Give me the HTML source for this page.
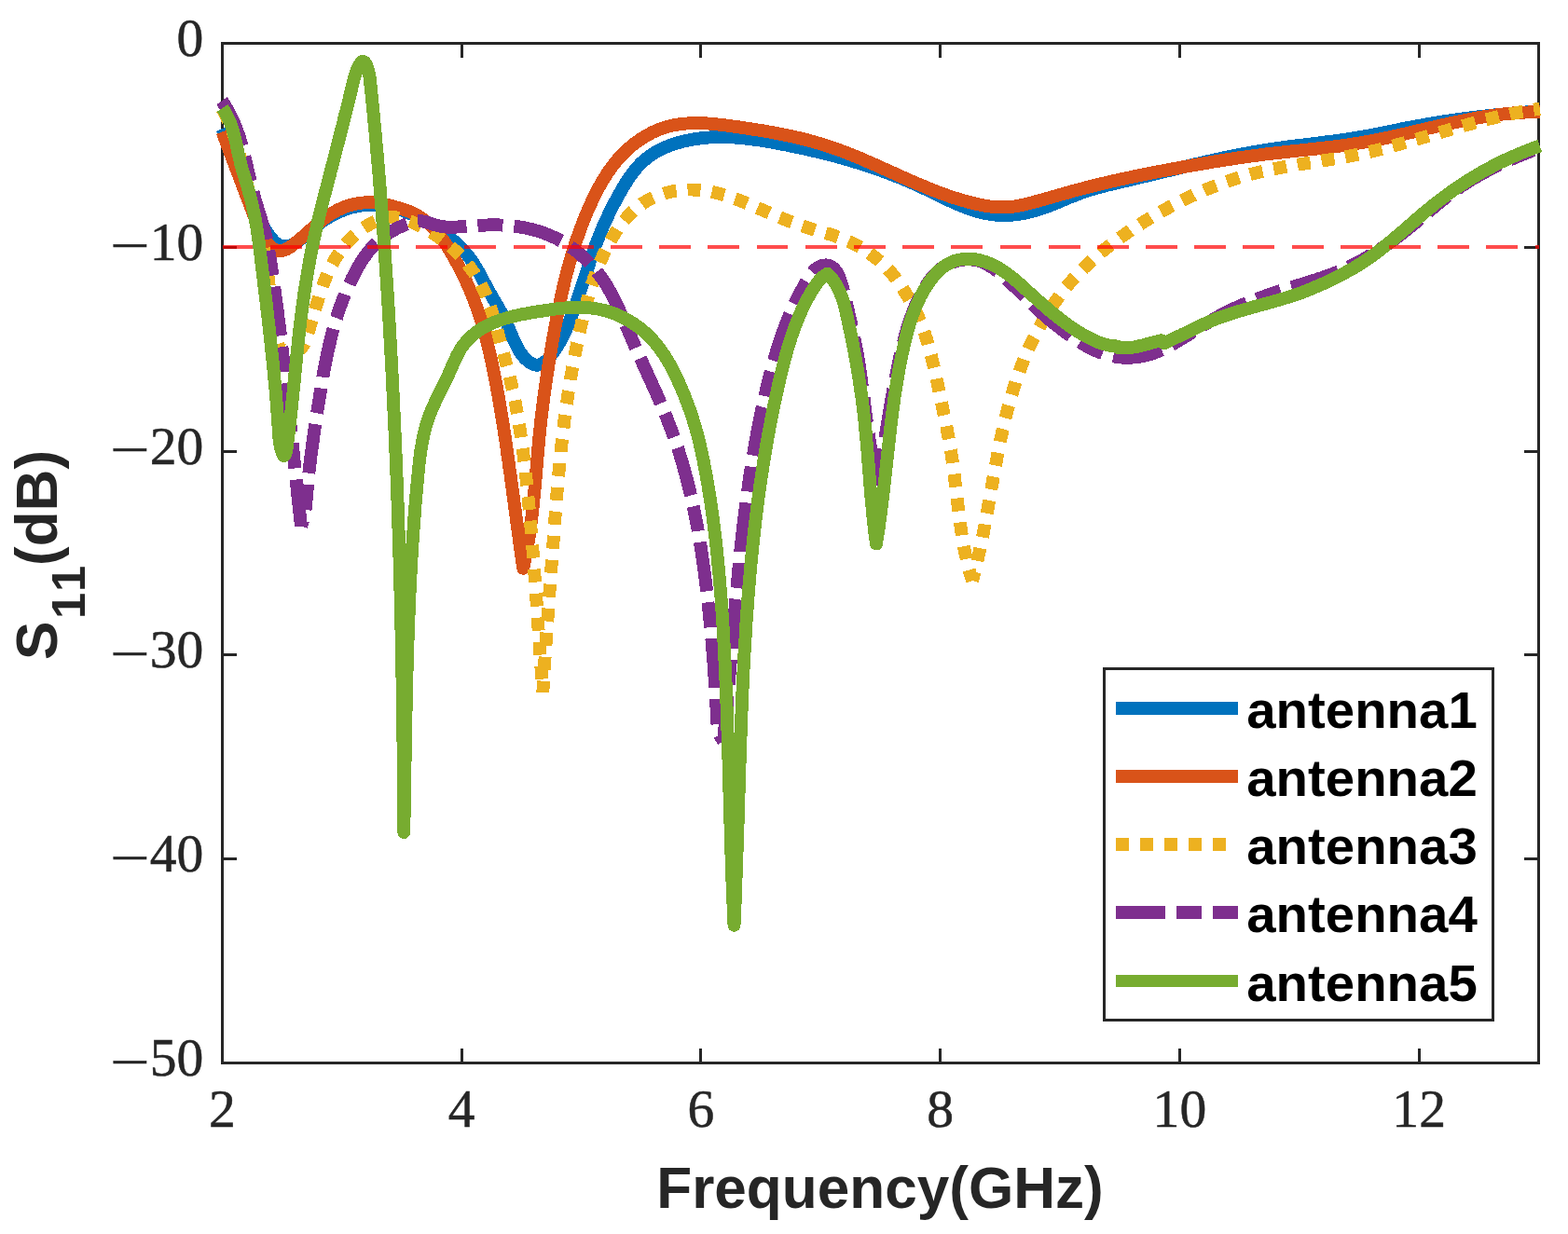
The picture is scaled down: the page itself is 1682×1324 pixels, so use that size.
<!DOCTYPE html>
<html lang="en"><head><meta charset="utf-8"><title>S11 vs Frequency</title>
<style>html,body{margin:0;padding:0;background:#fff}svg{display:block}.tk{font-family:"Liberation Serif",serif;fill:#262626;stroke:#262626;stroke-width:0.5px}.lb{font-family:"Liberation Sans",sans-serif;font-weight:bold;fill:#262626}.lg{font-family:"Liberation Sans",sans-serif;font-weight:bold;fill:#000}</style></head><body>
<svg width="1682" height="1324" viewBox="0 0 1682 1324" shape-rendering="crispEdges">
<rect x="0" y="0" width="1682" height="1324" fill="#fff"/>
<g stroke="#262626" stroke-width="3.0" fill="none" stroke-linecap="butt">
<rect x="238.5" y="46.5" width="1412.0" height="1094.0"/>
<path d="M495.23,1140.5 V1125.3 M495.23,46.5 V61.7"/>
<path d="M751.95,1140.5 V1125.3 M751.95,46.5 V61.7"/>
<path d="M1008.68,1140.5 V1125.3 M1008.68,46.5 V61.7"/>
<path d="M1265.41,1140.5 V1125.3 M1265.41,46.5 V61.7"/>
<path d="M1522.14,1140.5 V1125.3 M1522.14,46.5 V61.7"/>
<path d="M238.5,265.30 H253.7 M1650.5,265.30 H1635.3"/>
<path d="M238.5,484.10 H253.7 M1650.5,484.10 H1635.3"/>
<path d="M238.5,702.90 H253.7 M1650.5,702.90 H1635.3"/>
<path d="M238.5,921.70 H253.7 M1650.5,921.70 H1635.3"/>
</g>
<path d="M238.5,138.0 L239.1,139.4 L239.6,140.8 L240.2,142.1 L240.8,143.5 L241.3,144.9 L241.9,146.3 L242.5,147.7 L243.1,149.1 L243.6,150.5 L244.2,151.8 L244.8,153.2 L245.3,154.6 L245.9,156.0 L246.5,157.4 L247.0,158.8 L247.6,160.2 L248.2,161.6 L248.7,163.0 L249.3,164.4 L249.9,165.8 L250.4,167.2 L251.0,168.6 L251.5,170.0 L252.1,171.4 L252.7,172.8 L253.2,174.2 L253.8,175.6 L254.3,177.0 L254.9,178.4 L255.4,179.8 L256.0,181.2 L256.6,182.6 L257.1,184.0 L257.7,185.4 L258.2,186.8 L258.7,188.2 L259.3,189.6 L259.8,191.0 L260.4,192.4 L260.9,193.8 L261.5,195.2 L262.0,196.6 L262.5,198.0 L263.1,199.4 L263.6,200.8 L264.1,202.1 L264.7,203.5 L265.2,204.9 L265.7,206.3 L266.3,207.7 L266.8,209.1 L267.4,210.5 L267.9,211.9 L268.5,213.3 L269.0,214.6 L269.6,216.0 L270.2,217.4 L270.7,218.8 L271.3,220.2 L271.9,221.5 L272.5,222.9 L273.1,224.3 L273.7,225.6 L274.3,227.0 L275.0,228.4 L275.6,229.7 L276.3,231.1 L276.9,232.4 L277.6,233.8 L278.3,235.1 L279.0,236.5 L279.7,237.8 L280.5,239.2 L281.2,240.5 L282.0,241.8 L282.7,243.2 L283.5,244.5 L284.3,245.8 L285.2,247.1 L286.0,248.4 L286.9,249.8 L287.8,251.1 L288.7,252.4 L289.6,253.6 L290.6,254.9 L291.5,256.1 L292.5,257.3 L293.6,258.5 L294.6,259.5 L295.7,260.5 L296.8,261.4 L298.0,262.2 L299.2,262.9 L300.5,263.4 L301.8,263.8 L303.1,264.1 L304.5,264.3 L305.9,264.3 L307.3,264.2 L308.7,264.0 L310.2,263.7 L311.6,263.3 L313.0,262.8 L314.4,262.2 L315.7,261.5 L317.0,260.8 L318.3,260.0 L319.5,259.1 L320.7,258.2 L321.9,257.3 L323.1,256.3 L324.3,255.3 L325.4,254.3 L326.5,253.2 L327.7,252.2 L328.8,251.1 L330.0,250.1 L331.1,249.0 L332.3,248.0 L333.4,247.0 L334.6,246.0 L335.8,245.0 L337.0,244.0 L338.2,243.1 L339.5,242.1 L340.7,241.2 L342.0,240.3 L343.2,239.4 L344.5,238.5 L345.7,237.6 L347.0,236.8 L348.3,235.9 L349.6,235.1 L350.9,234.3 L352.2,233.5 L353.5,232.7 L354.9,232.0 L356.2,231.3 L357.5,230.5 L358.9,229.9 L360.2,229.2 L361.6,228.5 L363.0,227.9 L364.3,227.3 L365.7,226.7 L367.1,226.1 L368.5,225.6 L369.9,225.0 L371.3,224.5 L372.7,224.1 L374.1,223.6 L375.5,223.2 L376.9,222.7 L378.3,222.4 L379.8,222.0 L381.2,221.7 L382.6,221.4 L384.1,221.1 L385.5,220.8 L387.0,220.6 L388.4,220.4 L389.9,220.2 L391.3,220.0 L392.8,219.9 L394.2,219.8 L395.7,219.8 L397.1,219.7 L398.6,219.7 L400.1,219.7 L401.5,219.8 L403.0,219.8 L404.5,219.9 L405.9,220.1 L407.4,220.2 L408.9,220.4 L410.3,220.6 L411.8,220.8 L413.3,221.0 L414.7,221.3 L416.2,221.5 L417.6,221.8 L419.1,222.2 L420.6,222.5 L422.0,222.9 L423.5,223.3 L424.9,223.7 L426.4,224.1 L427.8,224.6 L429.3,225.0 L430.7,225.5 L432.2,226.0 L433.6,226.5 L435.0,227.1 L436.4,227.6 L437.9,228.2 L439.3,228.8 L440.7,229.4 L442.1,230.0 L443.5,230.6 L444.9,231.3 L446.3,231.9 L447.7,232.6 L449.1,233.3 L450.5,234.0 L451.8,234.7 L453.2,235.4 L454.5,236.2 L455.9,236.9 L457.2,237.7 L458.6,238.5 L459.9,239.3 L461.2,240.1 L462.5,240.9 L463.8,241.7 L465.1,242.5 L466.4,243.3 L467.7,244.2 L469.0,245.0 L470.2,245.9 L471.5,246.7 L472.7,247.6 L474.0,248.5 L475.2,249.3 L476.4,250.2 L477.6,251.1 L478.8,252.0 L480.0,252.9 L481.1,253.8 L482.3,254.8 L483.4,255.7 L484.6,256.6 L485.7,257.6 L486.8,258.6 L487.9,259.5 L489.0,260.5 L490.1,261.5 L491.2,262.5 L492.2,263.5 L493.2,264.6 L494.3,265.6 L495.3,266.7 L496.3,267.7 L497.3,268.8 L498.3,269.9 L499.2,271.0 L500.2,272.1 L501.1,273.3 L502.1,274.4 L503.0,275.6 L503.9,276.8 L504.7,278.0 L505.6,279.2 L506.5,280.4 L507.3,281.7 L508.1,282.9 L508.9,284.2 L509.8,285.5 L510.5,286.8 L511.3,288.1 L512.1,289.4 L512.9,290.7 L513.6,292.1 L514.4,293.4 L515.1,294.8 L515.8,296.1 L516.6,297.5 L517.3,298.8 L518.0,300.2 L518.7,301.5 L519.4,302.9 L520.2,304.2 L520.9,305.6 L521.6,306.9 L522.3,308.3 L523.0,309.6 L523.7,310.9 L524.5,312.2 L525.2,313.5 L525.9,314.8 L526.6,316.1 L527.4,317.4 L528.1,318.7 L528.8,319.9 L529.6,321.2 L530.3,322.5 L531.1,323.7 L531.8,325.0 L532.5,326.2 L533.3,327.5 L534.0,328.7 L534.7,330.0 L535.5,331.2 L536.2,332.5 L536.9,333.8 L537.6,335.1 L538.3,336.4 L539.0,337.7 L539.7,339.0 L540.4,340.3 L541.1,341.6 L541.7,343.0 L542.4,344.3 L543.0,345.7 L543.7,347.1 L544.3,348.5 L544.9,350.0 L545.5,351.4 L546.1,352.8 L546.7,354.3 L547.3,355.8 L547.9,357.2 L548.6,358.7 L549.2,360.2 L549.8,361.6 L550.4,363.1 L551.0,364.5 L551.7,366.0 L552.3,367.4 L553.0,368.8 L553.7,370.2 L554.4,371.6 L555.1,373.0 L555.9,374.3 L556.6,375.7 L557.4,377.0 L558.3,378.2 L559.1,379.5 L560.0,380.7 L560.9,381.8 L561.8,383.0 L562.8,384.1 L563.8,385.1 L564.9,386.1 L566.0,387.1 L567.1,388.0 L568.3,388.9 L569.5,389.7 L570.7,390.3 L572.0,390.9 L573.2,391.3 L574.5,391.6 L575.7,391.7 L577.0,391.6 L578.2,391.4 L579.4,391.0 L580.6,390.5 L581.8,389.9 L583.0,389.2 L584.2,388.4 L585.3,387.4 L586.5,386.4 L587.6,385.3 L588.7,384.2 L589.7,383.0 L590.8,381.7 L591.8,380.5 L592.8,379.1 L593.8,377.8 L594.7,376.5 L595.7,375.2 L596.5,373.8 L597.4,372.5 L598.2,371.2 L599.0,369.8 L599.8,368.5 L600.6,367.2 L601.3,365.8 L602.1,364.5 L602.8,363.2 L603.4,361.8 L604.1,360.5 L604.8,359.1 L605.4,357.8 L606.0,356.4 L606.6,355.1 L607.2,353.7 L607.8,352.3 L608.4,351.0 L609.0,349.6 L609.5,348.2 L610.1,346.9 L610.6,345.5 L611.2,344.1 L611.7,342.7 L612.2,341.3 L612.8,339.9 L613.3,338.6 L613.8,337.2 L614.3,335.8 L614.8,334.4 L615.4,333.0 L615.9,331.6 L616.4,330.2 L616.9,328.8 L617.4,327.3 L617.8,325.9 L618.3,324.5 L618.8,323.1 L619.3,321.7 L619.8,320.3 L620.3,318.8 L620.7,317.4 L621.2,316.0 L621.7,314.6 L622.2,313.2 L622.6,311.7 L623.1,310.3 L623.6,308.9 L624.0,307.4 L624.5,306.0 L625.0,304.6 L625.4,303.2 L625.9,301.7 L626.4,300.3 L626.8,298.9 L627.3,297.4 L627.8,296.0 L628.2,294.6 L628.7,293.1 L629.2,291.7 L629.6,290.3 L630.1,288.8 L630.6,287.4 L631.0,286.0 L631.5,284.6 L632.0,283.1 L632.5,281.7 L632.9,280.3 L633.4,278.8 L633.9,277.4 L634.4,276.0 L634.9,274.6 L635.4,273.2 L635.9,271.7 L636.4,270.3 L636.9,268.9 L637.4,267.5 L637.9,266.1 L638.4,264.7 L638.9,263.3 L639.4,261.8 L640.0,260.4 L640.5,259.0 L641.0,257.6 L641.6,256.2 L642.1,254.8 L642.6,253.5 L643.2,252.1 L643.8,250.7 L644.3,249.3 L644.9,247.9 L645.5,246.5 L646.1,245.2 L646.6,243.8 L647.2,242.4 L647.8,241.0 L648.4,239.7 L649.1,238.3 L649.7,237.0 L650.3,235.6 L650.9,234.3 L651.6,232.9 L652.2,231.6 L652.9,230.2 L653.5,228.9 L654.2,227.5 L654.8,226.2 L655.5,224.8 L656.2,223.5 L656.9,222.2 L657.5,220.8 L658.2,219.5 L658.9,218.2 L659.6,216.8 L660.4,215.5 L661.1,214.2 L661.8,212.8 L662.5,211.5 L663.3,210.2 L664.0,208.8 L664.7,207.5 L665.5,206.2 L666.2,204.9 L667.0,203.5 L667.8,202.2 L668.5,200.9 L669.3,199.6 L670.1,198.3 L670.9,197.0 L671.7,195.7 L672.5,194.4 L673.4,193.1 L674.2,191.8 L675.1,190.6 L675.9,189.3 L676.8,188.1 L677.7,186.8 L678.6,185.6 L679.5,184.4 L680.5,183.2 L681.4,182.0 L682.4,180.9 L683.3,179.8 L684.3,178.6 L685.4,177.5 L686.4,176.4 L687.4,175.4 L688.5,174.3 L689.6,173.3 L690.7,172.3 L691.8,171.4 L693.0,170.4 L694.1,169.5 L695.3,168.6 L696.5,167.7 L697.7,166.8 L698.9,166.0 L700.2,165.2 L701.4,164.4 L702.7,163.6 L704.0,162.9 L705.3,162.1 L706.6,161.4 L708.0,160.7 L709.3,160.1 L710.7,159.4 L712.0,158.8 L713.4,158.2 L714.8,157.6 L716.2,157.0 L717.6,156.5 L719.0,155.9 L720.4,155.4 L721.9,154.9 L723.3,154.4 L724.8,154.0 L726.2,153.5 L727.7,153.1 L729.1,152.7 L730.6,152.3 L732.1,151.9 L733.5,151.5 L735.0,151.2 L736.5,150.9 L738.0,150.6 L739.5,150.2 L740.9,150.0 L742.4,149.7 L743.9,149.4 L745.4,149.2 L746.9,149.0 L748.4,148.8 L749.9,148.6 L751.4,148.4 L752.8,148.2 L754.3,148.0 L755.8,147.9 L757.3,147.8 L758.8,147.6 L760.3,147.5 L761.8,147.4 L763.3,147.4 L764.8,147.3 L766.3,147.2 L767.8,147.2 L769.3,147.1 L770.8,147.1 L772.3,147.1 L773.8,147.1 L775.3,147.1 L776.7,147.1 L778.2,147.2 L779.7,147.2 L781.2,147.2 L782.7,147.3 L784.2,147.4 L785.7,147.4 L787.2,147.5 L788.7,147.6 L790.2,147.7 L791.7,147.8 L793.2,148.0 L794.7,148.1 L796.2,148.2 L797.7,148.4 L799.2,148.5 L800.7,148.7 L802.2,148.9 L803.7,149.0 L805.2,149.2 L806.7,149.4 L808.2,149.6 L809.7,149.8 L811.2,150.0 L812.6,150.2 L814.1,150.4 L815.6,150.6 L817.1,150.9 L818.6,151.1 L820.1,151.3 L821.6,151.6 L823.1,151.8 L824.6,152.1 L826.1,152.3 L827.5,152.6 L829.0,152.9 L830.5,153.1 L832.0,153.4 L833.5,153.7 L835.0,154.0 L836.5,154.2 L837.9,154.5 L839.4,154.8 L840.9,155.1 L842.4,155.4 L843.9,155.7 L845.3,156.0 L846.8,156.3 L848.3,156.6 L849.8,156.9 L851.2,157.2 L852.7,157.5 L854.2,157.8 L855.7,158.1 L857.1,158.4 L858.6,158.7 L860.1,159.0 L861.5,159.4 L863.0,159.7 L864.5,160.0 L865.9,160.3 L867.4,160.7 L868.9,161.0 L870.3,161.3 L871.8,161.7 L873.2,162.0 L874.7,162.3 L876.2,162.7 L877.6,163.0 L879.1,163.4 L880.5,163.7 L882.0,164.1 L883.4,164.5 L884.9,164.8 L886.3,165.2 L887.8,165.6 L889.2,165.9 L890.7,166.3 L892.1,166.7 L893.6,167.1 L895.0,167.5 L896.5,167.8 L897.9,168.2 L899.4,168.6 L900.8,169.0 L902.2,169.4 L903.7,169.8 L905.1,170.2 L906.6,170.6 L908.0,171.0 L909.4,171.5 L910.9,171.9 L912.3,172.3 L913.7,172.7 L915.2,173.2 L916.6,173.6 L918.0,174.0 L919.5,174.5 L920.9,174.9 L922.3,175.4 L923.7,175.8 L925.2,176.3 L926.6,176.7 L928.0,177.2 L929.4,177.6 L930.9,178.1 L932.3,178.6 L933.7,179.0 L935.1,179.5 L936.5,180.0 L937.9,180.5 L939.4,181.0 L940.8,181.5 L942.2,182.0 L943.6,182.5 L945.0,183.0 L946.4,183.5 L947.8,184.0 L949.2,184.5 L950.6,185.0 L952.0,185.6 L953.4,186.1 L954.8,186.6 L956.2,187.2 L957.6,187.7 L959.0,188.3 L960.4,188.8 L961.8,189.4 L963.2,189.9 L964.6,190.5 L966.0,191.0 L967.4,191.6 L968.8,192.2 L970.2,192.8 L971.6,193.3 L973.0,193.9 L974.4,194.5 L975.8,195.1 L977.1,195.7 L978.5,196.3 L979.9,196.9 L981.3,197.6 L982.7,198.2 L984.1,198.8 L985.4,199.4 L986.8,200.1 L988.2,200.7 L989.6,201.3 L990.9,202.0 L992.3,202.6 L993.7,203.3 L995.1,203.9 L996.4,204.6 L997.8,205.3 L999.2,205.9 L1000.5,206.6 L1001.9,207.3 L1003.3,207.9 L1004.7,208.6 L1006.0,209.3 L1007.4,209.9 L1008.8,210.6 L1010.1,211.3 L1011.5,211.9 L1012.9,212.6 L1014.2,213.2 L1015.6,213.9 L1017.0,214.5 L1018.4,215.2 L1019.7,215.8 L1021.1,216.4 L1022.5,217.1 L1023.9,217.7 L1025.2,218.3 L1026.6,218.9 L1028.0,219.5 L1029.4,220.1 L1030.8,220.6 L1032.2,221.2 L1033.6,221.7 L1034.9,222.3 L1036.3,222.8 L1037.7,223.3 L1039.1,223.8 L1040.5,224.3 L1041.9,224.8 L1043.4,225.3 L1044.8,225.7 L1046.2,226.2 L1047.6,226.6 L1049.0,227.0 L1050.4,227.4 L1051.9,227.8 L1053.3,228.1 L1054.7,228.5 L1056.2,228.8 L1057.6,229.1 L1059.1,229.4 L1060.5,229.6 L1062.0,229.9 L1063.4,230.1 L1064.9,230.3 L1066.3,230.5 L1067.8,230.6 L1069.3,230.7 L1070.8,230.9 L1072.3,230.9 L1073.7,231.0 L1075.2,231.0 L1076.7,231.1 L1078.2,231.0 L1079.7,231.0 L1081.3,231.0 L1082.8,230.9 L1084.3,230.8 L1085.8,230.7 L1087.3,230.5 L1088.8,230.4 L1090.3,230.2 L1091.8,230.0 L1093.3,229.8 L1094.9,229.5 L1096.4,229.3 L1097.9,229.0 L1099.4,228.7 L1100.9,228.4 L1102.4,228.1 L1103.9,227.7 L1105.3,227.4 L1106.8,227.0 L1108.3,226.6 L1109.8,226.2 L1111.2,225.8 L1112.7,225.3 L1114.1,224.9 L1115.6,224.4 L1117.0,223.9 L1118.4,223.5 L1119.8,223.0 L1121.3,222.4 L1122.7,221.9 L1124.1,221.4 L1125.5,220.9 L1126.9,220.3 L1128.3,219.8 L1129.7,219.2 L1131.1,218.6 L1132.5,218.1 L1133.9,217.5 L1135.3,216.9 L1136.6,216.4 L1138.0,215.8 L1139.4,215.2 L1140.8,214.6 L1142.2,214.0 L1143.6,213.5 L1144.9,212.9 L1146.3,212.3 L1147.7,211.7 L1149.1,211.2 L1150.5,210.6 L1151.9,210.1 L1153.3,209.5 L1154.6,209.0 L1156.0,208.4 L1157.4,207.9 L1158.8,207.4 L1160.2,206.9 L1161.7,206.4 L1163.1,205.9 L1164.5,205.4 L1165.9,205.0 L1167.3,204.5 L1168.7,204.1 L1170.2,203.6 L1171.6,203.2 L1173.0,202.7 L1174.5,202.3 L1175.9,201.9 L1177.4,201.5 L1178.8,201.1 L1180.3,200.7 L1181.7,200.3 L1183.2,200.0 L1184.6,199.6 L1186.1,199.2 L1187.5,198.8 L1189.0,198.5 L1190.4,198.1 L1191.9,197.8 L1193.4,197.4 L1194.8,197.1 L1196.3,196.7 L1197.7,196.4 L1199.2,196.0 L1200.7,195.7 L1202.1,195.3 L1203.6,195.0 L1205.1,194.7 L1206.5,194.3 L1208.0,194.0 L1209.5,193.6 L1210.9,193.3 L1212.4,193.0 L1213.9,192.6 L1215.3,192.3 L1216.8,191.9 L1218.3,191.6 L1219.7,191.2 L1221.2,190.9 L1222.7,190.5 L1224.1,190.2 L1225.6,189.8 L1227.0,189.5 L1228.5,189.1 L1230.0,188.8 L1231.4,188.4 L1232.9,188.1 L1234.4,187.7 L1235.8,187.4 L1237.3,187.0 L1238.7,186.7 L1240.2,186.3 L1241.7,186.0 L1243.1,185.6 L1244.6,185.2 L1246.1,184.9 L1247.5,184.5 L1249.0,184.2 L1250.4,183.8 L1251.9,183.5 L1253.4,183.1 L1254.8,182.8 L1256.3,182.4 L1257.7,182.1 L1259.2,181.7 L1260.7,181.3 L1262.1,181.0 L1263.6,180.6 L1265.0,180.3 L1266.5,179.9 L1268.0,179.6 L1269.4,179.2 L1270.9,178.9 L1272.4,178.5 L1273.8,178.2 L1275.3,177.8 L1276.7,177.5 L1278.2,177.2 L1279.7,176.8 L1281.1,176.5 L1282.6,176.1 L1284.0,175.8 L1285.5,175.4 L1287.0,175.1 L1288.4,174.8 L1289.9,174.4 L1291.4,174.1 L1292.8,173.8 L1294.3,173.4 L1295.8,173.1 L1297.2,172.8 L1298.7,172.4 L1300.1,172.1 L1301.6,171.8 L1303.1,171.5 L1304.5,171.1 L1306.0,170.8 L1307.5,170.5 L1308.9,170.2 L1310.4,169.9 L1311.9,169.6 L1313.3,169.2 L1314.8,168.9 L1316.3,168.6 L1317.7,168.3 L1319.2,168.0 L1320.7,167.7 L1322.2,167.4 L1323.6,167.1 L1325.1,166.8 L1326.6,166.5 L1328.0,166.2 L1329.5,165.9 L1331.0,165.7 L1332.4,165.4 L1333.9,165.1 L1335.4,164.8 L1336.9,164.5 L1338.3,164.3 L1339.8,164.0 L1341.3,163.7 L1342.8,163.5 L1344.2,163.2 L1345.7,162.9 L1347.2,162.7 L1348.7,162.4 L1350.2,162.2 L1351.6,161.9 L1353.1,161.7 L1354.6,161.4 L1356.1,161.2 L1357.6,160.9 L1359.0,160.7 L1360.5,160.5 L1362.0,160.3 L1363.5,160.0 L1365.0,159.8 L1366.5,159.6 L1367.9,159.4 L1369.4,159.2 L1370.9,159.0 L1372.4,158.7 L1373.9,158.5 L1375.4,158.3 L1376.9,158.1 L1378.4,157.9 L1379.9,157.7 L1381.3,157.5 L1382.8,157.3 L1384.3,157.1 L1385.8,157.0 L1387.3,156.8 L1388.8,156.6 L1390.3,156.4 L1391.8,156.2 L1393.3,156.0 L1394.8,155.8 L1396.3,155.6 L1397.7,155.5 L1399.2,155.3 L1400.7,155.1 L1402.2,154.9 L1403.7,154.7 L1405.2,154.6 L1406.7,154.4 L1408.2,154.2 L1409.7,154.0 L1411.2,153.8 L1412.7,153.6 L1414.2,153.5 L1415.7,153.3 L1417.1,153.1 L1418.6,152.9 L1420.1,152.7 L1421.6,152.5 L1423.1,152.3 L1424.6,152.1 L1426.1,152.0 L1427.6,151.8 L1429.1,151.6 L1430.6,151.4 L1432.1,151.2 L1433.5,151.0 L1435.0,150.8 L1436.5,150.6 L1438.0,150.3 L1439.5,150.1 L1441.0,149.9 L1442.5,149.7 L1444.0,149.5 L1445.4,149.3 L1446.9,149.0 L1448.4,148.8 L1449.9,148.6 L1451.4,148.4 L1452.9,148.1 L1454.3,147.9 L1455.8,147.6 L1457.3,147.4 L1458.8,147.1 L1460.3,146.9 L1461.7,146.6 L1463.2,146.4 L1464.7,146.1 L1466.2,145.8 L1467.6,145.6 L1469.1,145.3 L1470.6,145.0 L1472.1,144.7 L1473.5,144.4 L1475.0,144.2 L1476.5,143.9 L1478.0,143.6 L1479.4,143.3 L1480.9,143.0 L1482.4,142.7 L1483.8,142.4 L1485.3,142.1 L1486.8,141.8 L1488.3,141.5 L1489.7,141.2 L1491.2,140.9 L1492.7,140.6 L1494.1,140.3 L1495.6,140.0 L1497.1,139.7 L1498.5,139.4 L1500.0,139.1 L1501.5,138.8 L1503.0,138.5 L1504.4,138.2 L1505.9,137.9 L1507.4,137.6 L1508.9,137.3 L1510.3,137.1 L1511.8,136.8 L1513.3,136.5 L1514.7,136.2 L1516.2,135.9 L1517.7,135.6 L1519.2,135.4 L1520.7,135.1 L1522.1,134.8 L1523.6,134.6 L1525.1,134.3 L1526.6,134.0 L1528.0,133.8 L1529.5,133.5 L1531.0,133.3 L1532.5,133.0 L1534.0,132.7 L1535.4,132.5 L1536.9,132.2 L1538.4,132.0 L1539.9,131.8 L1541.4,131.5 L1542.9,131.3 L1544.3,131.0 L1545.8,130.8 L1547.3,130.6 L1548.8,130.3 L1550.3,130.1 L1551.8,129.9 L1553.2,129.7 L1554.7,129.4 L1556.2,129.2 L1557.7,129.0 L1559.2,128.8 L1560.7,128.6 L1562.2,128.4 L1563.7,128.2 L1565.1,128.0 L1566.6,127.7 L1568.1,127.5 L1569.6,127.3 L1571.1,127.1 L1572.6,127.0 L1574.1,126.8 L1575.6,126.6 L1577.1,126.4 L1578.5,126.2 L1580.0,126.0 L1581.5,125.8 L1583.0,125.6 L1584.5,125.5 L1586.0,125.3 L1587.5,125.1 L1589.0,124.9 L1590.5,124.8 L1592.0,124.6 L1593.5,124.4 L1595.0,124.3 L1596.5,124.1 L1597.9,123.9 L1599.4,123.8 L1600.9,123.6 L1602.4,123.5 L1603.9,123.3 L1605.4,123.2 L1606.9,123.0 L1608.4,122.9 L1609.9,122.7 L1611.4,122.6 L1612.9,122.4 L1614.4,122.3 L1615.9,122.1 L1617.4,122.0 L1618.9,121.9 L1620.4,121.7 L1621.9,121.6 L1623.4,121.5 L1624.9,121.4 L1626.4,121.2 L1627.9,121.1 L1629.3,121.0 L1630.8,120.9 L1632.3,120.8 L1633.8,120.6 L1635.3,120.5 L1636.8,120.4 L1638.3,120.3 L1639.8,120.2 L1641.3,120.1 L1642.8,120.0 L1644.3,119.9 L1645.8,119.8 L1647.3,119.7 L1648.8,119.6 L1650.3,119.5 L1651.8,119.4" fill="none" stroke="#0072BD" stroke-width="13.9" stroke-linejoin="round" stroke-linecap="butt"/>
<path d="M238.5,141.5 L239.0,142.9 L239.6,144.4 L240.1,145.8 L240.7,147.3 L241.2,148.7 L241.7,150.1 L242.3,151.5 L242.8,153.0 L243.3,154.4 L243.9,155.8 L244.4,157.2 L244.9,158.6 L245.4,160.0 L246.0,161.5 L246.5,162.9 L247.0,164.3 L247.6,165.7 L248.1,167.1 L248.6,168.5 L249.2,169.9 L249.7,171.3 L250.2,172.6 L250.7,174.0 L251.3,175.4 L251.8,176.8 L252.3,178.2 L252.8,179.6 L253.4,181.0 L253.9,182.4 L254.4,183.8 L254.9,185.1 L255.5,186.5 L256.0,187.9 L256.5,189.3 L257.0,190.7 L257.6,192.1 L258.1,193.5 L258.6,194.8 L259.2,196.2 L259.7,197.6 L260.2,199.0 L260.7,200.4 L261.3,201.8 L261.8,203.2 L262.3,204.6 L262.8,206.0 L263.4,207.4 L263.9,208.8 L264.4,210.2 L265.0,211.6 L265.5,213.0 L266.0,214.4 L266.6,215.8 L267.1,217.2 L267.6,218.6 L268.2,220.0 L268.7,221.4 L269.2,222.9 L269.8,224.3 L270.3,225.7 L270.8,227.1 L271.4,228.6 L271.9,230.0 L272.5,231.4 L273.0,232.9 L273.5,234.3 L274.1,235.8 L274.6,237.2 L275.2,238.7 L275.7,240.1 L276.3,241.6 L276.8,243.1 L277.4,244.5 L278.0,246.0 L278.6,247.4 L279.2,248.8 L279.9,250.2 L280.5,251.6 L281.3,253.0 L282.0,254.3 L282.8,255.7 L283.6,257.0 L284.5,258.2 L285.4,259.5 L286.4,260.7 L287.4,261.8 L288.4,262.9 L289.6,264.0 L290.7,265.0 L291.9,265.9 L293.2,266.8 L294.4,267.5 L295.7,268.1 L297.0,268.6 L298.3,268.9 L299.7,269.1 L301.0,269.2 L302.3,269.1 L303.6,268.8 L304.9,268.4 L306.2,267.9 L307.5,267.3 L308.8,266.6 L310.0,265.8 L311.3,265.0 L312.5,264.1 L313.8,263.1 L315.0,262.2 L316.3,261.2 L317.5,260.2 L318.7,259.2 L319.9,258.2 L321.0,257.2 L322.2,256.2 L323.4,255.2 L324.6,254.2 L325.7,253.2 L326.9,252.2 L328.0,251.2 L329.2,250.2 L330.3,249.1 L331.4,248.1 L332.6,247.1 L333.7,246.1 L334.8,245.1 L336.0,244.1 L337.1,243.1 L338.3,242.1 L339.4,241.2 L340.6,240.2 L341.7,239.2 L342.9,238.3 L344.0,237.4 L345.2,236.4 L346.4,235.5 L347.6,234.6 L348.8,233.7 L350.0,232.9 L351.2,232.0 L352.4,231.2 L353.7,230.3 L354.9,229.5 L356.2,228.7 L357.5,228.0 L358.8,227.2 L360.1,226.5 L361.4,225.8 L362.7,225.1 L364.1,224.5 L365.5,223.8 L366.9,223.2 L368.3,222.6 L369.7,222.1 L371.2,221.5 L372.7,221.0 L374.1,220.6 L375.6,220.1 L377.1,219.7 L378.6,219.3 L380.1,219.0 L381.6,218.6 L383.1,218.3 L384.7,218.1 L386.2,217.9 L387.7,217.7 L389.2,217.5 L390.7,217.4 L392.2,217.3 L393.7,217.2 L395.2,217.2 L396.7,217.2 L398.2,217.2 L399.7,217.3 L401.1,217.4 L402.6,217.6 L404.0,217.7 L405.5,217.9 L407.0,218.2 L408.4,218.4 L409.9,218.7 L411.3,219.0 L412.8,219.3 L414.2,219.6 L415.7,219.9 L417.1,220.3 L418.6,220.6 L420.1,221.0 L421.6,221.4 L423.1,221.8 L424.5,222.2 L426.0,222.6 L427.5,223.0 L429.0,223.5 L430.5,224.0 L432.0,224.4 L433.5,224.9 L434.9,225.4 L436.4,226.0 L437.8,226.5 L439.3,227.1 L440.7,227.7 L442.1,228.3 L443.5,229.0 L444.8,229.6 L446.2,230.3 L447.5,231.1 L448.8,231.8 L450.0,232.6 L451.3,233.4 L452.5,234.2 L453.7,235.1 L454.9,236.0 L456.1,236.9 L457.3,237.8 L458.4,238.7 L459.5,239.7 L460.6,240.7 L461.7,241.7 L462.8,242.7 L463.8,243.8 L464.9,244.8 L465.9,245.9 L466.9,247.0 L467.9,248.1 L468.8,249.2 L469.8,250.4 L470.7,251.5 L471.7,252.7 L472.6,253.9 L473.5,255.1 L474.4,256.3 L475.3,257.5 L476.1,258.8 L477.0,260.0 L477.8,261.3 L478.7,262.5 L479.5,263.8 L480.3,265.1 L481.1,266.4 L481.9,267.7 L482.7,269.0 L483.5,270.3 L484.2,271.6 L485.0,272.9 L485.8,274.2 L486.5,275.6 L487.2,276.9 L488.0,278.2 L488.7,279.6 L489.4,280.9 L490.2,282.3 L490.9,283.6 L491.6,284.9 L492.3,286.3 L493.0,287.6 L493.7,289.0 L494.4,290.3 L495.1,291.7 L495.7,293.0 L496.4,294.4 L497.1,295.7 L497.7,297.1 L498.4,298.5 L499.0,299.8 L499.7,301.2 L500.3,302.5 L500.9,303.9 L501.6,305.3 L502.2,306.7 L502.8,308.0 L503.4,309.4 L504.0,310.8 L504.6,312.2 L505.1,313.6 L505.7,314.9 L506.3,316.3 L506.8,317.7 L507.4,319.1 L507.9,320.5 L508.5,321.9 L509.0,323.3 L509.5,324.7 L510.0,326.1 L510.6,327.5 L511.1,328.9 L511.6,330.4 L512.1,331.8 L512.5,333.2 L513.0,334.6 L513.5,336.0 L514.0,337.4 L514.4,338.9 L514.9,340.3 L515.4,341.7 L515.8,343.2 L516.2,344.6 L516.7,346.0 L517.1,347.5 L517.5,348.9 L518.0,350.3 L518.4,351.8 L518.8,353.2 L519.2,354.7 L519.6,356.1 L520.0,357.6 L520.4,359.0 L520.8,360.5 L521.2,361.9 L521.6,363.4 L521.9,364.8 L522.3,366.3 L522.7,367.7 L523.0,369.2 L523.4,370.7 L523.7,372.1 L524.1,373.6 L524.4,375.0 L524.8,376.5 L525.1,378.0 L525.5,379.4 L525.8,380.9 L526.1,382.4 L526.5,383.8 L526.8,385.3 L527.1,386.8 L527.4,388.3 L527.7,389.7 L528.0,391.2 L528.3,392.7 L528.7,394.1 L529.0,395.6 L529.3,397.1 L529.6,398.6 L529.9,400.1 L530.1,401.5 L530.4,403.0 L530.7,404.5 L531.0,406.0 L531.3,407.4 L531.6,408.9 L531.9,410.4 L532.1,411.9 L532.4,413.4 L532.7,414.8 L533.0,416.3 L533.2,417.8 L533.5,419.3 L533.8,420.8 L534.0,422.2 L534.3,423.7 L534.6,425.2 L534.8,426.7 L535.1,428.2 L535.4,429.7 L535.6,431.1 L535.9,432.6 L536.1,434.1 L536.4,435.6 L536.6,437.1 L536.9,438.6 L537.1,440.0 L537.4,441.5 L537.6,443.0 L537.9,444.5 L538.1,446.0 L538.3,447.5 L538.6,449.0 L538.8,450.4 L539.1,451.9 L539.3,453.4 L539.5,454.9 L539.8,456.4 L540.0,457.9 L540.2,459.4 L540.5,460.8 L540.7,462.3 L540.9,463.8 L541.1,465.3 L541.4,466.8 L541.6,468.3 L541.8,469.8 L542.0,471.2 L542.3,472.7 L542.5,474.2 L542.7,475.7 L542.9,477.2 L543.1,478.7 L543.4,480.2 L543.6,481.7 L543.8,483.2 L544.0,484.6 L544.2,486.1 L544.4,487.6 L544.7,489.1 L544.9,490.6 L545.1,492.1 L545.3,493.6 L545.5,495.1 L545.7,496.6 L545.9,498.0 L546.1,499.5 L546.3,501.0 L546.5,502.5 L546.7,504.0 L546.9,505.5 L547.2,507.0 L547.4,508.5 L547.6,510.0 L547.8,511.4 L548.0,512.9 L548.2,514.4 L548.4,515.9 L548.6,517.4 L548.8,518.9 L549.0,520.4 L549.2,521.9 L549.4,523.4 L549.6,524.9 L549.8,526.4 L550.0,527.8 L550.2,529.3 L550.4,530.8 L550.6,532.3 L550.8,533.8 L551.0,535.3 L551.2,536.8 L551.4,538.3 L551.6,539.8 L551.8,541.3 L552.0,542.7 L552.2,544.2 L552.4,545.7 L552.6,547.2 L552.8,548.7 L553.0,550.2 L553.2,551.7 L553.4,553.2 L553.6,554.7 L553.8,556.2 L554.0,557.6 L554.2,559.1 L554.4,560.6 L554.6,562.1 L554.8,563.6 L555.0,565.1 L555.2,566.6 L555.4,568.1 L555.6,569.6 L555.8,571.1 L556.0,572.5 L556.2,574.0 L556.4,575.5 L556.6,577.0 L556.8,578.5 L557.0,580.0 L557.2,581.5 L557.4,583.0 L557.6,584.5 L557.8,585.9 L558.0,587.4 L558.3,588.9 L558.5,590.4 L558.7,591.9 L558.9,593.4 L559.1,594.9 L559.3,596.4 L559.5,597.9 L559.7,599.3 L559.9,600.8 L560.2,602.3 L560.4,603.8 L560.6,605.3 L560.8,606.8 L561.0,608.3 L561.2,609.8 L561.6,608.3 L561.9,606.8 L562.2,605.3 L562.5,603.9 L562.8,602.4 L563.2,600.9 L563.5,599.5 L563.7,598.0 L564.0,596.5 L564.3,595.0 L564.6,593.6 L564.9,592.1 L565.1,590.6 L565.4,589.1 L565.7,587.6 L565.9,586.2 L566.2,584.7 L566.4,583.2 L566.7,581.7 L566.9,580.2 L567.1,578.8 L567.4,577.3 L567.6,575.8 L567.8,574.3 L568.0,572.8 L568.2,571.3 L568.5,569.8 L568.7,568.4 L568.9,566.9 L569.1,565.4 L569.3,563.9 L569.5,562.4 L569.7,560.9 L569.8,559.4 L570.0,557.9 L570.2,556.4 L570.4,555.0 L570.6,553.5 L570.7,552.0 L570.9,550.5 L571.1,549.0 L571.3,547.5 L571.4,546.0 L571.6,544.5 L571.7,543.0 L571.9,541.5 L572.1,540.0 L572.2,538.5 L572.4,537.0 L572.5,535.5 L572.7,534.0 L572.8,532.5 L573.0,531.0 L573.1,529.5 L573.2,528.0 L573.4,526.5 L573.5,525.0 L573.7,523.5 L573.8,522.1 L573.9,520.6 L574.1,519.1 L574.2,517.6 L574.3,516.1 L574.5,514.6 L574.6,513.1 L574.7,511.6 L574.8,510.1 L575.0,508.6 L575.1,507.1 L575.2,505.6 L575.4,504.1 L575.5,502.6 L575.6,501.1 L575.7,499.6 L575.9,498.1 L576.0,496.6 L576.1,495.1 L576.3,493.6 L576.4,492.1 L576.5,490.6 L576.6,489.1 L576.8,487.6 L576.9,486.1 L577.0,484.6 L577.2,483.1 L577.3,481.6 L577.4,480.1 L577.6,478.6 L577.7,477.1 L577.8,475.6 L578.0,474.1 L578.1,472.6 L578.3,471.1 L578.4,469.6 L578.5,468.1 L578.7,466.6 L578.8,465.1 L579.0,463.6 L579.1,462.1 L579.3,460.6 L579.5,459.1 L579.6,457.6 L579.8,456.1 L579.9,454.7 L580.1,453.2 L580.3,451.7 L580.4,450.2 L580.6,448.7 L580.8,447.2 L580.9,445.7 L581.1,444.2 L581.3,442.7 L581.5,441.2 L581.6,439.7 L581.8,438.3 L582.0,436.8 L582.2,435.3 L582.4,433.8 L582.6,432.3 L582.8,430.8 L583.0,429.3 L583.2,427.8 L583.3,426.3 L583.5,424.9 L583.7,423.4 L583.9,421.9 L584.2,420.4 L584.4,418.9 L584.6,417.4 L584.8,415.9 L585.0,414.5 L585.2,413.0 L585.4,411.5 L585.6,410.0 L585.8,408.5 L586.1,407.0 L586.3,405.5 L586.5,404.1 L586.7,402.6 L586.9,401.1 L587.2,399.6 L587.4,398.1 L587.6,396.6 L587.9,395.2 L588.1,393.7 L588.3,392.2 L588.6,390.7 L588.8,389.2 L589.0,387.7 L589.3,386.3 L589.5,384.8 L589.8,383.3 L590.0,381.8 L590.3,380.3 L590.5,378.8 L590.7,377.4 L591.0,375.9 L591.3,374.4 L591.5,372.9 L591.8,371.4 L592.0,370.0 L592.3,368.5 L592.5,367.0 L592.8,365.5 L593.1,364.0 L593.3,362.5 L593.6,361.1 L593.8,359.6 L594.1,358.1 L594.4,356.6 L594.6,355.1 L594.9,353.7 L595.2,352.2 L595.5,350.7 L595.7,349.2 L596.0,347.7 L596.3,346.3 L596.6,344.8 L596.9,343.3 L597.1,341.8 L597.4,340.3 L597.7,338.9 L598.0,337.4 L598.3,335.9 L598.6,334.4 L598.9,333.0 L599.2,331.5 L599.5,330.0 L599.8,328.5 L600.1,327.1 L600.4,325.6 L600.7,324.1 L601.0,322.6 L601.4,321.2 L601.7,319.7 L602.0,318.2 L602.3,316.7 L602.6,315.3 L603.0,313.8 L603.3,312.3 L603.6,310.9 L604.0,309.4 L604.3,307.9 L604.7,306.5 L605.0,305.0 L605.4,303.6 L605.7,302.1 L606.1,300.6 L606.4,299.2 L606.8,297.7 L607.2,296.2 L607.5,294.8 L607.9,293.3 L608.3,291.9 L608.7,290.4 L609.0,289.0 L609.4,287.5 L609.8,286.1 L610.2,284.6 L610.6,283.2 L611.0,281.7 L611.4,280.3 L611.8,278.8 L612.3,277.4 L612.7,276.0 L613.1,274.5 L613.5,273.1 L614.0,271.6 L614.4,270.2 L614.8,268.8 L615.3,267.3 L615.7,265.9 L616.2,264.5 L616.6,263.0 L617.1,261.6 L617.6,260.2 L618.0,258.8 L618.5,257.3 L619.0,255.9 L619.5,254.5 L620.0,253.1 L620.5,251.7 L621.0,250.3 L621.5,248.8 L622.0,247.4 L622.5,246.0 L623.0,244.6 L623.5,243.2 L624.1,241.8 L624.6,240.4 L625.1,239.0 L625.7,237.6 L626.2,236.2 L626.8,234.8 L627.3,233.4 L627.9,232.1 L628.5,230.7 L629.1,229.3 L629.7,227.9 L630.2,226.5 L630.8,225.1 L631.4,223.8 L632.0,222.4 L632.7,221.0 L633.3,219.6 L633.9,218.3 L634.5,216.9 L635.2,215.6 L635.8,214.2 L636.5,212.8 L637.1,211.5 L637.8,210.1 L638.5,208.8 L639.1,207.4 L639.8,206.1 L640.5,204.8 L641.2,203.4 L641.9,202.1 L642.6,200.8 L643.3,199.4 L644.1,198.1 L644.8,196.8 L645.6,195.5 L646.3,194.2 L647.1,192.9 L647.9,191.6 L648.7,190.3 L649.5,189.1 L650.3,187.8 L651.1,186.5 L651.9,185.3 L652.8,184.0 L653.6,182.8 L654.5,181.6 L655.4,180.3 L656.3,179.1 L657.2,177.9 L658.1,176.7 L659.0,175.6 L660.0,174.4 L660.9,173.2 L661.9,172.1 L662.9,170.9 L663.9,169.8 L664.9,168.7 L665.9,167.5 L666.9,166.4 L668.0,165.4 L669.1,164.3 L670.1,163.2 L671.2,162.2 L672.3,161.1 L673.5,160.1 L674.6,159.1 L675.7,158.1 L676.9,157.1 L678.1,156.1 L679.2,155.2 L680.4,154.2 L681.6,153.3 L682.9,152.4 L684.1,151.5 L685.3,150.7 L686.6,149.8 L687.8,149.0 L689.1,148.1 L690.4,147.3 L691.6,146.5 L692.9,145.8 L694.2,145.0 L695.6,144.3 L696.9,143.6 L698.2,142.9 L699.5,142.2 L700.9,141.6 L702.2,141.0 L703.6,140.3 L705.0,139.8 L706.3,139.2 L707.7,138.7 L709.1,138.1 L710.5,137.6 L711.9,137.2 L713.3,136.7 L714.7,136.3 L716.1,135.9 L717.6,135.5 L719.0,135.1 L720.4,134.8 L721.9,134.5 L723.3,134.2 L724.8,133.9 L726.2,133.7 L727.7,133.4 L729.1,133.2 L730.6,133.0 L732.1,132.9 L733.6,132.7 L735.0,132.6 L736.5,132.5 L738.0,132.4 L739.5,132.3 L741.0,132.2 L742.5,132.2 L744.0,132.1 L745.5,132.1 L747.0,132.1 L748.5,132.1 L750.0,132.1 L751.5,132.2 L753.0,132.2 L754.5,132.3 L756.0,132.4 L757.6,132.4 L759.1,132.5 L760.6,132.6 L762.1,132.8 L763.6,132.9 L765.2,133.0 L766.7,133.2 L768.2,133.3 L769.7,133.5 L771.3,133.6 L772.8,133.8 L774.3,134.0 L775.8,134.2 L777.4,134.3 L778.9,134.5 L780.4,134.7 L781.9,134.9 L783.5,135.1 L785.0,135.4 L786.5,135.6 L788.0,135.8 L789.5,136.0 L791.1,136.2 L792.6,136.4 L794.1,136.6 L795.6,136.9 L797.1,137.1 L798.6,137.3 L800.1,137.5 L801.6,137.7 L803.1,138.0 L804.6,138.2 L806.1,138.4 L807.6,138.7 L809.1,138.9 L810.6,139.1 L812.1,139.4 L813.6,139.6 L815.1,139.9 L816.6,140.1 L818.1,140.3 L819.6,140.6 L821.1,140.8 L822.6,141.1 L824.0,141.4 L825.5,141.6 L827.0,141.9 L828.5,142.2 L830.0,142.4 L831.4,142.7 L832.9,143.0 L834.4,143.3 L835.8,143.5 L837.3,143.8 L838.8,144.1 L840.3,144.4 L841.7,144.7 L843.2,145.0 L844.6,145.3 L846.1,145.6 L847.6,145.9 L849.0,146.3 L850.5,146.6 L851.9,146.9 L853.4,147.2 L854.8,147.6 L856.3,147.9 L857.7,148.2 L859.2,148.6 L860.6,148.9 L862.1,149.3 L863.5,149.7 L864.9,150.0 L866.4,150.4 L867.8,150.8 L869.3,151.2 L870.7,151.6 L872.1,152.0 L873.6,152.4 L875.0,152.8 L876.4,153.2 L877.8,153.6 L879.3,154.0 L880.7,154.4 L882.1,154.9 L883.5,155.3 L885.0,155.8 L886.4,156.2 L887.8,156.7 L889.2,157.1 L890.6,157.6 L892.0,158.1 L893.4,158.6 L894.9,159.1 L896.3,159.6 L897.7,160.1 L899.1,160.6 L900.5,161.1 L901.9,161.6 L903.3,162.1 L904.7,162.6 L906.1,163.2 L907.5,163.7 L908.9,164.3 L910.3,164.8 L911.7,165.4 L913.1,165.9 L914.5,166.5 L915.8,167.0 L917.2,167.6 L918.6,168.2 L920.0,168.8 L921.4,169.3 L922.8,169.9 L924.2,170.5 L925.6,171.1 L927.0,171.7 L928.3,172.3 L929.7,172.9 L931.1,173.5 L932.5,174.1 L933.9,174.7 L935.3,175.3 L936.6,175.9 L938.0,176.5 L939.4,177.1 L940.8,177.8 L942.2,178.4 L943.6,179.0 L944.9,179.6 L946.3,180.2 L947.7,180.9 L949.1,181.5 L950.5,182.1 L951.8,182.7 L953.2,183.4 L954.6,184.0 L956.0,184.6 L957.4,185.2 L958.7,185.8 L960.1,186.5 L961.5,187.1 L962.9,187.7 L964.3,188.3 L965.7,189.0 L967.0,189.6 L968.4,190.2 L969.8,190.8 L971.2,191.4 L972.6,192.0 L974.0,192.7 L975.3,193.3 L976.7,193.9 L978.1,194.5 L979.5,195.1 L980.9,195.7 L982.3,196.3 L983.7,196.9 L985.1,197.5 L986.4,198.1 L987.8,198.7 L989.2,199.3 L990.6,199.8 L992.0,200.4 L993.4,201.0 L994.8,201.6 L996.2,202.1 L997.6,202.7 L999.0,203.3 L1000.4,203.8 L1001.8,204.4 L1003.2,204.9 L1004.6,205.5 L1006.0,206.0 L1007.4,206.5 L1008.9,207.1 L1010.3,207.6 L1011.7,208.1 L1013.1,208.6 L1014.5,209.1 L1015.9,209.6 L1017.3,210.1 L1018.8,210.6 L1020.2,211.1 L1021.6,211.6 L1023.0,212.0 L1024.5,212.5 L1025.9,212.9 L1027.3,213.4 L1028.7,213.8 L1030.2,214.3 L1031.6,214.7 L1033.1,215.1 L1034.5,215.5 L1035.9,215.9 L1037.4,216.3 L1038.8,216.7 L1040.3,217.1 L1041.7,217.5 L1043.2,217.8 L1044.6,218.2 L1046.1,218.5 L1047.6,218.9 L1049.0,219.2 L1050.5,219.5 L1051.9,219.8 L1053.4,220.1 L1054.9,220.4 L1056.3,220.6 L1057.8,220.9 L1059.3,221.1 L1060.7,221.3 L1062.2,221.5 L1063.7,221.7 L1065.2,221.8 L1066.6,222.0 L1068.1,222.1 L1069.6,222.2 L1071.1,222.3 L1072.6,222.3 L1074.0,222.4 L1075.5,222.4 L1077.0,222.4 L1078.5,222.3 L1080.0,222.3 L1081.4,222.2 L1082.9,222.1 L1084.4,221.9 L1085.9,221.8 L1087.4,221.6 L1088.8,221.4 L1090.3,221.2 L1091.8,220.9 L1093.3,220.6 L1094.8,220.3 L1096.2,220.0 L1097.7,219.7 L1099.2,219.4 L1100.7,219.0 L1102.1,218.6 L1103.6,218.3 L1105.1,217.9 L1106.6,217.5 L1108.0,217.1 L1109.5,216.7 L1111.0,216.3 L1112.4,215.9 L1113.9,215.5 L1115.4,215.1 L1116.8,214.7 L1118.3,214.3 L1119.7,213.9 L1121.2,213.5 L1122.7,213.0 L1124.1,212.6 L1125.6,212.2 L1127.0,211.8 L1128.5,211.4 L1129.9,211.0 L1131.4,210.6 L1132.8,210.2 L1134.3,209.7 L1135.7,209.3 L1137.2,208.9 L1138.6,208.5 L1140.1,208.1 L1141.5,207.7 L1143.0,207.3 L1144.4,206.9 L1145.9,206.5 L1147.3,206.1 L1148.8,205.7 L1150.2,205.2 L1151.6,204.8 L1153.1,204.4 L1154.5,204.1 L1156.0,203.7 L1157.4,203.3 L1158.9,202.9 L1160.3,202.5 L1161.8,202.1 L1163.2,201.7 L1164.7,201.3 L1166.2,201.0 L1167.6,200.6 L1169.1,200.2 L1170.5,199.9 L1172.0,199.5 L1173.4,199.1 L1174.9,198.8 L1176.3,198.4 L1177.8,198.0 L1179.3,197.7 L1180.7,197.3 L1182.2,197.0 L1183.6,196.6 L1185.1,196.3 L1186.6,196.0 L1188.0,195.6 L1189.5,195.3 L1191.0,194.9 L1192.4,194.6 L1193.9,194.3 L1195.4,193.9 L1196.8,193.6 L1198.3,193.3 L1199.7,193.0 L1201.2,192.6 L1202.7,192.3 L1204.2,192.0 L1205.6,191.7 L1207.1,191.4 L1208.6,191.0 L1210.0,190.7 L1211.5,190.4 L1213.0,190.1 L1214.4,189.8 L1215.9,189.5 L1217.4,189.2 L1218.9,188.9 L1220.3,188.6 L1221.8,188.3 L1223.3,188.0 L1224.7,187.7 L1226.2,187.4 L1227.7,187.1 L1229.2,186.8 L1230.6,186.5 L1232.1,186.2 L1233.6,185.9 L1235.1,185.6 L1236.5,185.3 L1238.0,185.1 L1239.5,184.8 L1241.0,184.5 L1242.4,184.2 L1243.9,183.9 L1245.4,183.6 L1246.9,183.4 L1248.3,183.1 L1249.8,182.8 L1251.3,182.5 L1252.8,182.3 L1254.3,182.0 L1255.7,181.7 L1257.2,181.4 L1258.7,181.2 L1260.2,180.9 L1261.6,180.6 L1263.1,180.3 L1264.6,180.1 L1266.1,179.8 L1267.6,179.5 L1269.0,179.3 L1270.5,179.0 L1272.0,178.7 L1273.5,178.5 L1275.0,178.2 L1276.4,177.9 L1277.9,177.7 L1279.4,177.4 L1280.9,177.2 L1282.4,176.9 L1283.8,176.6 L1285.3,176.4 L1286.8,176.1 L1288.3,175.9 L1289.8,175.6 L1291.2,175.4 L1292.7,175.1 L1294.2,174.9 L1295.7,174.6 L1297.2,174.4 L1298.7,174.1 L1300.1,173.9 L1301.6,173.6 L1303.1,173.4 L1304.6,173.1 L1306.1,172.9 L1307.6,172.7 L1309.0,172.4 L1310.5,172.2 L1312.0,171.9 L1313.5,171.7 L1315.0,171.5 L1316.5,171.2 L1317.9,171.0 L1319.4,170.8 L1320.9,170.6 L1322.4,170.3 L1323.9,170.1 L1325.4,169.9 L1326.9,169.7 L1328.3,169.4 L1329.8,169.2 L1331.3,169.0 L1332.8,168.8 L1334.3,168.6 L1335.8,168.4 L1337.3,168.2 L1338.8,168.0 L1340.2,167.8 L1341.7,167.6 L1343.2,167.4 L1344.7,167.1 L1346.2,167.0 L1347.7,166.8 L1349.2,166.6 L1350.7,166.4 L1352.2,166.2 L1353.6,166.0 L1355.1,165.8 L1356.6,165.6 L1358.1,165.4 L1359.6,165.3 L1361.1,165.1 L1362.6,164.9 L1364.1,164.7 L1365.6,164.5 L1367.1,164.4 L1368.6,164.2 L1370.1,164.0 L1371.6,163.9 L1373.1,163.7 L1374.5,163.5 L1376.0,163.4 L1377.5,163.2 L1379.0,163.1 L1380.5,162.9 L1382.0,162.7 L1383.5,162.6 L1385.0,162.4 L1386.5,162.3 L1388.0,162.1 L1389.5,161.9 L1391.0,161.8 L1392.5,161.6 L1394.0,161.5 L1395.5,161.3 L1397.0,161.2 L1398.5,161.0 L1400.0,160.8 L1401.5,160.7 L1402.9,160.5 L1404.4,160.4 L1405.9,160.2 L1407.4,160.1 L1408.9,159.9 L1410.4,159.7 L1411.9,159.6 L1413.4,159.4 L1414.9,159.2 L1416.4,159.1 L1417.9,158.9 L1419.4,158.7 L1420.9,158.6 L1422.4,158.4 L1423.9,158.2 L1425.3,158.0 L1426.8,157.9 L1428.3,157.7 L1429.8,157.5 L1431.3,157.3 L1432.8,157.1 L1434.3,156.9 L1435.8,156.7 L1437.3,156.6 L1438.8,156.4 L1440.2,156.2 L1441.7,155.9 L1443.2,155.7 L1444.7,155.5 L1446.2,155.3 L1447.7,155.1 L1449.2,154.9 L1450.6,154.7 L1452.1,154.4 L1453.6,154.2 L1455.1,154.0 L1456.6,153.7 L1458.1,153.5 L1459.5,153.3 L1461.0,153.0 L1462.5,152.8 L1464.0,152.5 L1465.5,152.2 L1466.9,152.0 L1468.4,151.7 L1469.9,151.4 L1471.4,151.1 L1472.8,150.9 L1474.3,150.6 L1475.8,150.3 L1477.3,150.0 L1478.7,149.7 L1480.2,149.4 L1481.7,149.1 L1483.2,148.8 L1484.6,148.5 L1486.1,148.2 L1487.6,147.9 L1489.0,147.6 L1490.5,147.3 L1492.0,146.9 L1493.4,146.6 L1494.9,146.3 L1496.4,146.0 L1497.8,145.6 L1499.3,145.3 L1500.8,145.0 L1502.3,144.7 L1503.7,144.3 L1505.2,144.0 L1506.7,143.6 L1508.1,143.3 L1509.6,143.0 L1511.1,142.6 L1512.5,142.3 L1514.0,142.0 L1515.5,141.6 L1516.9,141.3 L1518.4,140.9 L1519.8,140.6 L1521.3,140.2 L1522.8,139.9 L1524.2,139.6 L1525.7,139.2 L1527.2,138.9 L1528.6,138.5 L1530.1,138.2 L1531.6,137.8 L1533.0,137.5 L1534.5,137.1 L1536.0,136.8 L1537.4,136.5 L1538.9,136.1 L1540.4,135.8 L1541.8,135.4 L1543.3,135.1 L1544.8,134.8 L1546.2,134.4 L1547.7,134.1 L1549.2,133.8 L1550.6,133.4 L1552.1,133.1 L1553.6,132.8 L1555.0,132.5 L1556.5,132.1 L1558.0,131.8 L1559.4,131.5 L1560.9,131.2 L1562.4,130.9 L1563.9,130.6 L1565.3,130.3 L1566.8,130.0 L1568.3,129.7 L1569.7,129.4 L1571.2,129.1 L1572.7,128.8 L1574.2,128.5 L1575.6,128.2 L1577.1,127.9 L1578.6,127.6 L1580.1,127.4 L1581.5,127.1 L1583.0,126.8 L1584.5,126.5 L1586.0,126.3 L1587.4,126.0 L1588.9,125.8 L1590.4,125.5 L1591.9,125.3 L1593.4,125.0 L1594.8,124.8 L1596.3,124.6 L1597.8,124.4 L1599.3,124.1 L1600.8,123.9 L1602.3,123.7 L1603.7,123.5 L1605.2,123.3 L1606.7,123.1 L1608.2,122.9 L1609.7,122.7 L1611.2,122.6 L1612.7,122.4 L1614.2,122.2 L1615.7,122.1 L1617.2,121.9 L1618.7,121.8 L1620.1,121.6 L1621.6,121.5 L1623.1,121.4 L1624.6,121.2 L1626.1,121.1 L1627.6,121.0 L1629.1,120.9 L1630.6,120.8 L1632.1,120.7 L1633.7,120.7 L1635.2,120.6 L1636.7,120.5 L1638.2,120.5 L1639.7,120.4 L1641.2,120.4 L1642.7,120.3 L1644.2,120.3 L1645.7,120.3 L1647.2,120.3 L1648.8,120.3 L1650.3,120.3 L1651.8,120.3" fill="none" stroke="#D95319" stroke-width="13.9" stroke-linejoin="round" stroke-linecap="butt"/>
<path d="M238.5,117.0 L239.2,118.3 L239.9,119.7 L240.6,121.1 L241.3,122.4 L242.0,123.8 L242.7,125.1 L243.3,126.5 L243.9,127.9 L244.5,129.3 L245.2,130.7 L245.7,132.0 L246.3,133.4 L246.9,134.8 L247.5,136.2 L248.0,137.6 L248.5,139.0 L249.1,140.5 L249.6,141.9 L250.1,143.3 L250.6,144.7 L251.1,146.1 L251.6,147.5 L252.0,149.0 L252.5,150.4 L253.0,151.8 L253.4,153.3 L253.9,154.7 L254.3,156.1 L254.7,157.6 L255.1,159.0 L255.6,160.5 L256.0,161.9 L256.4,163.4 L256.8,164.8 L257.2,166.3 L257.6,167.7 L257.9,169.2 L258.3,170.6 L258.7,172.1 L259.1,173.6 L259.5,175.0 L259.8,176.5 L260.2,177.9 L260.6,179.4 L260.9,180.9 L261.3,182.3 L261.6,183.8 L262.0,185.3 L262.4,186.7 L262.7,188.2 L263.1,189.7 L263.4,191.1 L263.8,192.6 L264.2,194.1 L264.5,195.5 L264.9,197.0 L265.3,198.5 L265.6,199.9 L266.0,201.4 L266.4,202.9 L266.7,204.3 L267.1,205.8 L267.5,207.2 L267.9,208.7 L268.3,210.2 L268.7,211.6 L269.1,213.1 L269.5,214.5 L269.9,216.0 L270.3,217.5 L270.7,218.9 L271.1,220.4 L271.5,221.8 L271.9,223.3 L272.3,224.7 L272.7,226.2 L273.1,227.7 L273.5,229.1 L273.9,230.6 L274.3,232.0 L274.7,233.5 L275.1,234.9 L275.5,236.4 L275.9,237.9 L276.3,239.3 L276.7,240.8 L277.1,242.2 L277.4,243.7 L277.8,245.1 L278.2,246.6 L278.6,248.1 L278.9,249.5 L279.3,251.0 L279.7,252.5 L280.0,253.9 L280.4,255.4 L280.7,256.9 L281.1,258.3 L281.4,259.8 L281.7,261.3 L282.0,262.7 L282.4,264.2 L282.7,265.7 L283.0,267.2 L283.3,268.7 L283.5,270.1 L283.8,271.6 L284.1,273.1 L284.4,274.6 L284.6,276.1 L284.9,277.6 L285.1,279.1 L285.3,280.5 L285.6,282.0 L285.8,283.5 L286.0,285.0 L286.2,286.5 L286.4,288.0 L286.6,289.5 L286.8,291.0 L287.0,292.5 L287.2,294.0 L287.4,295.5 L287.6,297.0 L287.7,298.5 L287.9,300.0 L288.1,301.5 L288.2,303.0 L288.4,304.5 L288.6,306.0 L288.7,307.5 L288.9,309.0 L289.1,310.5 L289.2,312.1 L289.4,313.6 L289.5,315.1 L289.7,316.6 L289.8,318.1 L290.0,319.6 L290.2,321.1 L290.3,322.6 L290.5,324.1 L290.6,325.6 L290.8,327.1 L291.0,328.6 L291.1,330.1 L291.3,331.6 L291.4,333.1 L291.6,334.6 L291.8,336.1 L292.0,337.6 L292.2,339.1 L292.3,340.6 L292.5,342.1 L292.7,343.6 L292.9,345.1 L293.1,346.5 L293.3,348.0 L293.5,349.5 L293.7,351.0 L294.0,352.5 L294.2,354.0 L294.4,355.4 L294.7,356.9 L295.0,358.4 L295.3,359.9 L295.6,361.3 L295.9,362.8 L296.3,364.2 L296.7,365.6 L297.1,367.1 L297.6,368.5 L298.1,369.9 L298.7,371.3 L299.3,372.6 L300.0,374.0" fill="none" stroke="#EDB120" stroke-width="13.9" stroke-linejoin="round" stroke-linecap="butt" stroke-dasharray="14 12.05" stroke-dashoffset="0.0"/>
<path d="M300.0,374.0 L301.2,374.8 L302.6,375.5 L304.1,376.0 L305.6,376.5 L307.2,376.9 L308.8,377.2 L310.5,377.4 L312.1,377.4 L313.7,377.3 L315.3,377.2 L316.8,376.9 L318.2,376.4 L319.5,375.9 L320.7,375.2 L321.8,374.4 L322.8,373.5 L323.8,372.6 L324.6,371.5 L325.4,370.3 L326.0,369.1 L326.7,367.8 L327.3,366.5 L327.8,365.1 L328.3,363.7 L328.8,362.3 L329.3,360.8 L329.7,359.4 L330.2,357.9 L330.7,356.5 L331.1,355.1 L331.6,353.6 L332.0,352.2 L332.5,350.7 L332.9,349.3 L333.3,347.8 L333.8,346.4 L334.2,344.9 L334.6,343.5 L335.0,342.0 L335.5,340.6 L335.9,339.1 L336.3,337.7 L336.7,336.2 L337.2,334.8 L337.6,333.3 L338.0,331.9 L338.4,330.4 L338.9,329.0 L339.3,327.5 L339.7,326.1 L340.2,324.6 L340.6,323.2 L341.1,321.8 L341.5,320.3 L342.0,318.9 L342.4,317.5 L342.9,316.1 L343.4,314.6 L343.8,313.2 L344.3,311.8 L344.8,310.4 L345.3,309.0 L345.8,307.6 L346.3,306.2 L346.9,304.8 L347.4,303.4 L347.9,302.0 L348.5,300.6 L349.0,299.2 L349.6,297.8 L350.2,296.4 L350.8,295.1 L351.4,293.7 L352.0,292.3 L352.6,291.0 L353.2,289.6 L353.9,288.3 L354.6,287.0 L355.2,285.6 L355.9,284.3 L356.6,283.0 L357.4,281.7 L358.1,280.4 L358.8,279.1 L359.6,277.8 L360.4,276.5 L361.2,275.2 L362.0,274.0 L362.8,272.7 L363.7,271.4 L364.6,270.2 L365.4,269.0 L366.3,267.7 L367.3,266.5 L368.2,265.3 L369.1,264.1 L370.1,263.0 L371.1,261.8 L372.1,260.6 L373.1,259.5 L374.1,258.4 L375.2,257.3 L376.2,256.2 L377.3,255.1 L378.4,254.1 L379.5,253.0 L380.7,252.0 L381.8,251.0 L383.0,250.0 L384.1,249.0 L385.3,248.1 L386.5,247.2 L387.8,246.2 L389.0,245.4 L390.3,244.5 L391.5,243.7 L392.8,242.8 L394.1,242.0 L395.4,241.3 L396.8,240.5 L398.1,239.8 L399.5,239.1 L400.9,238.5 L402.3,237.8 L403.7,237.2 L405.1,236.7 L406.5,236.1 L407.9,235.6 L409.4,235.2 L410.8,234.8 L412.3,234.4 L413.7,234.1 L415.2,233.8 L416.7,233.6 L418.1,233.4 L419.6,233.3 L421.0,233.3 L422.5,233.3 L424.0,233.3 L425.4,233.4 L426.9,233.6 L428.3,233.8 L429.8,234.1 L431.2,234.5 L432.6,234.8 L434.0,235.3 L435.5,235.7 L436.9,236.2 L438.3,236.8 L439.7,237.3 L441.1,237.9 L442.5,238.5 L443.9,239.1 L445.3,239.8 L446.6,240.4 L448.0,241.1 L449.4,241.8 L450.7,242.4 L452.1,243.1 L453.4,243.9 L454.8,244.6 L456.1,245.3 L457.4,246.1 L458.7,246.8 L460.1,247.6 L461.4,248.4 L462.6,249.2 L463.9,250.0 L465.2,250.8 L466.5,251.7 L467.7,252.5 L469.0,253.4 L470.2,254.2 L471.5,255.1 L472.7,256.0 L473.9,256.9 L475.1,257.8 L476.3,258.8 L477.5,259.7 L478.7,260.6 L479.9,261.6 L481.0,262.6 L482.2,263.5 L483.3,264.5 L484.5,265.5 L485.6,266.5 L486.7,267.6 L487.8,268.6 L488.9,269.6 L490.0,270.7 L491.0,271.8 L492.1,272.8 L493.1,273.9 L494.2,275.0 L495.2,276.1 L496.2,277.2 L497.2,278.3 L498.2,279.5 L499.2,280.6 L500.1,281.8 L501.1,282.9 L502.0,284.1 L503.0,285.3 L503.9,286.4 L504.8,287.6 L505.7,288.8 L506.5,290.1 L507.4,291.3 L508.3,292.5 L509.1,293.7 L509.9,295.0 L510.7,296.2 L511.5,297.5 L512.3,298.8 L513.1,300.1 L513.8,301.3 L514.6,302.6 L515.3,304.0 L516.0,305.3 L516.7,306.6 L517.4,307.9 L518.0,309.2 L518.7,310.6 L519.3,311.9 L519.9,313.3 L520.5,314.7 L521.1,316.0 L521.7,317.4 L522.3,318.8 L522.8,320.2 L523.4,321.6 L523.9,323.0 L524.4,324.4 L524.9,325.8 L525.4,327.2 L525.9,328.7 L526.4,330.1 L526.8,331.5 L527.3,333.0 L527.7,334.4 L528.2,335.8 L528.6,337.3 L529.1,338.7 L529.5,340.2 L529.9,341.6 L530.3,343.1 L530.7,344.5 L531.1,346.0 L531.5,347.5 L531.9,348.9 L532.3,350.4 L532.7,351.8 L533.1,353.3 L533.5,354.8 L533.9,356.2 L534.3,357.7 L534.7,359.2 L535.0,360.6 L535.4,362.1 L535.8,363.5 L536.2,365.0 L536.6,366.5 L537.0,367.9 L537.4,369.4 L537.8,370.8 L538.2,372.3 L538.6,373.7 L539.0,375.2 L539.4,376.6 L539.8,378.1 L540.2,379.5 L540.6,381.0 L541.0,382.4 L541.4,383.9 L541.8,385.3 L542.1,386.8 L542.5,388.2 L542.9,389.7 L543.3,391.1 L543.7,392.6 L544.1,394.0 L544.4,395.5 L544.8,396.9 L545.2,398.4 L545.6,399.8 L545.9,401.3 L546.3,402.7 L546.7,404.2 L547.0,405.6 L547.4,407.1 L547.7,408.5 L548.1,410.0 L548.4,411.5 L548.7,412.9 L549.1,414.4 L549.4,415.8 L549.7,417.3 L550.1,418.8 L550.4,420.2 L550.7,421.7 L551.0,423.2 L551.3,424.6 L551.6,426.1 L551.9,427.6 L552.2,429.0 L552.5,430.5 L552.8,432.0 L553.1,433.4 L553.4,434.9 L553.6,436.4 L553.9,437.9 L554.2,439.3 L554.4,440.8 L554.7,442.3 L555.0,443.8 L555.2,445.2 L555.5,446.7 L555.7,448.2 L556.0,449.7 L556.2,451.2 L556.5,452.6 L556.7,454.1 L557.0,455.6 L557.2,457.1 L557.4,458.6 L557.7,460.1 L557.9,461.5 L558.1,463.0 L558.3,464.5 L558.5,466.0 L558.8,467.5 L559.0,469.0 L559.2,470.5 L559.4,472.0 L559.6,473.4 L559.8,474.9 L560.0,476.4 L560.2,477.9 L560.4,479.4 L560.6,480.9 L560.8,482.4 L561.0,483.9 L561.2,485.4 L561.4,486.9 L561.5,488.4 L561.7,489.9 L561.9,491.4 L562.1,492.8 L562.3,494.3 L562.5,495.8 L562.6,497.3 L562.8,498.8 L563.0,500.3 L563.1,501.8 L563.3,503.3 L563.5,504.8 L563.7,506.3 L563.8,507.8 L564.0,509.3 L564.1,510.8 L564.3,512.3 L564.5,513.8 L564.6,515.3 L564.8,516.8 L564.9,518.3 L565.1,519.8 L565.3,521.3 L565.4,522.8 L565.6,524.3 L565.7,525.7 L565.9,527.2 L566.0,528.7 L566.2,530.2 L566.3,531.7 L566.5,533.2 L566.6,534.7 L566.8,536.2 L566.9,537.7 L567.0,539.2 L567.2,540.7 L567.3,542.2 L567.5,543.7 L567.6,545.2 L567.8,546.7 L567.9,548.2 L568.0,549.7 L568.2,551.2 L568.3,552.7 L568.4,554.2 L568.6,555.7 L568.7,557.2 L568.8,558.7 L569.0,560.2 L569.1,561.7 L569.2,563.2 L569.4,564.7 L569.5,566.2 L569.6,567.7 L569.8,569.1 L569.9,570.6 L570.0,572.1 L570.1,573.6 L570.3,575.1 L570.4,576.6 L570.5,578.1 L570.6,579.6 L570.8,581.1 L570.9,582.6 L571.0,584.1 L571.1,585.6 L571.2,587.1 L571.4,588.6 L571.5,590.1 L571.6,591.6 L571.7,593.1 L571.8,594.6 L571.9,596.1 L572.1,597.6 L572.2,599.1 L572.3,600.6 L572.4,602.1 L572.5,603.6 L572.6,605.1 L572.7,606.6 L572.9,608.1 L573.0,609.6 L573.1,611.1 L573.2,612.6 L573.3,614.1 L573.4,615.6 L573.5,617.1 L573.6,618.6 L573.7,620.1 L573.9,621.6 L574.0,623.1 L574.1,624.6 L574.2,626.1 L574.3,627.6 L574.4,629.1 L574.5,630.6 L574.6,632.1 L574.7,633.6 L574.8,635.1 L574.9,636.5 L575.0,638.0 L575.1,639.5 L575.2,641.0 L575.3,642.5 L575.4,644.0 L575.6,645.5 L575.7,647.0 L575.8,648.5 L575.9,650.0 L576.0,651.5 L576.1,653.0 L576.2,654.5 L576.3,656.0 L576.4,657.5 L576.5,659.0 L576.6,660.5 L576.7,662.0 L576.8,663.5 L576.9,665.0 L577.0,666.5 L577.1,668.0 L577.2,669.5 L577.3,671.0 L577.4,672.5 L577.5,674.0 L577.6,675.5 L577.7,677.0 L577.8,678.5 L577.9,680.0 L578.0,681.5 L578.1,683.0 L578.2,684.5 L578.3,686.0 L578.4,687.5 L578.5,689.0 L578.6,690.5 L578.7,692.0 L578.8,693.5 L578.9,695.0 L579.0,696.5 L579.1,698.0 L579.2,699.5 L579.3,701.0 L579.4,702.5 L579.5,704.0 L579.6,705.5 L579.7,707.0 L579.8,708.5 L580.0,710.0 L580.1,711.5 L580.2,713.0 L580.3,714.5 L580.4,716.0 L580.5,717.5 L580.6,719.0 L580.7,720.5 L580.8,722.0 L580.9,723.5 L581.0,725.0 L581.1,726.5 L581.2,728.0 L581.3,729.5 L581.4,731.0 L581.5,732.5 L581.6,734.0 L581.8,735.5 L581.9,737.0 L582.0,738.5 L582.1,740.0 L582.2,741.5 L582.3,743.0" fill="none" stroke="#EDB120" stroke-width="13.9" stroke-linejoin="round" stroke-linecap="butt" stroke-dasharray="14 12.05" stroke-dashoffset="9.1"/>
<path d="M582.3,743.0 L582.4,741.5 L582.5,740.0 L582.6,738.5 L582.7,737.0 L582.7,735.5 L582.8,734.0 L582.9,732.5 L583.0,731.0 L583.1,729.5 L583.2,728.0 L583.3,726.5 L583.4,725.0 L583.5,723.5 L583.6,722.0 L583.7,720.5 L583.8,719.0 L583.9,717.5 L583.9,716.0 L584.0,714.5 L584.1,713.0 L584.2,711.5 L584.3,710.0 L584.4,708.5 L584.5,707.0 L584.6,705.5 L584.7,704.0 L584.8,702.5 L584.9,701.0 L585.0,699.5 L585.1,698.1 L585.2,696.6 L585.3,695.1 L585.4,693.6 L585.5,692.1 L585.6,690.6 L585.7,689.1 L585.8,687.6 L585.9,686.1 L586.0,684.6 L586.1,683.1 L586.2,681.6 L586.3,680.1 L586.4,678.6 L586.5,677.1 L586.6,675.6 L586.7,674.1 L586.8,672.6 L586.9,671.1 L587.0,669.6 L587.1,668.1 L587.3,666.6 L587.4,665.1 L587.5,663.6 L587.6,662.1 L587.7,660.6 L587.8,659.1 L587.9,657.6 L588.0,656.1 L588.1,654.6 L588.2,653.1 L588.3,651.6 L588.4,650.1 L588.5,648.6 L588.6,647.1 L588.7,645.6 L588.8,644.1 L589.0,642.6 L589.1,641.1 L589.2,639.6 L589.3,638.1 L589.4,636.6 L589.5,635.1 L589.6,633.6 L589.7,632.1 L589.8,630.6 L589.9,629.1 L590.0,627.6 L590.1,626.1 L590.3,624.6 L590.4,623.1 L590.5,621.6 L590.6,620.1 L590.7,618.6 L590.8,617.1 L590.9,615.6 L591.0,614.1 L591.1,612.6 L591.2,611.1 L591.4,609.6 L591.5,608.1 L591.6,606.6 L591.7,605.1 L591.8,603.6 L591.9,602.1 L592.0,600.6 L592.1,599.1 L592.2,597.6 L592.4,596.1 L592.5,594.7 L592.6,593.2 L592.7,591.7 L592.8,590.2 L592.9,588.7 L593.0,587.2 L593.1,585.7 L593.2,584.2 L593.4,582.7 L593.5,581.2 L593.6,579.7 L593.7,578.2 L593.8,576.7 L593.9,575.2 L594.0,573.7 L594.1,572.2 L594.2,570.7 L594.4,569.2 L594.5,567.7 L594.6,566.2 L594.7,564.7 L594.8,563.2 L594.9,561.7 L595.0,560.2 L595.1,558.7 L595.3,557.2 L595.4,555.7 L595.5,554.2 L595.6,552.7 L595.7,551.2 L595.8,549.7 L596.0,548.2 L596.1,546.7 L596.2,545.2 L596.3,543.7 L596.4,542.3 L596.5,540.8 L596.7,539.3 L596.8,537.8 L596.9,536.3 L597.0,534.8 L597.1,533.3 L597.3,531.8 L597.4,530.3 L597.5,528.8 L597.6,527.3 L597.8,525.8 L597.9,524.3 L598.0,522.8 L598.1,521.3 L598.3,519.8 L598.4,518.3 L598.5,516.8 L598.7,515.3 L598.8,513.8 L598.9,512.3 L599.1,510.8 L599.2,509.4 L599.3,507.9 L599.5,506.4 L599.6,504.9 L599.7,503.4 L599.9,501.9 L600.0,500.4 L600.2,498.9 L600.3,497.4 L600.4,495.9 L600.6,494.4 L600.7,492.9 L600.9,491.4 L601.0,489.9 L601.2,488.4 L601.3,486.9 L601.5,485.5 L601.6,484.0 L601.8,482.5 L602.0,481.0 L602.1,479.5 L602.3,478.0 L602.4,476.5 L602.6,475.0 L602.8,473.5 L602.9,472.0 L603.1,470.5 L603.3,469.0 L603.4,467.5 L603.6,466.1 L603.8,464.6 L604.0,463.1 L604.1,461.6 L604.3,460.1 L604.5,458.6 L604.7,457.1 L604.9,455.6 L605.0,454.1 L605.2,452.6 L605.4,451.1 L605.6,449.7 L605.8,448.2 L606.0,446.7 L606.2,445.2 L606.4,443.7 L606.6,442.2 L606.8,440.7 L607.0,439.2 L607.2,437.7 L607.4,436.2 L607.6,434.8 L607.8,433.3 L608.1,431.8 L608.3,430.3 L608.5,428.8 L608.7,427.3 L608.9,425.8 L609.2,424.3 L609.4,422.8 L609.6,421.4 L609.8,419.9 L610.1,418.4 L610.3,416.9 L610.5,415.4 L610.8,413.9 L611.0,412.4 L611.3,410.9 L611.5,409.5 L611.8,408.0 L612.0,406.5 L612.3,405.0 L612.5,403.5 L612.8,402.0 L613.0,400.6 L613.3,399.1 L613.6,397.6 L613.8,396.1 L614.1,394.6 L614.4,393.1 L614.6,391.7 L614.9,390.2 L615.2,388.7 L615.5,387.2 L615.7,385.7 L616.0,384.3 L616.3,382.8 L616.6,381.3 L616.9,379.8 L617.2,378.4 L617.5,376.9 L617.8,375.4 L618.0,373.9 L618.3,372.5 L618.6,371.0 L618.9,369.5 L619.3,368.0 L619.6,366.6 L619.9,365.1 L620.2,363.6 L620.5,362.2 L620.8,360.7 L621.1,359.2 L621.4,357.8 L621.7,356.3 L622.1,354.8 L622.4,353.4 L622.7,351.9 L623.0,350.5 L623.4,349.0 L623.7,347.5 L624.0,346.1 L624.4,344.6 L624.7,343.2 L625.0,341.7 L625.4,340.3 L625.7,338.8 L626.1,337.4 L626.4,335.9 L626.8,334.5 L627.1,333.0 L627.5,331.6 L627.9,330.1 L628.2,328.7 L628.6,327.2 L629.0,325.8 L629.4,324.4 L629.8,322.9 L630.1,321.5 L630.5,320.0 L630.9,318.6 L631.3,317.2 L631.8,315.7 L632.2,314.3 L632.6,312.9 L633.0,311.5 L633.4,310.0 L633.9,308.6 L634.3,307.2 L634.8,305.8 L635.2,304.3 L635.7,302.9 L636.2,301.5 L636.6,300.1 L637.1,298.7 L637.6,297.3 L638.1,295.9 L638.6,294.4 L639.1,293.0 L639.6,291.6 L640.2,290.2 L640.7,288.8 L641.2,287.4 L641.8,286.0 L642.4,284.6 L642.9,283.2 L643.5,281.8 L644.1,280.4 L644.7,279.0 L645.3,277.7 L645.9,276.3 L646.5,274.9 L647.1,273.5 L647.8,272.1 L648.4,270.7 L649.1,269.4 L649.8,268.0 L650.5,266.6 L651.1,265.2 L651.8,263.9 L652.6,262.5 L653.3,261.2 L654.0,259.8 L654.8,258.5 L655.5,257.2 L656.3,255.8 L657.1,254.5 L657.8,253.2 L658.6,251.9 L659.5,250.6 L660.3,249.3 L661.1,248.0 L662.0,246.8 L662.8,245.5 L663.7,244.3 L664.6,243.1 L665.5,241.8 L666.4,240.6 L667.3,239.4 L668.3,238.2 L669.2,237.1 L670.2,235.9 L671.1,234.8 L672.1,233.7 L673.1,232.5 L674.1,231.5 L675.2,230.4 L676.2,229.3 L677.3,228.3 L678.3,227.2 L679.4,226.2 L680.5,225.2 L681.6,224.3 L682.8,223.3 L683.9,222.4 L685.1,221.5 L686.2,220.6 L687.4,219.7 L688.6,218.8 L689.8,218.0 L691.1,217.2 L692.3,216.4 L693.6,215.7 L694.9,214.9 L696.2,214.2 L697.5,213.5 L698.8,212.8 L700.2,212.2 L701.5,211.6 L702.9,211.0 L704.3,210.4 L705.6,209.9 L707.1,209.3 L708.5,208.8 L709.9,208.3 L711.3,207.9 L712.8,207.4 L714.2,207.0 L715.7,206.6 L717.2,206.3 L718.6,205.9 L720.1,205.6 L721.6,205.3 L723.1,205.0 L724.6,204.8 L726.1,204.6 L727.6,204.4 L729.1,204.2 L730.6,204.0 L732.1,203.9 L733.6,203.7 L735.1,203.7 L736.7,203.6 L738.2,203.5 L739.7,203.5 L741.2,203.5 L742.7,203.5 L744.2,203.6 L745.7,203.6 L747.2,203.7 L748.7,203.8 L750.2,203.9 L751.7,204.1 L753.2,204.2 L754.7,204.4 L756.2,204.6 L757.6,204.8 L759.1,205.1 L760.6,205.3 L762.1,205.6 L763.5,205.9 L765.0,206.2 L766.4,206.5 L767.9,206.9 L769.4,207.2 L770.8,207.6 L772.3,208.0 L773.7,208.4 L775.1,208.8 L776.6,209.2 L778.0,209.6 L779.5,210.1 L780.9,210.5 L782.3,211.0 L783.8,211.5 L785.2,212.0 L786.6,212.5 L788.0,213.0 L789.5,213.5 L790.9,214.0 L792.3,214.6 L793.7,215.1 L795.1,215.7 L796.5,216.2 L797.9,216.8 L799.3,217.4 L800.7,217.9 L802.1,218.5 L803.5,219.1 L804.9,219.7 L806.3,220.3 L807.7,220.9 L809.1,221.5 L810.5,222.1 L811.9,222.7 L813.3,223.3 L814.7,223.9 L816.1,224.5 L817.5,225.1 L818.8,225.7 L820.2,226.3 L821.6,226.9 L823.0,227.5 L824.4,228.1 L825.7,228.7 L827.1,229.2 L828.5,229.8 L829.9,230.4 L831.3,231.0 L832.6,231.6 L834.0,232.2 L835.4,232.8 L836.8,233.3 L838.1,233.9 L839.5,234.5 L840.9,235.0 L842.3,235.6 L843.7,236.1 L845.1,236.7 L846.4,237.2 L847.8,237.8 L849.2,238.3 L850.6,238.8 L852.0,239.4 L853.4,239.9 L854.8,240.4 L856.2,240.9 L857.6,241.4 L859.0,241.9 L860.4,242.4 L861.9,242.9 L863.3,243.3 L864.7,243.8 L866.1,244.3 L867.6,244.7 L869.0,245.2 L870.4,245.6 L871.9,246.0 L873.3,246.4 L874.8,246.9 L876.2,247.3 L877.7,247.7 L879.2,248.1 L880.6,248.5 L882.1,248.9 L883.5,249.4 L885.0,249.8 L886.4,250.2 L887.9,250.7 L889.3,251.1 L890.8,251.5 L892.2,252.0 L893.7,252.5 L895.1,253.0 L896.5,253.5 L897.9,254.0 L899.3,254.5 L900.8,255.0 L902.2,255.6 L903.6,256.1 L905.0,256.7 L906.3,257.3 L907.7,257.9 L909.1,258.5 L910.5,259.1 L911.8,259.7 L913.2,260.4 L914.5,261.0 L915.9,261.7 L917.2,262.4 L918.5,263.1 L919.8,263.8 L921.1,264.5 L922.4,265.3 L923.7,266.0 L925.0,266.8 L926.3,267.6 L927.5,268.3 L928.8,269.2 L930.0,270.0 L931.3,270.8 L932.5,271.6 L933.7,272.5 L934.9,273.4 L936.1,274.3 L937.3,275.1 L938.5,276.1 L939.6,277.0 L940.8,277.9 L941.9,278.9 L943.1,279.8 L944.2,280.8 L945.3,281.8 L946.4,282.8 L947.5,283.8 L948.6,284.9 L949.7,285.9 L950.7,287.0 L951.8,288.0 L952.8,289.1 L953.8,290.2 L954.8,291.4 L955.8,292.5 L956.8,293.6 L957.7,294.8 L958.7,296.0 L959.6,297.2 L960.6,298.3 L961.5,299.6 L962.4,300.8 L963.3,302.0 L964.2,303.3 L965.0,304.5 L965.9,305.8 L966.7,307.0 L967.6,308.3 L968.4,309.6 L969.2,310.9 L970.0,312.2 L970.8,313.5 L971.6,314.8 L972.4,316.1 L973.2,317.4 L973.9,318.7 L974.7,320.0 L975.4,321.3 L976.2,322.6 L976.9,323.9 L977.6,325.2 L978.4,326.6 L979.1,327.9 L979.8,329.2 L980.4,330.5 L981.1,331.9 L981.8,333.2 L982.4,334.5 L983.1,335.9 L983.7,337.2 L984.4,338.6 L985.0,339.9 L985.6,341.3 L986.2,342.7 L986.7,344.0 L987.3,345.4 L987.9,346.8 L988.4,348.2 L989.0,349.5 L989.5,350.9 L990.0,352.3 L990.5,353.7 L991.0,355.1 L991.5,356.5 L992.0,357.9 L992.5,359.4 L992.9,360.8 L993.4,362.2 L993.9,363.6 L994.3,365.0 L994.7,366.5 L995.2,367.9 L995.6,369.3 L996.0,370.8 L996.4,372.2 L996.8,373.7 L997.2,375.1 L997.6,376.6 L998.0,378.0 L998.3,379.5 L998.7,380.9 L999.1,382.4 L999.4,383.9 L999.8,385.3 L1000.1,386.8 L1000.5,388.2 L1000.8,389.7 L1001.2,391.2 L1001.5,392.6 L1001.8,394.1 L1002.2,395.6 L1002.5,397.1 L1002.8,398.5 L1003.2,400.0 L1003.5,401.5 L1003.8,403.0 L1004.1,404.4 L1004.4,405.9 L1004.7,407.4 L1005.1,408.9 L1005.4,410.3 L1005.7,411.8 L1006.0,413.3 L1006.3,414.8 L1006.6,416.2 L1006.9,417.7 L1007.3,419.2 L1007.6,420.6 L1007.9,422.1 L1008.2,423.6 L1008.5,425.1 L1008.8,426.5 L1009.1,428.0 L1009.4,429.5 L1009.8,430.9 L1010.1,432.4 L1010.4,433.9 L1010.7,435.4 L1011.0,436.8 L1011.3,438.3 L1011.6,439.8 L1011.9,441.2 L1012.2,442.7 L1012.5,444.2 L1012.8,445.6 L1013.1,447.1 L1013.4,448.6 L1013.7,450.1 L1014.0,451.5 L1014.3,453.0 L1014.6,454.5 L1014.9,455.9 L1015.2,457.4 L1015.5,458.9 L1015.8,460.3 L1016.0,461.8 L1016.3,463.3 L1016.6,464.8 L1016.9,466.2 L1017.1,467.7 L1017.4,469.2 L1017.7,470.7 L1018.0,472.1 L1018.2,473.6 L1018.5,475.1 L1018.7,476.6 L1019.0,478.0 L1019.2,479.5 L1019.5,481.0 L1019.7,482.5 L1020.0,483.9 L1020.2,485.4 L1020.5,486.9 L1020.7,488.4 L1020.9,489.9 L1021.1,491.4 L1021.4,492.8 L1021.6,494.3 L1021.8,495.8 L1022.0,497.3 L1022.2,498.8 L1022.4,500.3 L1022.6,501.8 L1022.8,503.2 L1023.0,504.7 L1023.2,506.2 L1023.4,507.7 L1023.6,509.2 L1023.8,510.7 L1024.0,512.2 L1024.1,513.7 L1024.3,515.2 L1024.5,516.7 L1024.7,518.2 L1024.9,519.7 L1025.0,521.2 L1025.2,522.7 L1025.4,524.1 L1025.6,525.6 L1025.7,527.1 L1025.9,528.6 L1026.1,530.1 L1026.3,531.6 L1026.4,533.1 L1026.6,534.6 L1026.8,536.1 L1027.0,537.6 L1027.1,539.1 L1027.3,540.6 L1027.5,542.1 L1027.7,543.6 L1027.9,545.1 L1028.0,546.6 L1028.2,548.1 L1028.4,549.6 L1028.6,551.1 L1028.8,552.5 L1029.0,554.0 L1029.2,555.5 L1029.4,557.0 L1029.6,558.5 L1029.8,560.0 L1030.0,561.5 L1030.2,563.0 L1030.4,564.5 L1030.6,565.9 L1030.8,567.4 L1031.0,568.9 L1031.2,570.4 L1031.5,571.9 L1031.7,573.4 L1031.9,574.9 L1032.2,576.3 L1032.4,577.8 L1032.7,579.3 L1032.9,580.8 L1033.2,582.2 L1033.5,583.7 L1033.7,585.2 L1034.0,586.7 L1034.3,588.1 L1034.6,589.6 L1034.9,591.1 L1035.1,592.5 L1035.5,594.0 L1035.8,595.5 L1036.1,596.9 L1036.4,598.4 L1036.7,599.9 L1037.1,601.3 L1037.4,602.8 L1037.8,604.2 L1038.1,605.7 L1038.5,607.1 L1038.8,608.6 L1039.2,610.0 L1039.6,611.5 L1040.0,612.9 L1040.4,614.4 L1040.8,615.8 L1041.2,617.3 L1041.7,618.7 L1042.1,620.1 L1042.5,621.6 L1043.0,623.0" fill="none" stroke="#EDB120" stroke-width="13.9" stroke-linejoin="round" stroke-linecap="butt" stroke-dasharray="14 12.05" stroke-dashoffset="1.7"/>
<path d="M1043.0,623.0 L1043.4,621.6 L1043.8,620.1 L1044.2,618.7 L1044.6,617.2 L1044.9,615.8 L1045.3,614.3 L1045.7,612.9 L1046.0,611.4 L1046.4,610.0 L1046.8,608.5 L1047.1,607.1 L1047.5,605.6 L1047.8,604.2 L1048.2,602.7 L1048.5,601.3 L1048.8,599.8 L1049.2,598.3 L1049.5,596.9 L1049.8,595.4 L1050.2,594.0 L1050.5,592.5 L1050.8,591.0 L1051.1,589.6 L1051.4,588.1 L1051.8,586.6 L1052.1,585.2 L1052.4,583.7 L1052.7,582.2 L1053.0,580.8 L1053.3,579.3 L1053.6,577.8 L1053.9,576.3 L1054.2,574.9 L1054.5,573.4 L1054.8,571.9 L1055.0,570.5 L1055.3,569.0 L1055.6,567.5 L1055.9,566.0 L1056.2,564.6 L1056.5,563.1 L1056.7,561.6 L1057.0,560.1 L1057.3,558.6 L1057.6,557.2 L1057.8,555.7 L1058.1,554.2 L1058.4,552.7 L1058.6,551.3 L1058.9,549.8 L1059.2,548.3 L1059.4,546.8 L1059.7,545.3 L1060.0,543.9 L1060.2,542.4 L1060.5,540.9 L1060.8,539.4 L1061.0,537.9 L1061.3,536.4 L1061.6,535.0 L1061.8,533.5 L1062.1,532.0 L1062.3,530.5 L1062.6,529.0 L1062.9,527.5 L1063.1,526.1 L1063.4,524.6 L1063.6,523.1 L1063.9,521.6 L1064.2,520.1 L1064.4,518.7 L1064.7,517.2 L1065.0,515.7 L1065.2,514.2 L1065.5,512.7 L1065.8,511.2 L1066.0,509.8 L1066.3,508.3 L1066.6,506.8 L1066.8,505.3 L1067.1,503.8 L1067.4,502.4 L1067.6,500.9 L1067.9,499.4 L1068.2,497.9 L1068.5,496.4 L1068.7,495.0 L1069.0,493.5 L1069.3,492.0 L1069.6,490.5 L1069.9,489.0 L1070.1,487.6 L1070.4,486.1 L1070.7,484.6 L1071.0,483.1 L1071.3,481.7 L1071.6,480.2 L1071.9,478.7 L1072.2,477.2 L1072.5,475.8 L1072.8,474.3 L1073.1,472.8 L1073.4,471.4 L1073.7,469.9 L1074.0,468.4 L1074.3,467.0 L1074.7,465.5 L1075.0,464.0 L1075.3,462.6 L1075.6,461.1 L1076.0,459.6 L1076.3,458.2 L1076.6,456.7 L1077.0,455.2 L1077.3,453.8 L1077.6,452.3 L1078.0,450.9 L1078.3,449.4 L1078.7,447.9 L1079.1,446.5 L1079.4,445.0 L1079.8,443.6 L1080.2,442.1 L1080.5,440.7 L1080.9,439.2 L1081.3,437.8 L1081.7,436.3 L1082.1,434.9 L1082.5,433.4 L1082.9,432.0 L1083.3,430.5 L1083.7,429.1 L1084.1,427.7 L1084.5,426.2 L1084.9,424.8 L1085.3,423.3 L1085.8,421.9 L1086.2,420.5 L1086.6,419.0 L1087.1,417.6 L1087.5,416.2 L1088.0,414.7 L1088.4,413.3 L1088.9,411.9 L1089.4,410.5 L1089.8,409.0 L1090.3,407.6 L1090.8,406.2 L1091.3,404.8 L1091.8,403.4 L1092.3,401.9 L1092.8,400.5 L1093.3,399.1 L1093.8,397.7 L1094.3,396.3 L1094.9,394.9 L1095.4,393.5 L1095.9,392.1 L1096.5,390.7 L1097.0,389.3 L1097.6,387.9 L1098.2,386.5 L1098.7,385.1 L1099.3,383.7 L1099.9,382.3 L1100.5,380.9 L1101.1,379.5 L1101.7,378.2 L1102.3,376.8 L1102.9,375.4 L1103.5,374.0 L1104.1,372.6 L1104.8,371.3 L1105.4,369.9 L1106.1,368.5 L1106.7,367.2 L1107.4,365.8 L1108.0,364.5 L1108.7,363.1 L1109.4,361.8 L1110.0,360.4 L1110.7,359.1 L1111.4,357.7 L1112.1,356.4 L1112.8,355.0 L1113.5,353.7 L1114.3,352.4 L1115.0,351.1 L1115.7,349.7 L1116.5,348.4 L1117.2,347.1 L1118.0,345.8 L1118.7,344.5 L1119.5,343.2 L1120.2,341.9 L1121.0,340.6 L1121.8,339.3 L1122.6,338.0 L1123.4,336.8 L1124.2,335.5 L1125.0,334.2 L1125.8,332.9 L1126.6,331.7 L1127.4,330.4 L1128.3,329.2 L1129.1,327.9 L1130.0,326.7 L1130.8,325.4 L1131.7,324.2 L1132.5,323.0 L1133.4,321.7 L1134.3,320.5 L1135.2,319.3 L1136.1,318.1 L1137.0,316.9 L1137.9,315.7 L1138.8,314.5 L1139.7,313.3 L1140.6,312.1 L1141.5,311.0 L1142.5,309.8 L1143.4,308.6 L1144.4,307.5 L1145.3,306.3 L1146.3,305.2 L1147.2,304.0 L1148.2,302.9 L1149.2,301.8 L1150.2,300.6 L1151.2,299.5 L1152.2,298.4 L1153.2,297.3 L1154.2,296.2 L1155.2,295.1 L1156.2,294.0 L1157.3,293.0 L1158.3,291.9 L1159.4,290.8 L1160.4,289.8 L1161.5,288.7 L1162.5,287.6 L1163.6,286.6 L1164.7,285.6 L1165.7,284.5 L1166.8,283.5 L1167.9,282.5 L1169.0,281.5 L1170.1,280.4 L1171.2,279.4 L1172.3,278.4 L1173.4,277.4 L1174.6,276.4 L1175.7,275.5 L1176.8,274.5 L1177.9,273.5 L1179.1,272.5 L1180.2,271.6 L1181.4,270.6 L1182.5,269.7 L1183.7,268.7 L1184.9,267.8 L1186.0,266.8 L1187.2,265.9 L1188.4,265.0 L1189.6,264.0 L1190.7,263.1 L1191.9,262.2 L1193.1,261.3 L1194.3,260.4 L1195.5,259.5 L1196.7,258.6 L1197.9,257.7 L1199.2,256.8 L1200.4,255.9 L1201.6,255.0 L1202.8,254.2 L1204.0,253.3 L1205.3,252.4 L1206.5,251.6 L1207.7,250.7 L1209.0,249.8 L1210.2,249.0 L1211.5,248.2 L1212.7,247.3 L1214.0,246.5 L1215.2,245.6 L1216.5,244.8 L1217.8,244.0 L1219.0,243.2 L1220.3,242.4 L1221.6,241.5 L1222.8,240.7 L1224.1,239.9 L1225.4,239.1 L1226.7,238.3 L1228.0,237.5 L1229.2,236.7 L1230.5,236.0 L1231.8,235.2 L1233.1,234.4 L1234.4,233.6 L1235.7,232.8 L1237.0,232.1 L1238.3,231.3 L1239.6,230.5 L1240.9,229.8 L1242.2,229.0 L1243.5,228.3 L1244.8,227.5 L1246.1,226.8 L1247.5,226.1 L1248.8,225.3 L1250.1,224.6 L1251.4,223.9 L1252.7,223.2 L1254.1,222.4 L1255.4,221.7 L1256.7,221.0 L1258.1,220.3 L1259.4,219.6 L1260.7,218.9 L1262.1,218.2 L1263.4,217.5 L1264.8,216.9 L1266.1,216.2 L1267.5,215.5 L1268.8,214.8 L1270.2,214.2 L1271.5,213.5 L1272.9,212.9 L1274.2,212.2 L1275.6,211.6 L1276.9,210.9 L1278.3,210.3 L1279.7,209.7 L1281.0,209.0 L1282.4,208.4 L1283.8,207.8 L1285.2,207.2 L1286.5,206.6 L1287.9,206.0 L1289.3,205.4 L1290.7,204.8 L1292.0,204.2 L1293.4,203.6 L1294.8,203.0 L1296.2,202.5 L1297.6,201.9 L1299.0,201.3 L1300.4,200.8 L1301.8,200.2 L1303.2,199.7 L1304.6,199.1 L1306.0,198.6 L1307.4,198.1 L1308.8,197.5 L1310.2,197.0 L1311.6,196.5 L1313.0,196.0 L1314.4,195.5 L1315.8,195.0 L1317.3,194.5 L1318.7,194.0 L1320.1,193.5 L1321.5,193.1 L1322.9,192.6 L1324.4,192.1 L1325.8,191.7 L1327.2,191.2 L1328.7,190.8 L1330.1,190.3 L1331.5,189.9 L1333.0,189.5 L1334.4,189.0 L1335.8,188.6 L1337.3,188.2 L1338.7,187.8 L1340.2,187.4 L1341.6,187.0 L1343.0,186.6 L1344.5,186.3 L1345.9,185.9 L1347.4,185.5 L1348.8,185.2 L1350.3,184.8 L1351.8,184.4 L1353.2,184.1 L1354.7,183.8 L1356.1,183.4 L1357.6,183.1 L1359.1,182.8 L1360.5,182.5 L1362.0,182.2 L1363.5,181.8 L1364.9,181.5 L1366.4,181.3 L1367.9,181.0 L1369.3,180.7 L1370.8,180.4 L1372.3,180.1 L1373.8,179.8 L1375.2,179.6 L1376.7,179.3 L1378.2,179.0 L1379.7,178.8 L1381.2,178.5 L1382.6,178.2 L1384.1,178.0 L1385.6,177.7 L1387.1,177.5 L1388.6,177.2 L1390.1,177.0 L1391.5,176.8 L1393.0,176.5 L1394.5,176.3 L1396.0,176.0 L1397.5,175.8 L1399.0,175.6 L1400.5,175.3 L1401.9,175.1 L1403.4,174.9 L1404.9,174.6 L1406.4,174.4 L1407.9,174.2 L1409.4,173.9 L1410.9,173.7 L1412.4,173.5 L1413.8,173.2 L1415.3,173.0 L1416.8,172.8 L1418.3,172.5 L1419.8,172.3 L1421.3,172.1 L1422.8,171.8 L1424.2,171.6 L1425.7,171.4 L1427.2,171.1 L1428.7,170.9 L1430.2,170.6 L1431.7,170.4 L1433.2,170.1 L1434.6,169.9 L1436.1,169.6 L1437.6,169.4 L1439.1,169.1 L1440.6,168.8 L1442.0,168.6 L1443.5,168.3 L1445.0,168.0 L1446.5,167.8 L1447.9,167.5 L1449.4,167.2 L1450.9,166.9 L1452.4,166.6 L1453.8,166.3 L1455.3,166.0 L1456.8,165.7 L1458.2,165.4 L1459.7,165.1 L1461.2,164.8 L1462.6,164.4 L1464.1,164.1 L1465.6,163.8 L1467.0,163.4 L1468.5,163.1 L1470.0,162.8 L1471.4,162.4 L1472.9,162.1 L1474.3,161.7 L1475.8,161.4 L1477.3,161.0 L1478.7,160.7 L1480.2,160.3 L1481.6,159.9 L1483.1,159.6 L1484.5,159.2 L1486.0,158.8 L1487.4,158.4 L1488.9,158.1 L1490.3,157.7 L1491.8,157.3 L1493.2,156.9 L1494.7,156.5 L1496.1,156.1 L1497.6,155.7 L1499.0,155.3 L1500.5,154.9 L1501.9,154.5 L1503.4,154.1 L1504.8,153.7 L1506.3,153.3 L1507.7,152.9 L1509.2,152.5 L1510.6,152.1 L1512.0,151.7 L1513.5,151.3 L1514.9,150.9 L1516.4,150.5 L1517.8,150.0 L1519.3,149.6 L1520.7,149.2 L1522.1,148.8 L1523.6,148.4 L1525.0,148.0 L1526.5,147.5 L1527.9,147.1 L1529.4,146.7 L1530.8,146.3 L1532.2,145.9 L1533.7,145.4 L1535.1,145.0 L1536.6,144.6 L1538.0,144.2 L1539.4,143.7 L1540.9,143.3 L1542.3,142.9 L1543.8,142.5 L1545.2,142.1 L1546.6,141.6 L1548.1,141.2 L1549.5,140.8 L1551.0,140.4 L1552.4,139.9 L1553.9,139.5 L1555.3,139.1 L1556.7,138.7 L1558.2,138.3 L1559.6,137.9 L1561.1,137.4 L1562.5,137.0 L1564.0,136.6 L1565.4,136.2 L1566.8,135.8 L1568.3,135.4 L1569.7,135.0 L1571.2,134.6 L1572.6,134.2 L1574.1,133.8 L1575.5,133.4 L1577.0,133.0 L1578.4,132.6 L1579.9,132.2 L1581.3,131.8 L1582.8,131.4 L1584.2,131.0 L1585.7,130.6 L1587.1,130.2 L1588.6,129.9 L1590.0,129.5 L1591.5,129.1 L1592.9,128.7 L1594.4,128.4 L1595.8,128.0 L1597.3,127.6 L1598.7,127.3 L1600.2,126.9 L1601.7,126.6 L1603.1,126.2 L1604.6,125.9 L1606.0,125.5 L1607.5,125.2 L1609.0,124.8 L1610.4,124.5 L1611.9,124.2 L1613.3,123.8 L1614.8,123.5 L1616.3,123.2 L1617.7,122.9 L1619.2,122.6 L1620.7,122.2 L1622.2,121.9 L1623.6,121.6 L1625.1,121.3 L1626.6,121.0 L1628.0,120.8 L1629.5,120.5 L1631.0,120.2 L1632.5,119.9 L1634.0,119.7 L1635.4,119.4 L1636.9,119.1 L1638.4,118.9 L1639.9,118.6 L1641.4,118.4 L1642.9,118.1 L1644.3,117.9 L1645.8,117.7 L1647.3,117.4 L1648.8,117.2 L1650.3,117.0 L1651.8,116.8" fill="none" stroke="#EDB120" stroke-width="13.9" stroke-linejoin="round" stroke-linecap="butt" stroke-dasharray="14 12.05" stroke-dashoffset="4.2"/>
<path d="M238.0,108.2 L238.9,109.5 L239.7,110.7 L240.5,112.0 L241.3,113.3 L242.1,114.6 L242.9,115.9 L243.7,117.2 L244.4,118.5 L245.2,119.8 L245.9,121.2 L246.6,122.5 L247.3,123.9 L247.9,125.2 L248.6,126.6 L249.2,127.9 L249.8,129.3 L250.5,130.7 L251.1,132.0 L251.6,133.4 L252.2,134.8 L252.8,136.2 L253.3,137.6 L253.9,139.0 L254.4,140.4 L254.9,141.8 L255.4,143.2 L255.9,144.6 L256.4,146.1 L256.9,147.5 L257.3,148.9 L257.8,150.4 L258.2,151.8 L258.6,153.2 L259.0,154.7 L259.4,156.1 L259.8,157.6 L260.2,159.0 L260.6,160.5 L261.0,161.9 L261.4,163.4 L261.7,164.9 L262.1,166.3 L262.4,167.8 L262.8,169.3 L263.1,170.7 L263.5,172.2 L263.8,173.7 L264.1,175.1 L264.5,176.6 L264.8,178.1 L265.1,179.6 L265.5,181.0 L265.8,182.5 L266.1,184.0 L266.5,185.5 L266.8,186.9 L267.1,188.4 L267.5,189.9 L267.8,191.3 L268.1,192.8 L268.5,194.3 L268.8,195.7 L269.2,197.2 L269.6,198.7 L269.9,200.1 L270.3,201.6 L270.7,203.1 L271.1,204.5 L271.5,206.0 L271.9,207.4 L272.3,208.9 L272.7,210.3 L273.1,211.8 L273.5,213.2 L273.9,214.7 L274.3,216.1 L274.7,217.6 L275.2,219.0 L275.6,220.4 L276.0,221.9 L276.5,223.3 L276.9,224.8 L277.3,226.2 L277.8,227.7 L278.2,229.1 L278.6,230.5 L279.1,232.0 L279.5,233.4 L280.0,234.8 L280.4,236.3 L280.8,237.7 L281.2,239.2 L281.7,240.6 L282.1,242.0 L282.5,243.5 L282.9,244.9 L283.3,246.4 L283.7,247.8 L284.1,249.3 L284.5,250.7 L284.8,252.2 L285.2,253.6 L285.5,255.1 L285.9,256.6 L286.2,258.0 L286.5,259.5 L286.8,261.0 L287.1,262.4 L287.4,263.9 L287.7,265.4 L287.9,266.9 L288.2,268.3 L288.5,269.8 L288.7,271.3 L288.9,272.8 L289.2,274.3 L289.4,275.8 L289.7,277.2 L289.9,278.7 L290.1,280.2 L290.3,281.7 L290.6,283.2 L290.8,284.7 L291.0,286.2 L291.2,287.7 L291.5,289.1 L291.7,290.6 L291.9,292.1 L292.1,293.6 L292.3,295.1 L292.6,296.6 L292.8,298.1 L293.0,299.6 L293.2,301.1 L293.4,302.6 L293.6,304.0 L293.8,305.5 L294.0,307.0 L294.2,308.5 L294.5,310.0 L294.7,311.5 L294.9,313.0 L295.1,314.5 L295.3,316.0 L295.5,317.5 L295.7,319.0 L295.9,320.5 L296.1,321.9 L296.3,323.4 L296.5,324.9 L296.7,326.4 L296.9,327.9 L297.1,329.4 L297.3,330.9 L297.5,332.4 L297.7,333.9 L297.9,335.4 L298.0,336.9 L298.2,338.4 L298.4,339.9 L298.6,341.4 L298.8,342.9 L299.0,344.3 L299.2,345.8 L299.4,347.3 L299.6,348.8 L299.7,350.3 L299.9,351.8 L300.1,353.3 L300.3,354.8 L300.5,356.3 L300.7,357.8 L300.8,359.3 L301.0,360.8 L301.2,362.3 L301.4,363.8 L301.6,365.3 L301.7,366.8 L301.9,368.3 L302.1,369.8 L302.3,371.3 L302.5,372.8 L302.6,374.3 L302.8,375.8 L303.0,377.2 L303.2,378.7 L303.3,380.2 L303.5,381.7 L303.7,383.2 L303.8,384.7 L304.0,386.2 L304.2,387.7 L304.4,389.2 L304.5,390.7 L304.7,392.2 L304.9,393.7 L305.0,395.2 L305.2,396.7 L305.4,398.2 L305.5,399.7 L305.7,401.2 L305.9,402.7 L306.0,404.2 L306.2,405.7 L306.4,407.2 L306.5,408.7 L306.7,410.2 L306.9,411.7 L307.0,413.2 L307.2,414.7 L307.4,416.2 L307.5,417.7 L307.7,419.2 L307.8,420.7 L308.0,422.2 L308.2,423.7 L308.3,425.2 L308.5,426.7 L308.6,428.2 L308.8,429.7 L309.0,431.2 L309.1,432.7 L309.3,434.2 L309.4,435.7 L309.6,437.2 L309.8,438.7 L309.9,440.2 L310.1,441.7 L310.2,443.2 L310.4,444.7 L310.5,446.2 L310.7,447.6 L310.9,449.1 L311.0,450.6 L311.2,452.1 L311.3,453.6 L311.5,455.1 L311.6,456.6 L311.8,458.1 L312.0,459.6 L312.1,461.1 L312.3,462.6 L312.4,464.1 L312.6,465.6 L312.7,467.1 L312.9,468.6 L313.0,470.1 L313.2,471.6 L313.4,473.1 L313.5,474.6 L313.7,476.1 L313.8,477.6 L314.0,479.1 L314.1,480.6 L314.3,482.1 L314.4,483.6 L314.6,485.1 L314.7,486.6 L314.9,488.1 L315.1,489.6 L315.2,491.1 L315.4,492.6 L315.5,494.1 L315.7,495.6 L315.8,497.1 L316.0,498.6 L316.1,500.1 L316.3,501.6 L316.5,503.1 L316.6,504.6 L316.8,506.1 L316.9,507.6 L317.1,509.1 L317.2,510.6 L317.4,512.1 L317.5,513.6 L317.7,515.1 L317.9,516.6 L318.0,518.1 L318.2,519.6 L318.3,521.1 L318.5,522.6 L318.6,524.1 L318.8,525.6 L319.0,527.1 L319.1,528.6 L319.3,530.1 L319.4,531.6 L319.6,533.1 L319.8,534.6 L319.9,536.1 L320.1,537.6 L320.2,539.1 L320.4,540.6 L320.6,542.1 L320.7,543.5 L320.9,545.0 L321.0,546.5 L321.2,548.0 L321.4,549.5 L321.5,551.0 L321.7,552.5 L321.8,554.0 L322.0,555.5 L322.2,557.0 L322.3,558.5 L322.5,560.0 L322.7,561.5 L322.8,563.0 L323.0,564.5" fill="none" stroke="#7E2F8E" stroke-width="13.9" stroke-linejoin="round" stroke-linecap="butt" stroke-dasharray="53.1 12 27 12.1" stroke-dashoffset="0.0"/>
<path d="M323.0,564.5 L323.5,563.1 L324.1,561.6 L324.5,560.2 L325.0,558.8 L325.4,557.3 L325.8,555.9 L326.1,554.4 L326.4,552.9 L326.7,551.5 L327.0,550.0 L327.2,548.5 L327.4,547.0 L327.7,545.5 L327.8,544.0 L328.0,542.5 L328.2,541.0 L328.3,539.5 L328.5,538.0 L328.6,536.5 L328.7,535.0 L328.9,533.5 L329.0,532.0 L329.1,530.5 L329.3,529.0 L329.4,527.5 L329.5,526.0 L329.7,524.5 L329.8,523.0 L329.9,521.5 L330.1,520.0 L330.2,518.5 L330.4,517.0 L330.5,515.5 L330.7,514.0 L330.8,512.5 L331.0,511.0 L331.2,509.5 L331.3,508.0 L331.5,506.5 L331.6,505.0 L331.8,503.5 L332.0,502.0 L332.2,500.5 L332.3,499.0 L332.5,497.5 L332.7,496.1 L332.9,494.6 L333.1,493.1 L333.2,491.6 L333.4,490.1 L333.6,488.6 L333.8,487.1 L334.0,485.6 L334.2,484.2 L334.4,482.7 L334.6,481.2 L334.8,479.7 L335.0,478.2 L335.2,476.7 L335.4,475.2 L335.6,473.8 L335.8,472.3 L336.0,470.8 L336.2,469.3 L336.4,467.8 L336.6,466.3 L336.9,464.9 L337.1,463.4 L337.3,461.9 L337.5,460.4 L337.7,458.9 L337.9,457.4 L338.2,455.9 L338.4,454.5 L338.6,453.0 L338.8,451.5 L339.0,450.0 L339.3,448.5 L339.5,447.0 L339.7,445.6 L339.9,444.1 L340.2,442.6 L340.4,441.1 L340.6,439.6 L340.9,438.1 L341.1,436.6 L341.3,435.1 L341.6,433.7 L341.8,432.2 L342.0,430.7 L342.3,429.2 L342.5,427.7 L342.7,426.2 L343.0,424.7 L343.2,423.2 L343.4,421.8 L343.7,420.3 L343.9,418.8 L344.2,417.3 L344.4,415.8 L344.7,414.3 L344.9,412.8 L345.1,411.3 L345.4,409.8 L345.7,408.4 L345.9,406.9 L346.2,405.4 L346.4,403.9 L346.7,402.4 L347.0,400.9 L347.2,399.4 L347.5,398.0 L347.8,396.5 L348.1,395.0 L348.3,393.5 L348.6,392.0 L348.9,390.5 L349.2,389.1 L349.5,387.6 L349.8,386.1 L350.1,384.6 L350.4,383.1 L350.7,381.7 L351.0,380.2 L351.3,378.7 L351.6,377.2 L351.9,375.8 L352.3,374.3 L352.6,372.8 L352.9,371.4 L353.3,369.9 L353.6,368.4 L354.0,367.0 L354.3,365.5 L354.7,364.0 L355.0,362.6 L355.4,361.1 L355.8,359.7 L356.1,358.2 L356.5,356.8 L356.9,355.3 L357.3,353.9 L357.7,352.4 L358.1,351.0 L358.5,349.5 L358.9,348.1 L359.3,346.6 L359.8,345.2 L360.2,343.8 L360.6,342.3 L361.1,340.9 L361.5,339.5 L362.0,338.0 L362.4,336.6 L362.9,335.2 L363.4,333.8 L363.8,332.3 L364.3,330.9 L364.8,329.5 L365.3,328.1 L365.8,326.7 L366.3,325.3 L366.9,323.9 L367.4,322.5 L367.9,321.1 L368.5,319.7 L369.0,318.3 L369.6,316.9 L370.1,315.5 L370.7,314.1 L371.3,312.7 L371.9,311.3 L372.5,309.9 L373.1,308.6 L373.7,307.2 L374.3,305.8 L374.9,304.5 L375.6,303.1 L376.2,301.7 L376.9,300.4 L377.5,299.0 L378.2,297.7 L378.9,296.3 L379.6,295.0 L380.3,293.6 L381.0,292.3 L381.7,291.0 L382.4,289.6 L383.1,288.3 L383.9,287.0 L384.6,285.7 L385.4,284.4 L386.2,283.1 L387.0,281.8 L387.8,280.5 L388.6,279.2 L389.4,278.0 L390.3,276.7 L391.1,275.5 L392.0,274.3 L392.9,273.0 L393.8,271.8 L394.7,270.6 L395.6,269.5 L396.6,268.3 L397.5,267.2 L398.5,266.0 L399.5,264.9 L400.5,263.8 L401.5,262.7 L402.6,261.6 L403.7,260.6 L404.7,259.6 L405.8,258.5 L406.9,257.6 L408.1,256.6 L409.2,255.6 L410.4,254.7 L411.6,253.8 L412.8,252.9 L414.1,252.0 L415.3,251.2 L416.6,250.3 L417.9,249.5 L419.2,248.7 L420.5,248.0 L421.8,247.2 L423.2,246.5 L424.6,245.7 L425.9,245.0 L427.3,244.3 L428.7,243.6 L430.1,243.0 L431.5,242.3 L432.9,241.7 L434.3,241.0 L435.7,240.4 L437.1,239.9 L438.5,239.3 L440.0,238.8 L441.4,238.4 L442.8,238.0 L444.3,237.7 L445.7,237.5 L447.1,237.3 L448.5,237.2 L450.0,237.2 L451.4,237.3 L452.8,237.4 L454.3,237.7 L455.7,238.0 L457.1,238.3 L458.6,238.7 L460.0,239.1 L461.5,239.6 L462.9,240.0 L464.3,240.5 L465.8,241.0 L467.3,241.4 L468.7,241.8 L470.2,242.2 L471.6,242.6 L473.1,242.9 L474.6,243.1 L476.1,243.3 L477.6,243.5 L479.1,243.6 L480.6,243.7 L482.1,243.8 L483.6,243.8 L485.1,243.8 L486.6,243.7 L488.1,243.7 L489.6,243.6 L491.1,243.5 L492.6,243.4 L494.2,243.3 L495.7,243.2 L497.2,243.1 L498.7,243.0 L500.2,242.9 L501.7,242.7 L503.2,242.6 L504.7,242.5 L506.2,242.4 L507.7,242.3 L509.2,242.2 L510.7,242.1 L512.2,242.0 L513.7,241.9 L515.2,241.8 L516.7,241.7 L518.2,241.6 L519.7,241.6 L521.2,241.5 L522.7,241.5 L524.2,241.4 L525.7,241.4 L527.2,241.4 L528.7,241.4 L530.2,241.4 L531.7,241.4 L533.2,241.4 L534.8,241.4 L536.3,241.5 L537.8,241.5 L539.3,241.6 L540.8,241.7 L542.3,241.8 L543.8,241.9 L545.3,242.0 L546.8,242.2 L548.3,242.3 L549.8,242.5 L551.3,242.6 L552.8,242.8 L554.3,243.0 L555.8,243.2 L557.3,243.5 L558.8,243.7 L560.3,244.0 L561.7,244.2 L563.2,244.5 L564.7,244.8 L566.2,245.1 L567.6,245.5 L569.1,245.8 L570.6,246.2 L572.0,246.5 L573.5,246.9 L574.9,247.3 L576.4,247.8 L577.8,248.2 L579.2,248.7 L580.7,249.1 L582.1,249.6 L583.5,250.1 L584.9,250.6 L586.3,251.2 L587.7,251.7 L589.1,252.3 L590.5,252.9 L591.8,253.5 L593.2,254.1 L594.6,254.7 L595.9,255.4 L597.3,256.1 L598.6,256.7 L600.0,257.5 L601.3,258.2 L602.6,258.9 L603.9,259.7 L605.2,260.5 L606.5,261.2 L607.8,262.1 L609.0,262.9 L610.3,263.7 L611.5,264.6 L612.8,265.4 L614.0,266.3 L615.2,267.2 L616.5,268.1 L617.7,269.1 L618.9,270.0 L620.0,271.0 L621.2,271.9 L622.4,272.9 L623.5,273.9 L624.7,274.9 L625.8,276.0 L626.9,277.0 L628.0,278.0 L629.1,279.1 L630.2,280.2 L631.2,281.2 L632.3,282.3 L633.3,283.4 L634.4,284.5 L635.4,285.7 L636.4,286.8 L637.4,287.9 L638.4,289.1 L639.3,290.3 L640.3,291.4 L641.2,292.6 L642.1,293.8 L643.0,295.0 L643.9,296.2 L644.8,297.4 L645.7,298.7 L646.5,299.9 L647.4,301.1 L648.2,302.4 L649.0,303.6 L649.8,304.9 L650.6,306.1 L651.4,307.4 L652.1,308.7 L652.9,310.0 L653.6,311.3 L654.4,312.6 L655.1,313.9 L655.8,315.2 L656.5,316.5 L657.2,317.8 L657.9,319.1 L658.6,320.5 L659.3,321.8 L659.9,323.1 L660.6,324.5 L661.2,325.8 L661.9,327.2 L662.5,328.5 L663.2,329.9 L663.8,331.2 L664.4,332.6 L665.0,334.0 L665.6,335.3 L666.2,336.7 L666.9,338.1 L667.5,339.5 L668.1,340.8 L668.7,342.2 L669.2,343.6 L669.8,345.0 L670.4,346.4 L671.0,347.8 L671.6,349.1 L672.2,350.5 L672.8,351.9 L673.4,353.3 L674.0,354.7 L674.5,356.1 L675.1,357.5 L675.7,358.9 L676.3,360.2 L676.9,361.6 L677.5,363.0 L678.1,364.4 L678.7,365.8 L679.3,367.2 L679.9,368.5 L680.5,369.9 L681.1,371.3 L681.8,372.7 L682.4,374.1 L683.0,375.4 L683.6,376.8 L684.2,378.2 L684.8,379.6 L685.5,381.0 L686.1,382.3 L686.7,383.7 L687.3,385.1 L687.9,386.5 L688.6,387.8 L689.2,389.2 L689.8,390.6 L690.4,392.0 L691.1,393.3 L691.7,394.7 L692.3,396.1 L692.9,397.5 L693.6,398.8 L694.2,400.2 L694.8,401.6 L695.4,403.0 L696.1,404.3 L696.7,405.7 L697.3,407.1 L697.9,408.5 L698.6,409.8 L699.2,411.2 L699.8,412.6 L700.4,414.0 L701.0,415.3 L701.7,416.7 L702.3,418.1 L702.9,419.5 L703.5,420.8 L704.1,422.2 L704.7,423.6 L705.3,425.0 L705.9,426.4 L706.5,427.7 L707.1,429.1 L707.7,430.5 L708.3,431.9 L708.9,433.3 L709.5,434.7 L710.1,436.1 L710.7,437.4 L711.3,438.8 L711.9,440.2 L712.4,441.6 L713.0,443.0 L713.6,444.4 L714.2,445.8 L714.7,447.2 L715.3,448.6 L715.8,450.0 L716.4,451.4 L716.9,452.8 L717.5,454.2 L718.0,455.6 L718.6,457.0 L719.1,458.4 L719.6,459.8 L720.2,461.2 L720.7,462.6 L721.2,464.0 L721.7,465.4 L722.2,466.8 L722.7,468.2 L723.2,469.6 L723.7,471.0 L724.2,472.5 L724.7,473.9 L725.2,475.3 L725.7,476.7 L726.1,478.1 L726.6,479.6 L727.1,481.0 L727.5,482.4 L728.0,483.8 L728.5,485.3 L728.9,486.7 L729.4,488.1 L729.8,489.6 L730.2,491.0 L730.7,492.4 L731.1,493.9 L731.5,495.3 L732.0,496.7 L732.4,498.2 L732.8,499.6 L733.2,501.1 L733.6,502.5 L734.0,504.0 L734.4,505.4 L734.8,506.8 L735.2,508.3 L735.6,509.7 L736.0,511.2 L736.4,512.6 L736.8,514.1 L737.1,515.5 L737.5,517.0 L737.9,518.4 L738.2,519.9 L738.6,521.4 L739.0,522.8 L739.3,524.3 L739.7,525.7 L740.0,527.2 L740.4,528.7 L740.7,530.1 L741.1,531.6 L741.4,533.0 L741.7,534.5 L742.1,536.0 L742.4,537.4 L742.7,538.9 L743.0,540.4 L743.3,541.8 L743.7,543.3 L744.0,544.8 L744.3,546.2 L744.6,547.7 L744.9,549.2 L745.2,550.7 L745.5,552.1 L745.8,553.6 L746.1,555.1 L746.4,556.6 L746.7,558.0 L746.9,559.5 L747.2,561.0 L747.5,562.5 L747.8,563.9 L748.0,565.4 L748.3,566.9 L748.6,568.4 L748.8,569.9 L749.1,571.3 L749.4,572.8 L749.6,574.3 L749.9,575.8 L750.1,577.3 L750.4,578.8 L750.6,580.3 L750.9,581.7 L751.1,583.2 L751.3,584.7 L751.6,586.2 L751.8,587.7 L752.1,589.2 L752.3,590.7 L752.5,592.1 L752.7,593.6 L753.0,595.1 L753.2,596.6 L753.4,598.1 L753.6,599.6 L753.8,601.1 L754.1,602.6 L754.3,604.1 L754.5,605.6 L754.7,607.1 L754.9,608.6 L755.1,610.0 L755.3,611.5 L755.5,613.0 L755.7,614.5 L755.9,616.0 L756.1,617.5 L756.3,619.0 L756.5,620.5 L756.6,622.0 L756.8,623.5 L757.0,625.0 L757.2,626.5 L757.4,628.0 L757.6,629.5 L757.7,631.0 L757.9,632.5 L758.1,634.0 L758.3,635.5 L758.4,637.0 L758.6,638.4 L758.8,639.9 L758.9,641.4 L759.1,642.9 L759.3,644.4 L759.4,645.9 L759.6,647.4 L759.8,648.9 L759.9,650.4 L760.1,651.9 L760.2,653.4 L760.4,654.9 L760.6,656.4 L760.7,657.9 L760.9,659.4 L761.0,660.9 L761.2,662.4 L761.3,663.9 L761.5,665.4 L761.6,666.9 L761.7,668.4 L761.9,669.9 L762.0,671.4 L762.2,672.9 L762.3,674.4 L762.5,675.9 L762.6,677.3 L762.7,678.8 L762.9,680.3 L763.0,681.8 L763.1,683.3 L763.3,684.8 L763.4,686.3 L763.5,687.8 L763.7,689.3 L763.8,690.8 L763.9,692.3 L764.0,693.8 L764.2,695.3 L764.3,696.8 L764.4,698.3 L764.5,699.8 L764.7,701.3 L764.8,702.8 L764.9,704.3 L765.0,705.8 L765.1,707.3 L765.2,708.8 L765.4,710.3 L765.5,711.8 L765.6,713.2 L765.7,714.7 L765.8,716.2 L765.9,717.7 L766.0,719.2 L766.1,720.7 L766.2,722.2 L766.3,723.7 L766.4,725.2 L766.5,726.7 L766.6,728.2 L766.7,729.7 L766.8,731.2 L766.9,732.7 L767.0,734.2 L767.1,735.7 L767.2,737.2 L767.3,738.7 L767.4,740.2 L767.5,741.7 L767.6,743.2 L767.7,744.7 L767.7,746.3 L767.8,747.8 L767.9,749.3 L768.0,750.8 L768.1,752.3 L768.1,753.8 L768.2,755.3 L768.3,756.8 L768.4,758.3 L768.5,759.8 L768.5,761.3 L768.6,762.8 L768.7,764.3 L768.7,765.8 L768.8,767.3 L768.9,768.8 L769.0,770.4 L769.0,771.9 L769.1,773.4 L769.3,774.9 L769.4,776.4 L769.6,777.9 L769.8,779.3 L770.1,780.8 L770.4,782.3 L770.7,783.8 L771.1,785.2 L771.6,786.6 L772.1,788.1 L772.7,789.5 L773.4,790.9 L774.2,792.3 L775.1,793.6 L776.0,795.0" fill="none" stroke="#7E2F8E" stroke-width="13.9" stroke-linejoin="round" stroke-linecap="butt" stroke-dasharray="53.1 12 27 12.1" stroke-dashoffset="46.6"/>
<path d="M776.0,795.0 L776.2,793.5 L776.3,792.0 L776.5,790.5 L776.6,789.0 L776.8,787.5 L776.9,786.0 L777.1,784.5 L777.2,783.0 L777.3,781.5 L777.5,780.0 L777.6,778.5 L777.8,777.0 L777.9,775.5 L778.1,774.0 L778.2,772.6 L778.4,771.1 L778.5,769.6 L778.6,768.1 L778.8,766.6 L778.9,765.1 L779.1,763.6 L779.2,762.1 L779.3,760.6 L779.5,759.1 L779.6,757.6 L779.7,756.1 L779.9,754.6 L780.0,753.1 L780.1,751.6 L780.3,750.1 L780.4,748.6 L780.5,747.1 L780.7,745.6 L780.8,744.1 L780.9,742.6 L781.1,741.1 L781.2,739.6 L781.3,738.1 L781.5,736.6 L781.6,735.1 L781.7,733.6 L781.8,732.1 L782.0,730.6 L782.1,729.1 L782.2,727.6 L782.4,726.1 L782.5,724.6 L782.6,723.1 L782.7,721.6 L782.9,720.1 L783.0,718.6 L783.1,717.1 L783.2,715.6 L783.4,714.1 L783.5,712.6 L783.6,711.1 L783.8,709.6 L783.9,708.1 L784.0,706.6 L784.1,705.1 L784.3,703.6 L784.4,702.1 L784.5,700.6 L784.6,699.0 L784.8,697.5 L784.9,696.0 L785.0,694.5 L785.1,693.0 L785.3,691.5 L785.4,690.0 L785.5,688.5 L785.6,687.0 L785.8,685.5 L785.9,684.0 L786.0,682.5 L786.1,681.0 L786.3,679.5 L786.4,678.0 L786.5,676.5 L786.6,675.0 L786.8,673.5 L786.9,672.0 L787.0,670.5 L787.1,669.0 L787.3,667.5 L787.4,666.0 L787.5,664.5 L787.6,663.0 L787.8,661.5 L787.9,660.0 L788.0,658.5 L788.2,657.0 L788.3,655.5 L788.4,654.0 L788.5,652.5 L788.7,651.0 L788.8,649.5 L788.9,648.0 L789.1,646.5 L789.2,645.0 L789.3,643.5 L789.5,642.0 L789.6,640.5 L789.7,639.0 L789.9,637.5 L790.0,636.0 L790.1,634.5 L790.3,633.0 L790.4,631.5 L790.6,630.0 L790.7,628.5 L790.8,627.0 L791.0,625.5 L791.1,624.0 L791.2,622.5 L791.4,621.0 L791.5,619.5 L791.7,618.0 L791.8,616.5 L792.0,615.0 L792.1,613.5 L792.2,612.0 L792.4,610.5 L792.5,609.0 L792.7,607.5 L792.8,606.0 L793.0,604.5 L793.1,603.0 L793.3,601.5 L793.4,600.0 L793.6,598.5 L793.7,597.0 L793.9,595.5 L794.0,594.0 L794.2,592.5 L794.3,591.0 L794.5,589.5 L794.7,588.0 L794.8,586.5 L795.0,585.0 L795.1,583.5 L795.3,582.0 L795.5,580.5 L795.6,579.0 L795.8,577.5 L796.0,576.0 L796.1,574.5 L796.3,573.1 L796.5,571.6 L796.6,570.1 L796.8,568.6 L797.0,567.1 L797.1,565.6 L797.3,564.1 L797.5,562.6 L797.7,561.1 L797.8,559.6 L798.0,558.1 L798.2,556.6 L798.4,555.1 L798.6,553.6 L798.7,552.1 L798.9,550.6 L799.1,549.1 L799.3,547.6 L799.5,546.2 L799.7,544.7 L799.9,543.2 L800.1,541.7 L800.3,540.2 L800.5,538.7 L800.7,537.2 L800.8,535.7 L801.0,534.2 L801.2,532.7 L801.4,531.2 L801.7,529.8 L801.9,528.3 L802.1,526.8 L802.3,525.3 L802.5,523.8 L802.7,522.3 L802.9,520.8 L803.1,519.3 L803.3,517.8 L803.5,516.3 L803.8,514.9 L804.0,513.4 L804.2,511.9 L804.4,510.4 L804.7,508.9 L804.9,507.4 L805.1,505.9 L805.3,504.5 L805.6,503.0 L805.8,501.5 L806.0,500.0 L806.3,498.5 L806.5,497.0 L806.7,495.5 L807.0,494.1 L807.2,492.6 L807.5,491.1 L807.7,489.6 L808.0,488.1 L808.2,486.6 L808.5,485.2 L808.7,483.7 L809.0,482.2 L809.2,480.7 L809.5,479.2 L809.8,477.7 L810.0,476.3 L810.3,474.8 L810.5,473.3 L810.8,471.8 L811.1,470.3 L811.4,468.9 L811.6,467.4 L811.9,465.9 L812.2,464.4 L812.5,463.0 L812.8,461.5 L813.0,460.0 L813.3,458.5 L813.6,457.0 L813.9,455.6 L814.2,454.1 L814.5,452.6 L814.8,451.1 L815.1,449.7 L815.4,448.2 L815.7,446.7 L816.0,445.2 L816.3,443.8 L816.6,442.3 L816.9,440.8 L817.2,439.4 L817.5,437.9 L817.9,436.4 L818.2,434.9 L818.5,433.5 L818.8,432.0 L819.2,430.5 L819.5,429.1 L819.8,427.6 L820.2,426.1 L820.5,424.6 L820.8,423.2 L821.2,421.7 L821.5,420.2 L821.9,418.8 L822.2,417.3 L822.6,415.8 L822.9,414.4 L823.3,412.9 L823.6,411.4 L824.0,410.0 L824.4,408.5 L824.7,407.1 L825.1,405.6 L825.5,404.1 L825.8,402.7 L826.2,401.2 L826.6,399.7 L827.0,398.3 L827.4,396.8 L827.8,395.4 L828.1,393.9 L828.5,392.5 L828.9,391.0 L829.3,389.5 L829.7,388.1 L830.2,386.6 L830.6,385.2 L831.0,383.7 L831.4,382.3 L831.8,380.8 L832.3,379.4 L832.7,377.9 L833.1,376.5 L833.6,375.1 L834.0,373.6 L834.5,372.2 L834.9,370.7 L835.4,369.3 L835.9,367.9 L836.3,366.4 L836.8,365.0 L837.3,363.6 L837.8,362.2 L838.3,360.7 L838.8,359.3 L839.3,357.9 L839.8,356.5 L840.3,355.0 L840.8,353.6 L841.3,352.2 L841.8,350.8 L842.4,349.4 L842.9,348.0 L843.5,346.6 L844.0,345.2 L844.6,343.8 L845.1,342.4 L845.7,341.0 L846.3,339.6 L846.8,338.2 L847.4,336.8 L848.0,335.5 L848.6,334.1 L849.2,332.7 L849.8,331.3 L850.5,329.9 L851.1,328.6 L851.7,327.2 L852.4,325.8 L853.0,324.5 L853.7,323.1 L854.3,321.8 L855.0,320.4 L855.7,319.1 L856.4,317.7 L857.1,316.4 L857.8,315.1 L858.5,313.7 L859.2,312.4 L859.9,311.1 L860.7,309.7 L861.4,308.4 L862.1,307.1 L862.9,305.8 L863.7,304.5 L864.4,303.2 L865.2,301.9 L866.0,300.6 L866.8,299.3 L867.6,298.0 L868.4,296.7 L869.3,295.4 L870.1,294.2 L871.0,293.0 L872.0,291.8 L872.9,290.7 L874.0,289.6 L875.1,288.6 L876.3,287.7 L877.5,286.9 L878.9,286.1 L880.3,285.5 L881.7,285.0 L883.2,284.7 L884.6,284.5 L886.1,284.4 L887.5,284.6 L888.9,284.9 L890.2,285.4 L891.5,286.0 L892.7,286.8 L893.9,287.7 L895.0,288.7 L896.0,289.8 L896.9,291.0 L897.8,292.3 L898.6,293.7 L899.3,295.1 L899.9,296.5 L900.5,298.0 L901.1,299.5 L901.6,301.0 L902.1,302.5 L902.6,304.0 L903.0,305.5 L903.5,307.0 L903.9,308.5 L904.3,309.9 L904.6,311.4 L905.0,312.8 L905.4,314.3 L905.7,315.7 L906.1,317.2 L906.4,318.6 L906.7,320.1 L907.1,321.5 L907.4,322.9 L907.7,324.4 L908.1,325.8 L908.4,327.3 L908.8,328.7 L909.1,330.2 L909.4,331.6 L909.8,333.1 L910.1,334.5 L910.5,336.0 L910.8,337.5 L911.1,338.9 L911.5,340.4 L911.8,341.8 L912.2,343.3 L912.5,344.8 L912.8,346.2 L913.2,347.7 L913.5,349.2 L913.8,350.7 L914.1,352.1 L914.5,353.6 L914.8,355.1 L915.1,356.5 L915.4,358.0 L915.7,359.5 L916.1,361.0 L916.4,362.5 L916.7,363.9 L917.0,365.4 L917.3,366.9 L917.6,368.4 L917.9,369.9 L918.2,371.3 L918.4,372.8 L918.7,374.3 L919.0,375.8 L919.3,377.3 L919.5,378.8 L919.8,380.2 L920.1,381.7 L920.3,383.2 L920.6,384.7 L920.8,386.2 L921.1,387.7 L921.3,389.2 L921.5,390.7 L921.8,392.1 L922.0,393.6 L922.2,395.1 L922.4,396.6 L922.7,398.1 L922.9,399.6 L923.1,401.1 L923.3,402.6 L923.5,404.1 L923.7,405.6 L923.9,407.1 L924.1,408.5 L924.3,410.0 L924.5,411.5 L924.7,413.0 L924.9,414.5 L925.1,416.0 L925.3,417.5 L925.5,419.0 L925.7,420.5 L925.9,422.0 L926.1,423.5 L926.3,425.0 L926.5,426.5 L926.7,428.0 L926.8,429.4 L927.0,430.9 L927.2,432.4 L927.4,433.9 L927.6,435.4 L927.8,436.9 L928.0,438.4 L928.2,439.9 L928.4,441.4 L928.5,442.9 L928.7,444.4 L928.9,445.9 L929.1,447.4 L929.3,448.8 L929.5,450.3 L929.7,451.8 L929.9,453.3 L930.1,454.8 L930.3,456.3 L930.5,457.8 L930.7,459.3 L930.9,460.8 L931.2,462.3 L931.4,463.7 L931.6,465.2 L931.8,466.7 L932.0,468.2 L932.3,469.7 L932.5,471.2 L932.7,472.7 L932.9,474.1 L933.2,475.6 L933.4,477.1 L933.7,478.6 L933.9,480.1 L934.2,481.6 L934.4,483.0 L934.7,484.5 L935.0,486.0 L935.2,487.5 L935.5,489.0 L935.8,490.4 L936.1,491.9 L936.4,493.4 L936.7,494.9 L937.0,496.4 L937.3,497.8 L937.6,499.3 L937.9,500.8 L938.2,502.2 L938.5,503.7 L938.9,505.2 L939.2,506.7 L939.6,508.1 L939.9,509.6 L940.3,511.1 L940.6,512.5 L941.0,514.0" fill="none" stroke="#7E2F8E" stroke-width="13.9" stroke-linejoin="round" stroke-linecap="butt" stroke-dasharray="53.1 12 27 12.1" stroke-dashoffset="4.5"/>
<circle cx="941.0" cy="514.0" r="6.95" fill="#7E2F8E"/>
<path d="M941.0,514.0 L941.3,512.5 L941.6,511.1 L941.9,509.6 L942.2,508.1 L942.6,506.6 L942.9,505.2 L943.1,503.7 L943.4,502.2 L943.7,500.7 L944.0,499.2 L944.3,497.8 L944.6,496.3 L944.9,494.8 L945.2,493.3 L945.4,491.9 L945.7,490.4 L946.0,488.9 L946.3,487.4 L946.5,485.9 L946.8,484.5 L947.1,483.0 L947.3,481.5 L947.6,480.0 L947.9,478.5 L948.1,477.1 L948.4,475.6 L948.6,474.1 L948.9,472.6 L949.2,471.1 L949.4,469.7 L949.7,468.2 L949.9,466.7 L950.2,465.2 L950.4,463.7 L950.7,462.3 L950.9,460.8 L951.2,459.3 L951.4,457.8 L951.7,456.3 L951.9,454.9 L952.2,453.4 L952.4,451.9 L952.7,450.4 L952.9,448.9 L953.2,447.4 L953.4,446.0 L953.7,444.5 L953.9,443.0 L954.2,441.5 L954.4,440.0 L954.7,438.6 L954.9,437.1 L955.2,435.6 L955.4,434.1 L955.7,432.6 L955.9,431.2 L956.2,429.7 L956.4,428.2 L956.7,426.7 L957.0,425.2 L957.2,423.8 L957.5,422.3 L957.8,420.8 L958.0,419.3 L958.3,417.9 L958.6,416.4 L958.8,414.9 L959.1,413.4 L959.4,411.9 L959.7,410.5 L959.9,409.0 L960.2,407.5 L960.5,406.0 L960.8,404.6 L961.1,403.1 L961.4,401.6 L961.7,400.1 L962.0,398.7 L962.3,397.2 L962.6,395.7 L962.9,394.2 L963.2,392.8 L963.5,391.3 L963.8,389.8 L964.1,388.4 L964.4,386.9 L964.8,385.4 L965.1,383.9 L965.4,382.5 L965.7,381.0 L966.1,379.5 L966.4,378.1 L966.8,376.6 L967.1,375.1 L967.5,373.7 L967.8,372.2 L968.2,370.7 L968.6,369.3 L968.9,367.8 L969.3,366.3 L969.7,364.9 L970.1,363.4 L970.5,362.0 L970.9,360.5 L971.3,359.0 L971.7,357.6 L972.1,356.1 L972.5,354.7 L972.9,353.2 L973.4,351.8 L973.8,350.4 L974.3,348.9 L974.7,347.5 L975.2,346.0 L975.7,344.6 L976.2,343.2 L976.7,341.8 L977.2,340.3 L977.7,338.9 L978.2,337.5 L978.7,336.1 L979.3,334.7 L979.8,333.3 L980.4,331.9 L980.9,330.5 L981.5,329.1 L982.1,327.8 L982.7,326.4 L983.3,325.0 L984.0,323.7 L984.6,322.3 L985.3,320.9 L985.9,319.6 L986.6,318.3 L987.3,316.9 L988.0,315.6 L988.7,314.3 L989.4,313.0 L990.2,311.7 L990.9,310.4 L991.7,309.1 L992.5,307.8 L993.3,306.5 L994.1,305.3 L995.0,304.0 L995.8,302.8 L996.7,301.5 L997.6,300.3 L998.5,299.1 L999.4,298.0 L1000.4,296.8 L1001.4,295.7 L1002.4,294.6 L1003.4,293.5 L1004.5,292.5 L1005.6,291.4 L1006.7,290.4 L1007.8,289.5 L1009.0,288.5 L1010.2,287.6 L1011.5,286.8 L1012.7,286.0 L1014.0,285.2 L1015.4,284.4 L1016.7,283.7 L1018.1,283.1 L1019.5,282.4 L1020.9,281.9 L1022.4,281.3 L1023.8,280.8 L1025.3,280.4 L1026.8,280.0 L1028.3,279.6 L1029.8,279.3 L1031.3,279.0 L1032.8,278.8 L1034.3,278.6 L1035.9,278.5 L1037.4,278.4 L1038.9,278.4 L1040.4,278.4 L1041.9,278.5 L1043.3,278.6 L1044.8,278.8 L1046.3,279.1 L1047.7,279.3 L1049.1,279.7 L1050.5,280.1 L1051.9,280.6 L1053.3,281.1 L1054.6,281.6 L1056.0,282.2 L1057.3,282.9 L1058.6,283.5 L1059.9,284.2 L1061.2,285.0 L1062.4,285.8 L1063.7,286.6 L1064.9,287.4 L1066.2,288.3 L1067.4,289.2 L1068.6,290.1 L1069.8,291.0 L1071.0,292.0 L1072.2,292.9 L1073.3,293.9 L1074.5,294.9 L1075.6,295.9 L1076.8,296.9 L1077.9,297.9 L1079.1,298.9 L1080.2,299.9 L1081.3,300.9 L1082.4,301.9 L1083.5,303.0 L1084.7,304.0 L1085.8,305.0 L1086.9,306.1 L1087.9,307.1 L1089.0,308.2 L1090.1,309.2 L1091.2,310.2 L1092.3,311.3 L1093.4,312.4 L1094.4,313.4 L1095.5,314.5 L1096.6,315.5 L1097.7,316.6 L1098.7,317.6 L1099.8,318.7 L1100.9,319.8 L1101.9,320.8 L1103.0,321.9 L1104.1,322.9 L1105.1,324.0 L1106.2,325.0 L1107.3,326.1 L1108.4,327.1 L1109.4,328.2 L1110.5,329.2 L1111.6,330.2 L1112.7,331.3 L1113.8,332.3 L1114.9,333.3 L1116.0,334.3 L1117.1,335.3 L1118.2,336.4 L1119.3,337.4 L1120.4,338.3 L1121.5,339.3 L1122.6,340.3 L1123.8,341.3 L1124.9,342.3 L1126.0,343.2 L1127.2,344.2 L1128.3,345.1 L1129.5,346.1 L1130.7,347.0 L1131.8,348.0 L1133.0,348.9 L1134.2,349.8 L1135.4,350.7 L1136.6,351.7 L1137.8,352.6 L1139.0,353.5 L1140.2,354.4 L1141.4,355.3 L1142.6,356.2 L1143.8,357.1 L1145.1,358.0 L1146.3,358.9 L1147.5,359.7 L1148.8,360.6 L1150.0,361.5 L1151.3,362.4 L1152.5,363.2 L1153.8,364.1 L1155.1,364.9 L1156.4,365.7 L1157.7,366.6 L1159.0,367.4 L1160.2,368.2 L1161.6,369.0 L1162.9,369.7 L1164.2,370.5 L1165.5,371.2 L1166.8,372.0 L1168.2,372.7 L1169.5,373.4 L1170.9,374.1 L1172.2,374.7 L1173.6,375.4 L1174.9,376.0 L1176.3,376.6 L1177.7,377.2 L1179.1,377.8 L1180.5,378.3 L1181.9,378.9 L1183.3,379.4 L1184.7,379.8 L1186.1,380.3 L1187.5,380.7 L1189.0,381.1 L1190.4,381.5 L1191.9,381.8 L1193.3,382.1 L1194.8,382.4 L1196.2,382.7 L1197.7,382.9 L1199.2,383.1 L1200.7,383.3 L1202.2,383.4 L1203.7,383.6 L1205.2,383.6 L1206.7,383.7 L1208.2,383.7 L1209.7,383.7 L1211.2,383.7 L1212.7,383.7 L1214.2,383.6 L1215.7,383.5 L1217.2,383.3 L1218.7,383.2 L1220.2,383.0 L1221.7,382.8 L1223.2,382.5 L1224.7,382.3 L1226.2,382.0 L1227.7,381.7 L1229.2,381.3 L1230.6,381.0 L1232.1,380.6 L1233.5,380.2 L1235.0,379.7 L1236.4,379.3 L1237.8,378.8 L1239.3,378.3 L1240.7,377.7 L1242.1,377.2 L1243.5,376.6 L1244.8,376.0 L1246.2,375.4 L1247.6,374.8 L1248.9,374.1 L1250.2,373.4 L1251.6,372.8 L1252.9,372.1 L1254.2,371.3 L1255.5,370.6 L1256.9,369.9 L1258.2,369.1 L1259.5,368.4 L1260.8,367.6 L1262.1,366.9 L1263.4,366.1 L1264.6,365.3 L1265.9,364.5 L1267.2,363.7 L1268.5,362.9 L1269.8,362.2 L1271.1,361.4 L1272.4,360.6 L1273.7,359.8 L1274.9,359.0 L1276.2,358.2 L1277.5,357.4 L1278.8,356.6 L1280.1,355.8 L1281.4,355.0 L1282.7,354.2 L1283.9,353.4 L1285.2,352.6 L1286.5,351.8 L1287.8,351.0 L1289.1,350.2 L1290.4,349.4 L1291.7,348.6 L1293.0,347.8 L1294.3,347.0 L1295.6,346.2 L1296.9,345.5 L1298.2,344.7 L1299.5,343.9 L1300.8,343.2 L1302.1,342.4 L1303.4,341.7 L1304.7,340.9 L1306.0,340.2 L1307.3,339.4 L1308.6,338.7 L1310.0,338.0 L1311.3,337.3 L1312.6,336.6 L1313.9,335.9 L1315.3,335.2 L1316.6,334.5 L1317.9,333.9 L1319.3,333.2 L1320.6,332.5 L1322.0,331.9 L1323.3,331.2 L1324.7,330.6 L1326.0,330.0 L1327.4,329.4 L1328.8,328.8 L1330.1,328.2 L1331.5,327.6 L1332.9,327.0 L1334.3,326.4 L1335.6,325.8 L1337.0,325.2 L1338.4,324.7 L1339.8,324.1 L1341.2,323.6 L1342.6,323.0 L1344.0,322.5 L1345.4,321.9 L1346.8,321.4 L1348.2,320.9 L1349.6,320.3 L1351.0,319.8 L1352.4,319.3 L1353.8,318.8 L1355.2,318.3 L1356.6,317.8 L1358.0,317.3 L1359.4,316.8 L1360.9,316.3 L1362.3,315.8 L1363.7,315.3 L1365.1,314.9 L1366.5,314.4 L1368.0,313.9 L1369.4,313.5 L1370.8,313.0 L1372.3,312.5 L1373.7,312.1 L1375.1,311.6 L1376.6,311.1 L1378.0,310.7 L1379.4,310.2 L1380.9,309.8 L1382.3,309.3 L1383.7,308.9 L1385.2,308.4 L1386.6,308.0 L1388.1,307.5 L1389.5,307.1 L1390.9,306.6 L1392.4,306.2 L1393.8,305.7 L1395.3,305.3 L1396.7,304.8 L1398.2,304.4 L1399.6,303.9 L1401.1,303.5 L1402.5,303.0 L1403.9,302.6 L1405.4,302.1 L1406.8,301.7 L1408.3,301.2 L1409.7,300.7 L1411.1,300.3 L1412.6,299.8 L1414.0,299.3 L1415.4,298.9 L1416.9,298.4 L1418.3,297.9 L1419.7,297.4 L1421.2,296.9 L1422.6,296.4 L1424.0,295.9 L1425.4,295.4 L1426.8,294.8 L1428.2,294.3 L1429.6,293.8 L1431.0,293.2 L1432.4,292.7 L1433.8,292.1 L1435.2,291.5 L1436.6,291.0 L1438.0,290.4 L1439.4,289.8 L1440.8,289.2 L1442.1,288.6 L1443.5,288.0 L1444.9,287.3 L1446.2,286.7 L1447.6,286.1 L1448.9,285.4 L1450.3,284.7 L1451.6,284.1 L1452.9,283.4 L1454.3,282.7 L1455.6,282.0 L1456.9,281.3 L1458.3,280.6 L1459.6,279.9 L1460.9,279.2 L1462.2,278.5 L1463.5,277.7 L1464.8,277.0 L1466.1,276.2 L1467.4,275.5 L1468.7,274.7 L1470.0,273.9 L1471.3,273.2 L1472.6,272.4 L1473.8,271.6 L1475.1,270.8 L1476.4,270.0 L1477.6,269.2 L1478.9,268.4 L1480.2,267.6 L1481.4,266.7 L1482.7,265.9 L1483.9,265.1 L1485.2,264.2 L1486.4,263.4 L1487.6,262.5 L1488.9,261.7 L1490.1,260.8 L1491.3,259.9 L1492.6,259.0 L1493.8,258.2 L1495.0,257.3 L1496.2,256.4 L1497.4,255.5 L1498.6,254.6 L1499.8,253.7 L1501.0,252.8 L1502.2,251.9 L1503.4,251.0 L1504.6,250.0 L1505.8,249.1 L1507.0,248.2 L1508.2,247.2 L1509.4,246.3 L1510.5,245.4 L1511.7,244.4 L1512.9,243.5 L1514.0,242.5 L1515.2,241.6 L1516.4,240.6 L1517.5,239.6 L1518.7,238.7 L1519.8,237.7 L1521.0,236.8 L1522.2,235.8 L1523.3,234.8 L1524.5,233.8 L1525.6,232.9 L1526.8,231.9 L1527.9,230.9 L1529.1,230.0 L1530.2,229.0 L1531.3,228.0 L1532.5,227.0 L1533.6,226.1 L1534.8,225.1 L1536.0,224.1 L1537.1,223.2 L1538.3,222.2 L1539.4,221.2 L1540.6,220.3 L1541.7,219.3 L1542.9,218.4 L1544.1,217.4 L1545.2,216.5 L1546.4,215.5 L1547.6,214.6 L1548.7,213.6 L1549.9,212.7 L1551.1,211.8 L1552.3,210.8 L1553.5,209.9 L1554.7,209.0 L1555.8,208.1 L1557.0,207.2 L1558.3,206.3 L1559.5,205.4 L1560.7,204.5 L1561.9,203.7 L1563.1,202.8 L1564.4,201.9 L1565.6,201.1 L1566.8,200.2 L1568.1,199.4 L1569.3,198.6 L1570.6,197.8 L1571.9,196.9 L1573.1,196.1 L1574.4,195.3 L1575.7,194.5 L1576.9,193.7 L1578.2,192.9 L1579.5,192.2 L1580.8,191.4 L1582.1,190.6 L1583.4,189.9 L1584.7,189.1 L1586.0,188.4 L1587.3,187.6 L1588.7,186.9 L1590.0,186.2 L1591.3,185.4 L1592.6,184.7 L1594.0,184.0 L1595.3,183.3 L1596.6,182.6 L1598.0,181.9 L1599.3,181.2 L1600.7,180.5 L1602.0,179.8 L1603.4,179.2 L1604.7,178.5 L1606.1,177.8 L1607.4,177.2 L1608.8,176.5 L1610.2,175.9 L1611.5,175.2 L1612.9,174.6 L1614.3,174.0 L1615.6,173.3 L1617.0,172.7 L1618.4,172.1 L1619.8,171.5 L1621.1,170.9 L1622.5,170.3 L1623.9,169.7 L1625.3,169.1 L1626.7,168.5 L1628.1,167.9 L1629.5,167.3 L1630.9,166.8 L1632.2,166.2 L1633.6,165.6 L1635.0,165.1 L1636.4,164.5 L1637.8,163.9 L1639.2,163.4 L1640.6,162.8 L1642.0,162.3 L1643.4,161.8 L1644.8,161.2 L1646.2,160.7 L1647.6,160.2 L1649.0,159.6 L1650.4,159.1 L1651.8,158.6" fill="none" stroke="#7E2F8E" stroke-width="13.9" stroke-linejoin="round" stroke-linecap="butt" stroke-dasharray="53.1 12 27 12.1" stroke-dashoffset="59.3"/>
<path d="M238.5,116.0 L239.4,117.3 L240.3,118.6 L241.1,119.9 L241.9,121.2 L242.6,122.6 L243.3,123.9 L244.0,125.3 L244.7,126.6 L245.3,128.0 L245.9,129.4 L246.5,130.8 L247.1,132.2 L247.6,133.6 L248.1,135.0 L248.6,136.4 L249.1,137.8 L249.5,139.3 L250.0,140.7 L250.4,142.1 L250.8,143.6 L251.2,145.0 L251.6,146.5 L251.9,147.9 L252.3,149.4 L252.6,150.8 L253.0,152.3 L253.3,153.7 L253.6,155.2 L253.9,156.7 L254.3,158.1 L254.6,159.6 L254.9,161.1 L255.2,162.6 L255.5,164.0 L255.8,165.5 L256.2,167.0 L256.5,168.4 L256.8,169.9 L257.2,171.4 L257.5,172.8 L257.9,174.3 L258.2,175.7 L258.6,177.2 L259.0,178.6 L259.4,180.1 L259.8,181.5 L260.3,183.0 L260.7,184.4 L261.1,185.8 L261.6,187.3 L262.0,188.7 L262.4,190.2 L262.9,191.6 L263.3,193.0 L263.7,194.5 L264.1,195.9 L264.6,197.4 L265.0,198.8 L265.4,200.3 L265.8,201.7 L266.2,203.1 L266.6,204.6 L267.0,206.0 L267.4,207.5 L267.8,208.9 L268.2,210.4 L268.6,211.8 L268.9,213.3 L269.3,214.8 L269.7,216.2 L270.0,217.7 L270.4,219.1 L270.7,220.6 L271.1,222.0 L271.4,223.5 L271.7,225.0 L272.0,226.4 L272.3,227.9 L272.7,229.4 L273.0,230.8 L273.2,232.3 L273.5,233.8 L273.8,235.3 L274.1,236.7 L274.3,238.2 L274.6,239.7 L274.9,241.2 L275.1,242.7 L275.4,244.1 L275.6,245.6 L275.8,247.1 L276.1,248.6 L276.3,250.1 L276.5,251.6 L276.7,253.1 L276.9,254.5 L277.1,256.0 L277.4,257.5 L277.6,259.0 L277.8,260.5 L277.9,262.0 L278.1,263.5 L278.3,265.0 L278.5,266.5 L278.7,268.0 L278.9,269.4 L279.1,270.9 L279.3,272.4 L279.5,273.9 L279.6,275.4 L279.8,276.9 L280.0,278.4 L280.2,279.9 L280.4,281.4 L280.5,282.9 L280.7,284.4 L280.9,285.9 L281.1,287.4 L281.3,288.9 L281.4,290.4 L281.6,291.8 L281.8,293.3 L282.0,294.8 L282.2,296.3 L282.3,297.8 L282.5,299.3 L282.7,300.8 L282.9,302.3 L283.1,303.8 L283.2,305.3 L283.4,306.8 L283.6,308.3 L283.8,309.8 L284.0,311.2 L284.1,312.7 L284.3,314.2 L284.5,315.7 L284.7,317.2 L284.8,318.7 L285.0,320.2 L285.2,321.7 L285.4,323.2 L285.6,324.7 L285.7,326.2 L285.9,327.7 L286.1,329.1 L286.3,330.6 L286.4,332.1 L286.6,333.6 L286.8,335.1 L287.0,336.6 L287.1,338.1 L287.3,339.6 L287.5,341.1 L287.6,342.6 L287.8,344.1 L288.0,345.6 L288.2,347.0 L288.3,348.5 L288.5,350.0 L288.7,351.5 L288.8,353.0 L289.0,354.5 L289.2,356.0 L289.3,357.5 L289.5,359.0 L289.7,360.5 L289.8,362.0 L290.0,363.5 L290.2,364.9 L290.3,366.4 L290.5,367.9 L290.6,369.4 L290.8,370.9 L291.0,372.4 L291.1,373.9 L291.3,375.4 L291.4,376.9 L291.6,378.4 L291.7,379.9 L291.9,381.4 L292.1,382.9 L292.2,384.4 L292.4,385.8 L292.5,387.3 L292.7,388.8 L292.8,390.3 L293.0,391.8 L293.1,393.3 L293.3,394.8 L293.4,396.3 L293.6,397.8 L293.7,399.3 L293.8,400.8 L294.0,402.3 L294.1,403.8 L294.3,405.3 L294.4,406.8 L294.6,408.3 L294.7,409.8 L294.8,411.3 L295.0,412.8 L295.1,414.2 L295.2,415.7 L295.4,417.2 L295.5,418.7 L295.6,420.2 L295.8,421.7 L295.9,423.2 L296.0,424.7 L296.1,426.2 L296.3,427.7 L296.4,429.2 L296.5,430.7 L296.6,432.2 L296.8,433.7 L296.9,435.2 L297.0,436.7 L297.1,438.2 L297.2,439.7 L297.3,441.2 L297.5,442.7 L297.6,444.2 L297.7,445.7 L297.8,447.2 L297.9,448.7 L298.0,450.2 L298.1,451.7 L298.2,453.2 L298.3,454.7 L298.4,456.2 L298.5,457.7 L298.6,459.2 L298.7,460.7 L298.8,462.2 L298.9,463.7 L299.0,465.2 L299.1,466.7 L299.3,468.2 L299.4,469.7 L299.6,471.2 L299.7,472.7 L299.9,474.2 L300.2,475.7 L300.4,477.2 L300.7,478.7 L301.1,480.2 L301.4,481.7 L301.9,483.2 L302.3,484.7 L302.8,486.2 L303.4,487.6 L304.0,488.6 L304.6,489.0 L305.2,488.7 L305.8,487.9 L306.3,486.6 L306.8,485.1 L307.2,483.6 L307.5,482.1 L307.8,480.5 L308.0,478.9 L308.2,477.2 L308.3,475.6 L308.5,474.0 L308.7,472.5 L308.9,470.9 L309.1,469.4 L309.2,467.9 L309.4,466.4 L309.6,464.9 L309.8,463.4 L310.0,461.9 L310.1,460.5 L310.3,459.0 L310.5,457.5 L310.7,456.0 L310.8,454.6 L311.0,453.1 L311.2,451.6 L311.4,450.1 L311.5,448.7 L311.7,447.2 L311.9,445.7 L312.0,444.2 L312.2,442.7 L312.3,441.3 L312.5,439.8 L312.7,438.3 L312.8,436.8 L313.0,435.3 L313.1,433.8 L313.3,432.3 L313.4,430.8 L313.6,429.4 L313.8,427.9 L313.9,426.4 L314.1,424.9 L314.2,423.4 L314.4,421.9 L314.5,420.4 L314.7,418.9 L314.8,417.4 L315.0,415.9 L315.1,414.4 L315.3,412.9 L315.4,411.4 L315.6,409.9 L315.7,408.5 L315.8,407.0 L316.0,405.5 L316.1,404.0 L316.3,402.5 L316.4,401.0 L316.6,399.5 L316.7,398.0 L316.9,396.5 L317.0,395.0 L317.2,393.5 L317.3,392.0 L317.5,390.5 L317.6,389.0 L317.8,387.5 L317.9,386.0 L318.1,384.5 L318.2,383.0 L318.4,381.5 L318.5,380.0 L318.7,378.5 L318.8,377.0 L319.0,375.5 L319.1,374.0 L319.3,372.5 L319.5,371.0 L319.6,369.5 L319.8,368.0 L319.9,366.5 L320.1,365.0 L320.3,363.5 L320.4,362.0 L320.6,360.5 L320.7,359.0 L320.9,357.5 L321.1,356.0 L321.2,354.5 L321.4,353.0 L321.6,351.5 L321.8,350.0 L321.9,348.5 L322.1,347.0 L322.3,345.5 L322.5,344.1 L322.6,342.6 L322.8,341.1 L323.0,339.6 L323.2,338.1 L323.4,336.6 L323.6,335.1 L323.8,333.6 L324.0,332.1 L324.2,330.6 L324.4,329.1 L324.6,327.7 L324.8,326.2 L325.0,324.7 L325.2,323.2 L325.4,321.7 L325.6,320.2 L325.8,318.8 L326.0,317.3 L326.2,315.8 L326.4,314.3 L326.7,312.8 L326.9,311.3 L327.1,309.9 L327.3,308.4 L327.6,306.9 L327.8,305.4 L328.0,303.9 L328.3,302.5 L328.5,301.0 L328.7,299.5 L329.0,298.0 L329.2,296.6 L329.5,295.1 L329.7,293.6 L330.0,292.1 L330.2,290.7 L330.5,289.2 L330.7,287.7 L331.0,286.2 L331.3,284.8 L331.5,283.3 L331.8,281.8 L332.1,280.4 L332.3,278.9 L332.6,277.4 L332.9,275.9 L333.2,274.5 L333.5,273.0 L333.7,271.5 L334.0,270.1 L334.3,268.6 L334.6,267.1 L334.9,265.7 L335.2,264.2 L335.5,262.7 L335.8,261.2 L336.1,259.8 L336.4,258.3 L336.7,256.8 L337.0,255.4 L337.4,253.9 L337.7,252.4 L338.0,251.0 L338.3,249.5 L338.6,248.0 L339.0,246.6 L339.3,245.1 L339.6,243.6 L340.0,242.2 L340.3,240.7 L340.7,239.2 L341.0,237.8 L341.3,236.3 L341.7,234.8 L342.1,233.4 L342.4,231.9 L342.8,230.4 L343.1,229.0 L343.5,227.5 L343.9,226.0 L344.2,224.5 L344.6,223.1 L345.0,221.6 L345.3,220.1 L345.7,218.7 L346.1,217.2 L346.5,215.7 L346.9,214.3 L347.2,212.8 L347.6,211.4 L348.0,209.9 L348.4,208.4 L348.8,207.0 L349.1,205.5 L349.5,204.0 L349.9,202.6 L350.3,201.1 L350.7,199.7 L351.0,198.2 L351.4,196.8 L351.8,195.3 L352.2,193.9 L352.6,192.4 L352.9,191.0 L353.3,189.5 L353.7,188.1 L354.1,186.6 L354.4,185.2 L354.8,183.7 L355.2,182.3 L355.6,180.8 L355.9,179.4 L356.3,177.9 L356.7,176.5 L357.1,175.1 L357.4,173.6 L357.8,172.2 L358.2,170.7 L358.6,169.3 L358.9,167.8 L359.3,166.4 L359.7,165.0 L360.0,163.5 L360.4,162.1 L360.8,160.6 L361.2,159.2 L361.5,157.7 L361.9,156.3 L362.3,154.9 L362.6,153.4 L363.0,152.0 L363.4,150.5 L363.7,149.1 L364.1,147.6 L364.5,146.2 L364.8,144.7 L365.2,143.3 L365.6,141.8 L366.0,140.4 L366.3,138.9 L366.7,137.5 L367.1,136.0 L367.4,134.6 L367.8,133.1 L368.2,131.7 L368.5,130.2 L368.9,128.8 L369.2,127.3 L369.6,125.9 L370.0,124.4 L370.3,122.9 L370.7,121.5 L371.1,120.0 L371.4,118.6 L371.8,117.1 L372.2,115.6 L372.5,114.1 L372.9,112.7 L373.3,111.2 L373.6,109.7 L374.0,108.3 L374.4,106.8 L374.7,105.3 L375.1,103.8 L375.4,102.3 L375.8,100.9 L376.2,99.4 L376.5,97.9 L376.9,96.4 L377.3,94.9 L377.6,93.4 L378.0,91.9 L378.4,90.4 L378.7,88.9 L379.1,87.4 L379.4,85.9 L379.8,84.4 L380.2,82.9 L380.6,81.5 L381.1,80.0 L381.5,78.6 L382.0,77.2 L382.5,75.8 L383.0,74.4 L383.6,73.1 L384.2,71.8 L384.9,70.6 L385.6,69.4 L386.4,68.2 L387.2,67.2 L388.1,66.3 L389.0,65.9 L389.9,66.0 L390.9,66.6 L391.7,67.5 L392.5,68.7 L393.2,70.2 L393.8,71.8 L394.4,73.4 L394.9,75.2 L395.3,76.8 L395.7,78.5 L396.0,80.1 L396.3,81.7 L396.6,83.2 L396.8,84.8 L397.0,86.3 L397.1,87.8 L397.3,89.2 L397.4,90.7 L397.6,92.2 L397.8,93.7 L397.9,95.2 L398.1,96.7 L398.2,98.1 L398.4,99.6 L398.5,101.1 L398.7,102.6 L398.8,104.1 L399.0,105.6 L399.1,107.1 L399.3,108.5 L399.4,110.0 L399.6,111.5 L399.7,113.0 L399.9,114.5 L400.0,116.0 L400.1,117.5 L400.3,119.0 L400.4,120.4 L400.6,121.9 L400.7,123.4 L400.9,124.9 L401.0,126.4 L401.2,127.9 L401.3,129.4 L401.4,130.9 L401.6,132.3 L401.7,133.8 L401.9,135.3 L402.0,136.8 L402.1,138.3 L402.3,139.8 L402.4,141.3 L402.6,142.8 L402.7,144.3 L402.8,145.8 L403.0,147.2 L403.1,148.7 L403.2,150.2 L403.4,151.7 L403.5,153.2 L403.6,154.7 L403.8,156.2 L403.9,157.7 L404.0,159.2 L404.2,160.7 L404.3,162.2 L404.4,163.7 L404.6,165.1 L404.7,166.6 L404.8,168.1 L405.0,169.6 L405.1,171.1 L405.2,172.6 L405.3,174.1 L405.5,175.6 L405.6,177.1 L405.7,178.6 L405.9,180.1 L406.0,181.6 L406.1,183.1 L406.2,184.6 L406.4,186.1 L406.5,187.6 L406.6,189.0 L406.7,190.5 L406.9,192.0 L407.0,193.5 L407.1,195.0 L407.2,196.5 L407.3,198.0 L407.5,199.5 L407.6,201.0 L407.7,202.5 L407.8,204.0 L407.9,205.5 L408.1,207.0 L408.2,208.5 L408.3,210.0 L408.4,211.5 L408.5,213.0 L408.7,214.5 L408.8,216.0 L408.9,217.5 L409.0,219.0 L409.1,220.5 L409.2,222.0 L409.4,223.5 L409.5,225.0 L409.6,226.5 L409.7,228.0 L409.8,229.5 L409.9,231.0 L410.0,232.5 L410.1,234.0 L410.3,235.5 L410.4,237.0 L410.5,238.4 L410.6,239.9 L410.7,241.4 L410.8,242.9 L410.9,244.4 L411.0,245.9 L411.1,247.4 L411.3,248.9 L411.4,250.4 L411.5,251.9 L411.6,253.4 L411.7,254.9 L411.8,256.4 L411.9,257.9 L412.0,259.4 L412.1,260.9 L412.2,262.4 L412.3,263.9 L412.4,265.4 L412.5,266.9 L412.6,268.4 L412.7,269.9 L412.8,271.4 L412.9,272.9 L413.0,274.4 L413.1,275.9 L413.2,277.4 L413.3,278.9 L413.4,280.4 L413.5,281.9 L413.6,283.4 L413.7,284.9 L413.8,286.4 L413.9,287.9 L414.0,289.4 L414.1,290.9 L414.2,292.4 L414.3,293.9 L414.4,295.4 L414.5,296.9 L414.6,298.4 L414.7,299.9 L414.8,301.4 L414.9,302.9 L415.0,304.4 L415.1,305.9 L415.2,307.4 L415.3,308.9 L415.4,310.5 L415.5,312.0 L415.6,313.5 L415.7,315.0 L415.8,316.5 L415.9,318.0 L416.0,319.5 L416.1,321.0 L416.1,322.5 L416.2,324.0 L416.3,325.5 L416.4,327.0 L416.5,328.5 L416.6,330.0 L416.7,331.5 L416.8,333.0 L416.9,334.5 L417.0,336.0 L417.1,337.5 L417.1,339.0 L417.2,340.5 L417.3,342.0 L417.4,343.5 L417.5,345.0 L417.6,346.5 L417.7,348.0 L417.8,349.5 L417.8,351.0 L417.9,352.5 L418.0,354.0 L418.1,355.5 L418.2,357.0 L418.3,358.5 L418.4,360.0 L418.4,361.5 L418.5,363.0 L418.6,364.5 L418.7,366.0 L418.8,367.5 L418.9,369.0 L418.9,370.5 L419.0,372.0 L419.1,373.5 L419.2,375.0 L419.3,376.5 L419.3,378.0 L419.4,379.5 L419.5,381.0 L419.6,382.5 L419.7,384.0 L419.8,385.5 L419.8,387.0 L419.9,388.5 L420.0,390.0 L420.1,391.5 L420.1,393.0 L420.2,394.5 L420.3,396.0 L420.4,397.5 L420.5,399.0 L420.5,400.5 L420.6,402.0 L420.7,403.5 L420.8,405.0 L420.8,406.5 L420.9,408.0 L421.0,409.5 L421.1,411.0 L421.1,412.5 L421.2,414.0 L421.3,415.5 L421.4,417.0 L421.4,418.5 L421.5,420.0 L421.6,421.5 L421.7,423.0 L421.7,424.5 L421.8,426.0 L421.9,427.5 L422.0,429.0 L422.0,430.5 L422.1,432.0 L422.2,433.5 L422.2,435.0 L422.3,436.5 L422.4,438.0 L422.4,439.5 L422.5,441.0 L422.6,442.5 L422.7,444.0 L422.7,445.5 L422.8,447.0 L422.9,448.5 L422.9,450.0 L423.0,451.5 L423.1,453.0 L423.1,454.5 L423.2,456.0 L423.3,457.5 L423.3,459.0 L423.4,460.5 L423.5,462.0 L423.5,463.5 L423.6,465.0 L423.7,466.5 L423.7,468.0 L423.8,469.5 L423.9,471.0 L423.9,472.5 L424.0,474.0 L424.1,475.5 L424.1,477.0 L424.2,478.5 L424.2,480.0 L424.3,481.5 L424.4,483.0 L424.4,484.5 L424.5,486.0 L424.6,487.5 L424.6,489.0 L424.7,490.5 L424.7,492.0 L424.8,493.5 L424.9,495.0 L424.9,496.5 L425.0,498.0 L425.0,499.5 L425.1,501.0 L425.2,502.5 L425.2,504.0 L425.3,505.5 L425.3,507.0 L425.4,508.5 L425.5,510.0 L425.5,511.5 L425.6,513.0 L425.6,514.5 L425.7,516.0 L425.7,517.5 L425.8,519.0 L425.9,520.5 L425.9,522.1 L426.0,523.6 L426.0,525.1 L426.1,526.6 L426.1,528.1 L426.2,529.6 L426.2,531.1 L426.3,532.6 L426.4,534.1 L426.4,535.6 L426.5,537.1 L426.5,538.6 L426.6,540.1 L426.6,541.6 L426.7,543.1 L426.7,544.6 L426.8,546.1 L426.8,547.6 L426.9,549.1 L426.9,550.6 L427.0,552.1 L427.0,553.6 L427.1,555.1 L427.1,556.6 L427.2,558.1 L427.2,559.6 L427.3,561.1 L427.3,562.6 L427.4,564.1 L427.4,565.6 L427.5,567.1 L427.5,568.6 L427.6,570.1 L427.6,571.6 L427.7,573.1 L427.7,574.6 L427.8,576.1 L427.8,577.6 L427.9,579.1 L427.9,580.6 L428.0,582.1 L428.0,583.6 L428.1,585.1 L428.1,586.6 L428.1,588.1 L428.2,589.6 L428.2,591.1 L428.3,592.6 L428.3,594.1 L428.4,595.6 L428.4,597.1 L428.5,598.6 L428.5,600.1 L428.5,601.6 L428.6,603.1 L428.6,604.6 L428.7,606.1 L428.7,607.6 L428.8,609.1 L428.8,610.6 L428.8,612.1 L428.9,613.6 L428.9,615.1 L429.0,616.6 L429.0,618.1 L429.1,619.6 L429.1,621.1 L429.1,622.6 L429.2,624.1 L429.2,625.6 L429.3,627.1 L429.3,628.6 L429.3,630.1 L429.4,631.6 L429.4,633.1 L429.5,634.6 L429.5,636.1 L429.5,637.6 L429.6,639.1 L429.6,640.6 L429.6,642.1 L429.7,643.6 L429.7,645.1 L429.8,646.6 L429.8,648.1 L429.8,649.6 L429.9,651.1 L429.9,652.6 L429.9,654.1 L430.0,655.6 L430.0,657.1 L430.0,658.6 L430.1,660.1 L430.1,661.6 L430.1,663.1 L430.2,664.6 L430.2,666.1 L430.3,667.6 L430.3,669.1 L430.3,670.6 L430.4,672.1 L430.4,673.6 L430.4,675.1 L430.5,676.7 L430.5,678.2 L430.5,679.7 L430.5,681.2 L430.6,682.7 L430.6,684.2 L430.6,685.7 L430.7,687.2 L430.7,688.7 L430.7,690.2 L430.8,691.7 L430.8,693.2 L430.8,694.7 L430.9,696.2 L430.9,697.7 L430.9,699.2 L431.0,700.7 L431.0,702.2 L431.0,703.7 L431.0,705.2 L431.1,706.7 L431.1,708.2 L431.1,709.7 L431.2,711.2 L431.2,712.7 L431.2,714.2 L431.2,715.7 L431.3,717.2 L431.3,718.7 L431.3,720.2 L431.3,721.7 L431.4,723.2 L431.4,724.7 L431.4,726.2 L431.5,727.7 L431.5,729.2 L431.5,730.7 L431.5,732.2 L431.6,733.7 L431.6,735.2 L431.6,736.7 L431.6,738.2 L431.7,739.7 L431.7,741.2 L431.7,742.7 L431.7,744.2 L431.8,745.7 L431.8,747.2 L431.8,748.7 L431.8,750.2 L431.8,751.7 L431.9,753.2 L431.9,754.7 L431.9,756.2 L431.9,757.7 L432.0,759.2 L432.0,760.7 L432.0,762.2 L432.0,763.8 L432.0,765.3 L432.1,766.8 L432.1,768.3 L432.1,769.8 L432.1,771.3 L432.2,772.8 L432.2,774.3 L432.2,775.8 L432.2,777.3 L432.2,778.8 L432.3,780.3 L432.3,781.8 L432.3,783.3 L432.3,784.8 L432.3,786.3 L432.3,787.8 L432.4,789.3 L432.4,790.8 L432.4,792.3 L432.4,793.8 L432.4,795.3 L432.5,796.8 L432.5,798.3 L432.5,799.8 L432.5,801.3 L432.5,802.8 L432.5,804.3 L432.6,805.8 L432.6,807.3 L432.6,808.8 L432.6,810.3 L432.6,811.8 L432.6,813.3 L432.7,814.8 L432.7,816.3 L432.7,817.8 L432.7,819.3 L432.7,820.8 L432.7,822.3 L432.7,823.8 L432.8,825.4 L432.8,826.9 L432.8,828.4 L432.8,829.9 L432.8,831.4 L432.8,832.9 L432.8,834.4 L432.9,835.9 L432.9,837.4 L432.9,838.9 L432.9,840.4 L432.9,841.9 L432.9,843.4 L432.9,844.9 L432.9,846.4 L433.0,847.9 L433.0,849.4 L433.0,850.9 L433.0,852.4 L433.0,853.9 L433.0,855.4 L433.0,856.9 L433.0,858.4 L433.1,859.9 L433.1,861.4 L433.1,862.9 L433.1,864.4 L433.1,865.9 L433.1,867.4 L433.1,868.9 L433.1,870.4 L433.1,871.9 L433.1,873.5 L433.2,875.0 L433.2,876.5 L433.2,878.0 L433.2,879.5 L433.2,881.0 L433.2,882.5 L433.2,884.0 L433.2,885.5 L433.2,887.0 L433.2,888.5 L433.2,890.0 L433.2,891.5 L433.2,893.0 L433.3,891.5 L433.3,890.0 L433.3,888.5 L433.4,887.0 L433.4,885.5 L433.4,884.0 L433.4,882.4 L433.5,880.9 L433.5,879.4 L433.5,877.9 L433.6,876.4 L433.6,874.9 L433.6,873.4 L433.6,871.9 L433.7,870.4 L433.7,868.9 L433.7,867.4 L433.7,865.9 L433.8,864.4 L433.8,862.9 L433.8,861.4 L433.8,859.8 L433.9,858.3 L433.9,856.8 L433.9,855.3 L433.9,853.8 L434.0,852.3 L434.0,850.8 L434.0,849.3 L434.0,847.8 L434.1,846.3 L434.1,844.8 L434.1,843.3 L434.1,841.8 L434.2,840.3 L434.2,838.8 L434.2,837.3 L434.2,835.8 L434.3,834.3 L434.3,832.8 L434.3,831.3 L434.3,829.8 L434.4,828.3 L434.4,826.8 L434.4,825.3 L434.4,823.7 L434.5,822.2 L434.5,820.7 L434.5,819.2 L434.5,817.7 L434.6,816.2 L434.6,814.7 L434.6,813.2 L434.6,811.7 L434.7,810.2 L434.7,808.7 L434.7,807.2 L434.7,805.7 L434.8,804.2 L434.8,802.7 L434.8,801.2 L434.8,799.7 L434.9,798.2 L434.9,796.7 L434.9,795.2 L435.0,793.7 L435.0,792.2 L435.0,790.7 L435.0,789.2 L435.1,787.7 L435.1,786.2 L435.1,784.7 L435.1,783.2 L435.2,781.7 L435.2,780.2 L435.2,778.7 L435.3,777.2 L435.3,775.7 L435.3,774.2 L435.3,772.7 L435.4,771.2 L435.4,769.7 L435.4,768.2 L435.5,766.7 L435.5,765.2 L435.5,763.7 L435.6,762.2 L435.6,760.7 L435.6,759.2 L435.7,757.7 L435.7,756.2 L435.7,754.7 L435.7,753.2 L435.8,751.7 L435.8,750.2 L435.8,748.7 L435.9,747.2 L435.9,745.7 L435.9,744.2 L436.0,742.7 L436.0,741.2 L436.1,739.7 L436.1,738.2 L436.1,736.7 L436.2,735.2 L436.2,733.7 L436.2,732.2 L436.3,730.7 L436.3,729.2 L436.3,727.7 L436.4,726.2 L436.4,724.7 L436.5,723.2 L436.5,721.7 L436.5,720.2 L436.6,718.7 L436.6,717.2 L436.7,715.7 L436.7,714.2 L436.7,712.7 L436.8,711.2 L436.8,709.7 L436.9,708.2 L436.9,706.8 L437.0,705.3 L437.0,703.8 L437.1,702.3 L437.1,700.8 L437.1,699.3 L437.2,697.8 L437.2,696.3 L437.3,694.8 L437.3,693.3 L437.4,691.8 L437.4,690.3 L437.5,688.8 L437.5,687.3 L437.6,685.8 L437.6,684.3 L437.7,682.8 L437.7,681.3 L437.8,679.8 L437.8,678.3 L437.9,676.8 L437.9,675.3 L438.0,673.8 L438.1,672.3 L438.1,670.8 L438.2,669.3 L438.2,667.8 L438.3,666.3 L438.3,664.8 L438.4,663.3 L438.5,661.8 L438.5,660.3 L438.6,658.8 L438.6,657.3 L438.7,655.8 L438.8,654.3 L438.8,652.8 L438.9,651.3 L438.9,649.8 L439.0,648.3 L439.1,646.8 L439.1,645.3 L439.2,643.8 L439.3,642.3 L439.3,640.8 L439.4,639.4 L439.5,637.9 L439.5,636.4 L439.6,634.9 L439.7,633.4 L439.8,631.9 L439.8,630.4 L439.9,628.9 L440.0,627.4 L440.1,625.9 L440.1,624.4 L440.2,622.9 L440.3,621.4 L440.4,619.9 L440.4,618.4 L440.5,616.9 L440.6,615.4 L440.7,613.9 L440.8,612.4 L440.8,610.9 L440.9,609.4 L441.0,607.9 L441.1,606.4 L441.2,604.9 L441.3,603.4 L441.3,601.9 L441.4,600.4 L441.5,598.9 L441.6,597.4 L441.7,595.9 L441.8,594.4 L441.9,592.9 L442.0,591.4 L442.1,589.9 L442.2,588.4 L442.3,586.9 L442.4,585.4 L442.4,583.9 L442.5,582.4 L442.6,580.9 L442.7,579.4 L442.8,577.9 L442.9,576.4 L443.0,574.9 L443.1,573.4 L443.2,571.9 L443.4,570.4 L443.5,568.9 L443.6,567.4 L443.7,565.9 L443.8,564.4 L443.9,562.9 L444.0,561.4 L444.1,559.9 L444.2,558.4 L444.3,556.9 L444.4,555.4 L444.6,553.9 L444.7,552.4 L444.8,550.9 L444.9,549.4 L445.0,547.9 L445.1,546.4 L445.3,544.9 L445.4,543.4 L445.5,541.9 L445.6,540.4 L445.8,538.9 L445.9,537.4 L446.0,535.9 L446.1,534.4 L446.3,532.9 L446.4,531.4 L446.5,529.9 L446.7,528.4 L446.8,526.9 L446.9,525.4 L447.1,523.9 L447.2,522.4 L447.3,520.9 L447.5,519.4 L447.6,517.9 L447.7,516.4 L447.9,514.9 L448.0,513.4 L448.2,511.9 L448.3,510.4 L448.5,508.9 L448.6,507.4 L448.8,505.9 L448.9,504.4 L449.1,502.9 L449.2,501.4 L449.4,499.9 L449.5,498.4 L449.7,496.9 L449.9,495.4 L450.1,493.9 L450.2,492.4 L450.4,490.9 L450.6,489.4 L450.8,487.9 L451.0,486.4 L451.2,484.9 L451.4,483.4 L451.7,481.9 L451.9,480.5 L452.1,479.0 L452.4,477.5 L452.6,476.0 L452.9,474.6 L453.2,473.1 L453.5,471.6 L453.8,470.2 L454.1,468.7 L454.4,467.2 L454.7,465.8 L455.1,464.3 L455.4,462.9 L455.8,461.5 L456.1,460.0 L456.5,458.6 L456.9,457.1 L457.3,455.7 L457.8,454.3 L458.2,452.9 L458.7,451.5 L459.1,450.1 L459.6,448.7 L460.1,447.3 L460.6,445.9 L461.2,444.5 L461.7,443.1 L462.3,441.7 L462.8,440.3 L463.4,438.9 L464.0,437.6 L464.6,436.2 L465.2,434.8 L465.8,433.5 L466.5,432.1 L467.1,430.7 L467.7,429.4 L468.4,428.0 L469.0,426.7 L469.7,425.3 L470.4,424.0 L471.0,422.6 L471.7,421.2 L472.4,419.9 L473.0,418.5 L473.7,417.2 L474.4,415.8 L475.1,414.5 L475.7,413.1 L476.4,411.7 L477.1,410.4 L477.7,409.0 L478.4,407.6 L479.0,406.3 L479.7,404.9 L480.3,403.5 L481.0,402.1 L481.6,400.7 L482.2,399.3 L482.8,398.0 L483.4,396.6 L484.0,395.2 L484.6,393.8 L485.3,392.4 L485.9,391.0 L486.5,389.6 L487.1,388.2 L487.7,386.8 L488.3,385.5 L489.0,384.1 L489.6,382.7 L490.3,381.4 L491.0,380.1 L491.7,378.8 L492.4,377.5 L493.2,376.2 L493.9,374.9 L494.7,373.6 L495.5,372.4 L496.4,371.2 L497.2,370.0 L498.1,368.8 L499.1,367.7 L500.0,366.6 L501.0,365.4 L502.0,364.4 L503.1,363.3 L504.1,362.3 L505.2,361.3 L506.3,360.3 L507.4,359.3 L508.6,358.4 L509.8,357.4 L510.9,356.6 L512.1,355.7 L513.4,354.8 L514.6,354.0 L515.8,353.2 L517.1,352.4 L518.4,351.7 L519.6,350.9 L520.9,350.2 L522.2,349.5 L523.6,348.9 L524.9,348.2 L526.2,347.6 L527.6,347.0 L528.9,346.4 L530.3,345.8 L531.7,345.3 L533.1,344.7 L534.5,344.2 L535.9,343.7 L537.3,343.2 L538.7,342.7 L540.2,342.3 L541.6,341.8 L543.1,341.4 L544.5,341.0 L546.0,340.6 L547.4,340.2 L548.9,339.8 L550.4,339.4 L551.9,339.1 L553.4,338.7 L554.9,338.4 L556.3,338.1 L557.8,337.7 L559.3,337.4 L560.9,337.1 L562.4,336.8 L563.9,336.6 L565.4,336.3 L566.9,336.0 L568.4,335.7 L569.9,335.5 L571.5,335.2 L573.0,335.0 L574.5,334.7 L576.0,334.5 L577.5,334.2 L579.0,334.0 L580.6,333.8 L582.1,333.5 L583.6,333.3 L585.1,333.1 L586.6,332.8 L588.1,332.6 L589.6,332.4 L591.1,332.2 L592.6,332.0 L594.1,331.8 L595.6,331.6 L597.1,331.4 L598.6,331.2 L600.1,331.1 L601.6,330.9 L603.1,330.7 L604.6,330.6 L606.1,330.5 L607.6,330.3 L609.1,330.2 L610.6,330.1 L612.0,330.0 L613.5,330.0 L615.0,329.9 L616.5,329.8 L618.0,329.8 L619.4,329.8 L620.9,329.8 L622.4,329.8 L623.9,329.8 L625.3,329.9 L626.8,329.9 L628.3,330.0 L629.8,330.1 L631.2,330.2 L632.7,330.3 L634.2,330.5 L635.6,330.7 L637.1,330.9 L638.6,331.1 L640.0,331.3 L641.5,331.6 L642.9,331.9 L644.4,332.2 L645.9,332.5 L647.3,332.8 L648.8,333.2 L650.2,333.6 L651.7,334.1 L653.1,334.5 L654.6,335.0 L656.0,335.5 L657.4,336.0 L658.8,336.5 L660.3,337.1 L661.7,337.6 L663.1,338.2 L664.5,338.9 L665.8,339.5 L667.2,340.1 L668.6,340.8 L669.9,341.5 L671.3,342.2 L672.6,343.0 L673.9,343.7 L675.2,344.5 L676.5,345.2 L677.8,346.1 L679.1,346.9 L680.3,347.7 L681.6,348.6 L682.8,349.4 L684.0,350.3 L685.2,351.2 L686.4,352.1 L687.6,353.1 L688.8,354.0 L689.9,355.0 L691.1,356.0 L692.2,356.9 L693.3,358.0 L694.4,359.0 L695.5,360.0 L696.6,361.1 L697.6,362.1 L698.6,363.2 L699.6,364.3 L700.6,365.4 L701.6,366.5 L702.6,367.7 L703.6,368.8 L704.5,370.0 L705.4,371.1 L706.4,372.3 L707.3,373.5 L708.1,374.7 L709.0,375.9 L709.9,377.1 L710.7,378.4 L711.6,379.6 L712.4,380.8 L713.2,382.1 L714.0,383.4 L714.8,384.6 L715.6,385.9 L716.3,387.2 L717.1,388.5 L717.9,389.8 L718.6,391.1 L719.3,392.4 L720.0,393.8 L720.8,395.1 L721.5,396.4 L722.1,397.8 L722.8,399.1 L723.5,400.5 L724.2,401.8 L724.8,403.2 L725.5,404.5 L726.1,405.9 L726.8,407.3 L727.4,408.6 L728.0,410.0 L728.7,411.4 L729.3,412.8 L729.9,414.1 L730.5,415.5 L731.1,416.9 L731.7,418.3 L732.2,419.7 L732.8,421.1 L733.4,422.5 L734.0,423.9 L734.5,425.3 L735.1,426.7 L735.6,428.1 L736.2,429.5 L736.7,430.9 L737.2,432.3 L737.8,433.7 L738.3,435.1 L738.8,436.5 L739.3,437.9 L739.8,439.3 L740.3,440.7 L740.8,442.2 L741.3,443.6 L741.7,445.0 L742.2,446.4 L742.7,447.9 L743.1,449.3 L743.6,450.7 L744.0,452.1 L744.5,453.6 L744.9,455.0 L745.3,456.4 L745.7,457.9 L746.2,459.3 L746.6,460.8 L747.0,462.2 L747.4,463.7 L747.8,465.1 L748.2,466.5 L748.5,468.0 L748.9,469.5 L749.3,470.9 L749.6,472.4 L750.0,473.8 L750.4,475.3 L750.7,476.7 L751.1,478.2 L751.4,479.7 L751.7,481.1 L752.1,482.6 L752.4,484.0 L752.7,485.5 L753.0,487.0 L753.3,488.4 L753.7,489.9 L754.0,491.4 L754.3,492.8 L754.6,494.3 L754.9,495.8 L755.2,497.3 L755.4,498.7 L755.7,500.2 L756.0,501.7 L756.3,503.2 L756.6,504.6 L756.8,506.1 L757.1,507.6 L757.4,509.1 L757.7,510.5 L757.9,512.0 L758.2,513.5 L758.4,515.0 L758.7,516.5 L758.9,517.9 L759.2,519.4 L759.5,520.9 L759.7,522.4 L759.9,523.9 L760.2,525.3 L760.4,526.8 L760.7,528.3 L760.9,529.8 L761.1,531.3 L761.4,532.8 L761.6,534.2 L761.8,535.7 L762.1,537.2 L762.3,538.7 L762.5,540.2 L762.7,541.7 L762.9,543.1 L763.2,544.6 L763.4,546.1 L763.6,547.6 L763.8,549.1 L764.0,550.6 L764.2,552.1 L764.4,553.5 L764.6,555.0 L764.8,556.5 L765.0,558.0 L765.2,559.5 L765.4,561.0 L765.6,562.5 L765.8,564.0 L766.0,565.5 L766.2,566.9 L766.4,568.4 L766.5,569.9 L766.7,571.4 L766.9,572.9 L767.1,574.4 L767.3,575.9 L767.4,577.4 L767.6,578.9 L767.8,580.4 L767.9,581.8 L768.1,583.3 L768.3,584.8 L768.4,586.3 L768.6,587.8 L768.8,589.3 L768.9,590.8 L769.1,592.3 L769.2,593.8 L769.4,595.3 L769.5,596.8 L769.7,598.3 L769.8,599.8 L770.0,601.3 L770.1,602.8 L770.3,604.2 L770.4,605.7 L770.6,607.2 L770.7,608.7 L770.9,610.2 L771.0,611.7 L771.1,613.2 L771.3,614.7 L771.4,616.2 L771.5,617.7 L771.7,619.2 L771.8,620.7 L771.9,622.2 L772.0,623.7 L772.2,625.2 L772.3,626.7 L772.4,628.2 L772.5,629.7 L772.7,631.2 L772.8,632.7 L772.9,634.2 L773.0,635.7 L773.1,637.2 L773.2,638.7 L773.4,640.2 L773.5,641.7 L773.6,643.2 L773.7,644.7 L773.8,646.2 L773.9,647.7 L774.0,649.1 L774.1,650.6 L774.2,652.1 L774.3,653.6 L774.4,655.1 L774.5,656.6 L774.6,658.1 L774.7,659.6 L774.8,661.1 L774.9,662.6 L775.0,664.1 L775.1,665.6 L775.2,667.1 L775.3,668.6 L775.4,670.1 L775.5,671.6 L775.6,673.1 L775.7,674.6 L775.8,676.1 L775.8,677.6 L775.9,679.1 L776.0,680.6 L776.1,682.1 L776.2,683.6 L776.3,685.1 L776.4,686.6 L776.4,688.1 L776.5,689.6 L776.6,691.1 L776.7,692.6 L776.8,694.1 L776.8,695.6 L776.9,697.1 L777.0,698.6 L777.1,700.1 L777.1,701.6 L777.2,703.1 L777.3,704.6 L777.4,706.1 L777.4,707.6 L777.5,709.1 L777.6,710.6 L777.7,712.1 L777.7,713.6 L777.8,715.1 L777.9,716.6 L777.9,718.1 L778.0,719.6 L778.1,721.1 L778.1,722.6 L778.2,724.1 L778.3,725.6 L778.3,727.1 L778.4,728.6 L778.5,730.1 L778.5,731.6 L778.6,733.1 L778.7,734.6 L778.7,736.1 L778.8,737.6 L778.8,739.1 L778.9,740.6 L779.0,742.1 L779.0,743.6 L779.1,745.1 L779.1,746.6 L779.2,748.1 L779.3,749.6 L779.3,751.1 L779.4,752.6 L779.4,754.1 L779.5,755.6 L779.5,757.1 L779.6,758.6 L779.7,760.1 L779.7,761.6 L779.8,763.1 L779.8,764.6 L779.9,766.1 L779.9,767.6 L780.0,769.1 L780.0,770.6 L780.1,772.1 L780.1,773.6 L780.2,775.1 L780.2,776.6 L780.3,778.1 L780.3,779.7 L780.4,781.2 L780.4,782.7 L780.5,784.2 L780.5,785.7 L780.6,787.2 L780.6,788.7 L780.7,790.2 L780.7,791.7 L780.8,793.2 L780.8,794.7 L780.9,796.2 L780.9,797.7 L781.0,799.2 L781.0,800.7 L781.1,802.2 L781.1,803.7 L781.1,805.2 L781.2,806.7 L781.2,808.2 L781.3,809.7 L781.3,811.2 L781.4,812.7 L781.4,814.2 L781.5,815.7 L781.5,817.2 L781.5,818.7 L781.6,820.2 L781.6,821.7 L781.7,823.2 L781.7,824.7 L781.8,826.2 L781.8,827.7 L781.9,829.2 L781.9,830.7 L781.9,832.2 L782.0,833.7 L782.0,835.2 L782.1,836.7 L782.1,838.2 L782.2,839.7 L782.2,841.2 L782.2,842.7 L782.3,844.2 L782.3,845.7 L782.4,847.2 L782.4,848.7 L782.5,850.2 L782.5,851.7 L782.5,853.2 L782.6,854.7 L782.6,856.2 L782.7,857.7 L782.7,859.2 L782.8,860.7 L782.8,862.2 L782.8,863.7 L782.9,865.2 L782.9,866.7 L783.0,868.2 L783.0,869.7 L783.1,871.2 L783.1,872.7 L783.1,874.2 L783.2,875.7 L783.2,877.2 L783.3,878.7 L783.3,880.2 L783.4,881.7 L783.4,883.2 L783.5,884.7 L783.5,886.2 L783.5,887.7 L783.6,889.2 L783.6,890.7 L783.7,892.2 L783.7,893.7 L783.8,895.2 L783.8,896.7 L783.9,898.2 L783.9,899.7 L784.0,901.2 L784.0,902.7 L784.0,904.2 L784.1,905.7 L784.1,907.2 L784.2,908.7 L784.2,910.2 L784.3,911.7 L784.3,913.2 L784.4,914.7 L784.4,916.2 L784.5,917.7 L784.5,919.2 L784.6,920.7 L784.6,922.2 L784.7,923.7 L784.7,925.2 L784.8,926.7 L784.8,928.2 L784.9,929.7 L784.9,931.2 L785.0,932.7 L785.1,934.2 L785.1,935.7 L785.2,937.2 L785.2,938.7 L785.3,940.2 L785.3,941.7 L785.4,943.2 L785.4,944.7 L785.5,946.2 L785.5,947.7 L785.6,949.2 L785.7,950.7 L785.7,952.2 L785.8,953.7 L785.8,955.2 L785.9,956.7 L786.0,958.2 L786.0,959.7 L786.1,961.2 L786.1,962.7 L786.2,964.2 L786.3,965.7 L786.3,967.2 L786.4,968.7 L786.5,970.2 L786.5,971.7 L786.6,973.2 L786.7,974.7 L786.7,976.2 L786.8,977.7 L786.9,979.2 L786.9,980.7 L787.0,982.2 L787.1,983.7 L787.1,985.2 L787.2,986.7 L787.3,988.2 L787.4,989.7 L787.4,991.2 L787.5,992.8 L787.6,991.2 L787.6,989.7 L787.7,988.2 L787.8,986.7 L787.8,985.2 L787.9,983.7 L788.0,982.2 L788.0,980.7 L788.1,979.2 L788.2,977.7 L788.2,976.2 L788.3,974.7 L788.4,973.2 L788.4,971.7 L788.5,970.2 L788.6,968.7 L788.6,967.2 L788.7,965.7 L788.7,964.2 L788.8,962.7 L788.9,961.2 L788.9,959.7 L789.0,958.2 L789.0,956.7 L789.1,955.1 L789.2,953.6 L789.2,952.1 L789.3,950.6 L789.3,949.1 L789.4,947.6 L789.4,946.1 L789.5,944.6 L789.5,943.1 L789.6,941.6 L789.7,940.1 L789.7,938.6 L789.8,937.1 L789.8,935.6 L789.9,934.1 L789.9,932.6 L790.0,931.1 L790.0,929.6 L790.1,928.1 L790.1,926.6 L790.2,925.0 L790.2,923.5 L790.3,922.0 L790.3,920.5 L790.4,919.0 L790.4,917.5 L790.5,916.0 L790.5,914.5 L790.6,913.0 L790.6,911.5 L790.7,910.0 L790.7,908.5 L790.8,907.0 L790.8,905.5 L790.9,904.0 L790.9,902.5 L791.0,901.0 L791.0,899.5 L791.1,897.9 L791.1,896.4 L791.2,894.9 L791.2,893.4 L791.3,891.9 L791.3,890.4 L791.4,888.9 L791.4,887.4 L791.5,885.9 L791.5,884.4 L791.6,882.9 L791.6,881.4 L791.7,879.9 L791.7,878.4 L791.7,876.9 L791.8,875.4 L791.8,873.8 L791.9,872.3 L791.9,870.8 L792.0,869.3 L792.0,867.8 L792.1,866.3 L792.1,864.8 L792.2,863.3 L792.2,861.8 L792.3,860.3 L792.3,858.8 L792.3,857.3 L792.4,855.8 L792.4,854.3 L792.5,852.8 L792.5,851.3 L792.6,849.8 L792.6,848.2 L792.7,846.7 L792.7,845.2 L792.8,843.7 L792.8,842.2 L792.9,840.7 L792.9,839.2 L793.0,837.7 L793.0,836.2 L793.1,834.7 L793.1,833.2 L793.1,831.7 L793.2,830.2 L793.2,828.7 L793.3,827.2 L793.3,825.7 L793.4,824.1 L793.4,822.6 L793.5,821.1 L793.5,819.6 L793.6,818.1 L793.6,816.6 L793.7,815.1 L793.7,813.6 L793.8,812.1 L793.8,810.6 L793.9,809.1 L793.9,807.6 L794.0,806.1 L794.0,804.6 L794.1,803.1 L794.1,801.6 L794.2,800.0 L794.2,798.5 L794.3,797.0 L794.3,795.5 L794.4,794.0 L794.4,792.5 L794.5,791.0 L794.6,789.5 L794.6,788.0 L794.7,786.5 L794.7,785.0 L794.8,783.5 L794.8,782.0 L794.9,780.5 L794.9,779.0 L795.0,777.5 L795.1,776.0 L795.1,774.5 L795.2,772.9 L795.2,771.4 L795.3,769.9 L795.3,768.4 L795.4,766.9 L795.5,765.4 L795.5,763.9 L795.6,762.4 L795.6,760.9 L795.7,759.4 L795.8,757.9 L795.8,756.4 L795.9,754.9 L796.0,753.4 L796.0,751.9 L796.1,750.4 L796.1,748.9 L796.2,747.4 L796.3,745.9 L796.3,744.4 L796.4,742.8 L796.5,741.3 L796.5,739.8 L796.6,738.3 L796.7,736.8 L796.8,735.3 L796.8,733.8 L796.9,732.3 L797.0,730.8 L797.0,729.3 L797.1,727.8 L797.2,726.3 L797.3,724.8 L797.3,723.3 L797.4,721.8 L797.5,720.3 L797.5,718.8 L797.6,717.3 L797.7,715.8 L797.8,714.3 L797.9,712.8 L797.9,711.3 L798.0,709.8 L798.1,708.3 L798.2,706.8 L798.3,705.3 L798.3,703.7 L798.4,702.2 L798.5,700.7 L798.6,699.2 L798.7,697.7 L798.8,696.2 L798.8,694.7 L798.9,693.2 L799.0,691.7 L799.1,690.2 L799.2,688.7 L799.3,687.2 L799.4,685.7 L799.5,684.2 L799.6,682.7 L799.7,681.2 L799.7,679.7 L799.8,678.2 L799.9,676.7 L800.0,675.2 L800.1,673.7 L800.2,672.2 L800.3,670.7 L800.4,669.2 L800.5,667.7 L800.6,666.2 L800.7,664.7 L800.8,663.2 L800.9,661.7 L801.0,660.2 L801.1,658.7 L801.2,657.2 L801.3,655.7 L801.5,654.2 L801.6,652.7 L801.7,651.2 L801.8,649.7 L801.9,648.2 L802.0,646.7 L802.1,645.2 L802.2,643.7 L802.3,642.2 L802.5,640.7 L802.6,639.2 L802.7,637.7 L802.8,636.2 L802.9,634.7 L803.1,633.2 L803.2,631.7 L803.3,630.2 L803.4,628.7 L803.6,627.2 L803.7,625.7 L803.8,624.2 L803.9,622.7 L804.1,621.2 L804.2,619.7 L804.3,618.2 L804.5,616.7 L804.6,615.2 L804.7,613.7 L804.9,612.2 L805.0,610.7 L805.1,609.2 L805.3,607.7 L805.4,606.2 L805.5,604.7 L805.7,603.2 L805.8,601.7 L806.0,600.2 L806.1,598.7 L806.3,597.2 L806.4,595.7 L806.6,594.2 L806.7,592.7 L806.9,591.2 L807.0,589.7 L807.2,588.3 L807.3,586.8 L807.5,585.3 L807.6,583.8 L807.8,582.3 L807.9,580.8 L808.1,579.3 L808.3,577.8 L808.4,576.3 L808.6,574.8 L808.8,573.3 L808.9,571.8 L809.1,570.3 L809.3,568.8 L809.4,567.3 L809.6,565.8 L809.8,564.3 L809.9,562.8 L810.1,561.3 L810.3,559.8 L810.5,558.4 L810.6,556.9 L810.8,555.4 L811.0,553.9 L811.2,552.4 L811.4,550.9 L811.6,549.4 L811.7,547.9 L811.9,546.4 L812.1,544.9 L812.3,543.4 L812.5,541.9 L812.7,540.4 L812.9,538.9 L813.1,537.5 L813.3,536.0 L813.5,534.5 L813.7,533.0 L813.9,531.5 L814.1,530.0 L814.3,528.5 L814.5,527.0 L814.7,525.5 L814.9,524.0 L815.1,522.5 L815.3,521.1 L815.5,519.6 L815.8,518.1 L816.0,516.6 L816.2,515.1 L816.4,513.6 L816.6,512.1 L816.9,510.6 L817.1,509.1 L817.3,507.6 L817.5,506.2 L817.8,504.7 L818.0,503.2 L818.2,501.7 L818.5,500.2 L818.7,498.7 L818.9,497.2 L819.2,495.7 L819.4,494.2 L819.6,492.8 L819.9,491.3 L820.1,489.8 L820.4,488.3 L820.6,486.8 L820.9,485.3 L821.1,483.8 L821.4,482.4 L821.6,480.9 L821.9,479.4 L822.1,477.9 L822.4,476.4 L822.6,474.9 L822.9,473.4 L823.2,472.0 L823.4,470.5 L823.7,469.0 L824.0,467.5 L824.2,466.0 L824.5,464.5 L824.8,463.0 L825.1,461.6 L825.3,460.1 L825.6,458.6 L825.9,457.1 L826.2,455.6 L826.5,454.1 L826.7,452.7 L827.0,451.2 L827.3,449.7 L827.6,448.2 L827.9,446.7 L828.2,445.2 L828.5,443.8 L828.8,442.3 L829.1,440.8 L829.4,439.3 L829.7,437.8 L830.0,436.4 L830.3,434.9 L830.6,433.4 L830.9,431.9 L831.2,430.4 L831.6,429.0 L831.9,427.5 L832.2,426.0 L832.5,424.5 L832.8,423.0 L833.2,421.6 L833.5,420.1 L833.8,418.6 L834.1,417.1 L834.5,415.6 L834.8,414.2 L835.1,412.7 L835.5,411.2 L835.8,409.7 L836.1,408.2 L836.5,406.8 L836.8,405.3 L837.2,403.8 L837.5,402.3 L837.9,400.9 L838.2,399.4 L838.6,397.9 L839.0,396.4 L839.3,395.0 L839.7,393.5 L840.1,392.0 L840.4,390.6 L840.8,389.1 L841.2,387.6 L841.6,386.2 L842.0,384.7 L842.4,383.2 L842.8,381.8 L843.2,380.3 L843.6,378.9 L844.0,377.4 L844.4,376.0 L844.8,374.5 L845.2,373.1 L845.7,371.6 L846.1,370.2 L846.6,368.7 L847.0,367.3 L847.5,365.9 L847.9,364.4 L848.4,363.0 L848.8,361.6 L849.3,360.1 L849.8,358.7 L850.3,357.3 L850.8,355.9 L851.3,354.5 L851.8,353.0 L852.3,351.6 L852.8,350.2 L853.4,348.8 L853.9,347.4 L854.4,346.0 L855.0,344.6 L855.6,343.3 L856.1,341.9 L856.7,340.5 L857.3,339.1 L857.9,337.7 L858.5,336.4 L859.1,335.0 L859.7,333.7 L860.3,332.3 L860.9,331.0 L861.6,329.6 L862.2,328.3 L862.9,326.9 L863.6,325.6 L864.2,324.3 L864.9,322.9 L865.6,321.6 L866.3,320.3 L867.0,319.0 L867.8,317.7 L868.5,316.4 L869.2,315.1 L870.0,313.8 L870.8,312.5 L871.5,311.3 L872.3,310.0 L873.1,308.7 L873.9,307.5 L874.8,306.2 L875.6,305.0 L876.5,303.8 L877.4,302.6 L878.3,301.4 L879.3,300.3 L880.3,299.2 L881.4,298.2 L882.5,297.2 L883.6,296.2 L884.9,295.3 L886.1,294.5 L887.5,293.7 L888.6,294.8 L889.7,295.8 L890.7,296.9 L891.6,298.1 L892.6,299.2 L893.5,300.4 L894.4,301.6 L895.2,302.8 L896.0,304.0 L896.8,305.3 L897.5,306.5 L898.2,307.8 L898.9,309.1 L899.5,310.5 L900.2,311.8 L900.8,313.1 L901.4,314.5 L901.9,315.9 L902.4,317.3 L903.0,318.7 L903.5,320.1 L903.9,321.5 L904.4,322.9 L904.8,324.4 L905.3,325.8 L905.7,327.3 L906.1,328.8 L906.5,330.2 L906.8,331.7 L907.2,333.2 L907.6,334.7 L907.9,336.2 L908.2,337.7 L908.6,339.2 L908.9,340.7 L909.2,342.2 L909.6,343.7 L909.9,345.2 L910.2,346.7 L910.5,348.1 L910.8,349.6 L911.1,351.1 L911.4,352.6 L911.8,354.1 L912.1,355.6 L912.4,357.1 L912.7,358.6 L913.0,360.1 L913.3,361.6 L913.6,363.1 L913.9,364.6 L914.2,366.1 L914.5,367.6 L914.8,369.0 L915.0,370.5 L915.3,372.0 L915.6,373.5 L915.9,375.0 L916.2,376.5 L916.5,378.0 L916.7,379.5 L917.0,381.0 L917.3,382.4 L917.6,383.9 L917.8,385.4 L918.1,386.9 L918.4,388.4 L918.6,389.9 L918.9,391.4 L919.2,392.8 L919.4,394.3 L919.7,395.8 L919.9,397.3 L920.2,398.8 L920.4,400.3 L920.7,401.8 L920.9,403.3 L921.2,404.7 L921.4,406.2 L921.6,407.7 L921.9,409.2 L922.1,410.7 L922.3,412.2 L922.6,413.7 L922.8,415.2 L923.0,416.6 L923.2,418.1 L923.4,419.6 L923.7,421.1 L923.9,422.6 L924.1,424.1 L924.3,425.6 L924.5,427.1 L924.7,428.6 L924.9,430.1 L925.1,431.6 L925.3,433.1 L925.5,434.5 L925.6,436.0 L925.8,437.5 L926.0,439.0 L926.2,440.5 L926.4,442.0 L926.5,443.5 L926.7,445.0 L926.9,446.5 L927.0,448.0 L927.2,449.5 L927.4,451.0 L927.5,452.5 L927.7,454.0 L927.8,455.5 L928.0,457.0 L928.1,458.5 L928.3,460.0 L928.4,461.6 L928.6,463.1 L928.7,464.6 L928.9,466.1 L929.0,467.6 L929.1,469.1 L929.3,470.6 L929.4,472.1 L929.5,473.6 L929.7,475.1 L929.8,476.6 L929.9,478.1 L930.1,479.6 L930.2,481.1 L930.3,482.7 L930.5,484.2 L930.6,485.7 L930.7,487.2 L930.8,488.7 L931.0,490.2 L931.1,491.7 L931.2,493.2 L931.3,494.7 L931.4,496.2 L931.6,497.8 L931.7,499.3 L931.8,500.8 L931.9,502.3 L932.0,503.8 L932.2,505.3 L932.3,506.8 L932.4,508.3 L932.5,509.8 L932.7,511.3 L932.8,512.9 L932.9,514.4 L933.0,515.9 L933.1,517.4 L933.3,518.9 L933.4,520.4 L933.5,521.9 L933.6,523.4 L933.8,524.9 L933.9,526.4 L934.0,528.0 L934.2,529.5 L934.3,531.0 L934.4,532.5 L934.5,534.0 L934.7,535.5 L934.8,537.0 L935.0,538.5 L935.1,540.0 L935.2,541.5 L935.4,543.0 L935.5,544.5 L935.7,546.0 L935.8,547.5 L936.0,549.0 L936.1,550.5 L936.3,552.1 L936.4,553.6 L936.6,555.1 L936.7,556.6 L936.9,558.1 L937.0,559.6 L937.2,561.1 L937.4,562.6 L937.5,564.1 L937.7,565.6 L937.9,567.1 L938.1,568.6 L938.2,570.1 L938.4,571.6 L938.6,573.0 L938.8,574.5 L939.0,576.0 L939.2,577.5 L939.4,579.0 L939.6,580.5 L939.8,582.0 L940.0,583.5 L940.2,582.0 L940.5,580.5 L940.7,579.0 L941.0,577.5 L941.2,576.1 L941.4,574.6 L941.7,573.1 L941.9,571.6 L942.1,570.1 L942.3,568.6 L942.6,567.1 L942.8,565.6 L943.0,564.1 L943.2,562.6 L943.4,561.1 L943.6,559.6 L943.8,558.1 L944.0,556.7 L944.2,555.2 L944.4,553.7 L944.6,552.2 L944.8,550.7 L945.0,549.2 L945.2,547.7 L945.4,546.2 L945.6,544.7 L945.8,543.2 L946.0,541.7 L946.2,540.2 L946.4,538.7 L946.5,537.2 L946.7,535.7 L946.9,534.2 L947.1,532.7 L947.3,531.2 L947.4,529.7 L947.6,528.2 L947.8,526.7 L947.9,525.2 L948.1,523.7 L948.3,522.2 L948.5,520.7 L948.6,519.3 L948.8,517.8 L949.0,516.3 L949.1,514.8 L949.3,513.3 L949.5,511.8 L949.6,510.3 L949.8,508.8 L950.0,507.3 L950.1,505.8 L950.3,504.3 L950.4,502.8 L950.6,501.3 L950.8,499.8 L950.9,498.3 L951.1,496.8 L951.3,495.3 L951.4,493.8 L951.6,492.3 L951.7,490.8 L951.9,489.3 L952.1,487.8 L952.2,486.3 L952.4,484.8 L952.6,483.3 L952.7,481.8 L952.9,480.3 L953.1,478.8 L953.2,477.3 L953.4,475.8 L953.6,474.3 L953.7,472.8 L953.9,471.3 L954.1,469.8 L954.2,468.3 L954.4,466.8 L954.6,465.3 L954.7,463.8 L954.9,462.3 L955.1,460.8 L955.3,459.3 L955.4,457.9 L955.6,456.4 L955.8,454.9 L956.0,453.4 L956.2,451.9 L956.3,450.4 L956.5,448.9 L956.7,447.4 L956.9,445.9 L957.1,444.4 L957.3,442.9 L957.5,441.4 L957.7,439.9 L957.9,438.4 L958.1,436.9 L958.3,435.4 L958.5,434.0 L958.7,432.5 L958.9,431.0 L959.1,429.5 L959.3,428.0 L959.5,426.5 L959.7,425.0 L960.0,423.5 L960.2,422.0 L960.4,420.5 L960.6,419.1 L960.9,417.6 L961.1,416.1 L961.3,414.6 L961.6,413.1 L961.8,411.6 L962.0,410.1 L962.3,408.7 L962.5,407.2 L962.8,405.7 L963.0,404.2 L963.3,402.7 L963.6,401.2 L963.8,399.8 L964.1,398.3 L964.3,396.8 L964.6,395.3 L964.9,393.8 L965.2,392.3 L965.5,390.9 L965.7,389.4 L966.0,387.9 L966.3,386.4 L966.6,384.9 L966.9,383.5 L967.2,382.0 L967.5,380.5 L967.8,379.0 L968.2,377.6 L968.5,376.1 L968.8,374.6 L969.1,373.1 L969.5,371.7 L969.8,370.2 L970.1,368.7 L970.5,367.3 L970.8,365.8 L971.2,364.3 L971.5,362.9 L971.9,361.4 L972.3,359.9 L972.7,358.5 L973.0,357.0 L973.4,355.5 L973.8,354.1 L974.2,352.6 L974.7,351.2 L975.1,349.7 L975.5,348.3 L976.0,346.8 L976.4,345.4 L976.9,344.0 L977.3,342.5 L977.8,341.1 L978.3,339.7 L978.8,338.2 L979.3,336.8 L979.9,335.4 L980.4,334.0 L980.9,332.6 L981.5,331.2 L982.1,329.8 L982.7,328.4 L983.3,327.0 L983.9,325.6 L984.5,324.2 L985.1,322.8 L985.8,321.5 L986.5,320.1 L987.1,318.7 L987.8,317.4 L988.6,316.0 L989.3,314.7 L990.0,313.3 L990.8,312.0 L991.6,310.7 L992.4,309.4 L993.2,308.1 L994.0,306.8 L994.9,305.5 L995.7,304.2 L996.6,302.9 L997.5,301.6 L998.5,300.4 L999.4,299.2 L1000.4,298.0 L1001.3,296.8 L1002.3,295.6 L1003.3,294.5 L1004.4,293.3 L1005.4,292.2 L1006.5,291.2 L1007.6,290.1 L1008.7,289.1 L1009.8,288.2 L1011.0,287.2 L1012.1,286.3 L1013.3,285.5 L1014.5,284.7 L1015.7,283.9 L1017.0,283.1 L1018.2,282.4 L1019.5,281.8 L1020.8,281.2 L1022.2,280.6 L1023.5,280.1 L1024.9,279.7 L1026.2,279.3 L1027.6,278.9 L1029.1,278.6 L1030.5,278.4 L1031.9,278.2 L1033.4,278.0 L1034.8,277.9 L1036.3,277.8 L1037.8,277.8 L1039.2,277.8 L1040.7,277.8 L1042.2,277.9 L1043.7,278.1 L1045.2,278.2 L1046.7,278.4 L1048.2,278.7 L1049.7,279.0 L1051.1,279.3 L1052.6,279.7 L1054.1,280.1 L1055.5,280.5 L1057.0,281.0 L1058.4,281.4 L1059.8,282.0 L1061.2,282.5 L1062.6,283.1 L1064.0,283.7 L1065.3,284.4 L1066.7,285.0 L1068.0,285.7 L1069.3,286.5 L1070.6,287.2 L1071.9,288.0 L1073.2,288.8 L1074.5,289.6 L1075.8,290.4 L1077.0,291.2 L1078.3,292.1 L1079.5,293.0 L1080.7,293.9 L1081.9,294.8 L1083.2,295.8 L1084.4,296.7 L1085.6,297.7 L1086.8,298.6 L1087.9,299.6 L1089.1,300.6 L1090.3,301.6 L1091.5,302.6 L1092.6,303.6 L1093.8,304.6 L1094.9,305.6 L1096.1,306.7 L1097.2,307.7 L1098.4,308.7 L1099.5,309.8 L1100.7,310.8 L1101.8,311.8 L1103.0,312.9 L1104.1,313.9 L1105.2,314.9 L1106.4,315.9 L1107.5,317.0 L1108.6,318.0 L1109.8,319.0 L1110.9,320.0 L1112.0,321.0 L1113.2,322.1 L1114.3,323.1 L1115.4,324.1 L1116.6,325.1 L1117.7,326.1 L1118.9,327.1 L1120.0,328.1 L1121.1,329.1 L1122.3,330.0 L1123.4,331.0 L1124.6,332.0 L1125.7,333.0 L1126.9,333.9 L1128.0,334.9 L1129.2,335.9 L1130.3,336.8 L1131.5,337.8 L1132.7,338.7 L1133.8,339.6 L1135.0,340.6 L1136.2,341.5 L1137.3,342.4 L1138.5,343.3 L1139.7,344.2 L1140.9,345.1 L1142.1,346.0 L1143.3,346.9 L1144.5,347.8 L1145.7,348.6 L1146.9,349.5 L1148.2,350.4 L1149.4,351.2 L1150.6,352.0 L1151.9,352.9 L1153.1,353.7 L1154.4,354.5 L1155.6,355.3 L1156.9,356.1 L1158.1,356.8 L1159.4,357.6 L1160.7,358.4 L1162.0,359.1 L1163.3,359.9 L1164.6,360.6 L1165.9,361.3 L1167.3,362.0 L1168.6,362.7 L1169.9,363.4 L1171.3,364.1 L1172.6,364.7 L1174.0,365.3 L1175.4,365.9 L1176.8,366.5 L1178.2,367.1 L1179.6,367.6 L1181.0,368.1 L1182.4,368.6 L1183.8,369.0 L1185.3,369.4 L1186.7,369.8 L1188.2,370.2 L1189.7,370.5 L1191.1,370.8 L1192.6,371.0 L1194.1,371.2 L1195.6,371.3 L1197.2,371.4 L1198.7,371.5 L1199.4,373.1 L1201.0,373.3 L1202.6,373.4 L1204.2,373.4 L1205.8,373.4 L1207.3,373.4 L1208.9,373.3 L1210.5,373.2 L1212.1,373.0 L1213.6,372.8 L1215.2,372.6 L1216.7,372.4 L1218.3,372.1 L1219.8,371.8 L1221.4,371.4 L1222.9,371.1 L1224.5,370.7 L1226.0,370.3 L1227.6,369.9 L1229.1,369.5 L1230.6,369.1 L1232.2,368.7 L1233.7,368.3 L1235.3,367.9 L1236.8,367.5 L1238.3,367.1 L1239.9,366.7 L1241.4,366.3 L1242.9,365.9 L1244.5,365.5 L1246.0,365.2 L1248.6,368.2 L1250.0,367.6 L1251.4,367.0 L1252.7,366.4 L1254.1,365.7 L1255.5,365.1 L1256.8,364.5 L1258.2,363.8 L1259.5,363.2 L1260.9,362.5 L1262.3,361.8 L1263.6,361.2 L1265.0,360.5 L1266.3,359.9 L1267.7,359.2 L1269.0,358.5 L1270.4,357.9 L1271.8,357.2 L1273.1,356.5 L1274.5,355.8 L1275.8,355.2 L1277.2,354.5 L1278.5,353.8 L1279.9,353.2 L1281.2,352.5 L1282.6,351.9 L1284.0,351.2 L1285.3,350.6 L1286.7,349.9 L1288.1,349.3 L1289.4,348.6 L1290.8,348.0 L1292.2,347.4 L1293.6,346.8 L1294.9,346.2 L1296.3,345.6 L1297.7,345.0 L1299.1,344.4 L1300.5,343.8 L1301.9,343.2 L1303.3,342.7 L1304.7,342.1 L1306.1,341.6 L1307.5,341.1 L1308.9,340.5 L1310.3,340.0 L1311.8,339.5 L1313.2,339.0 L1314.6,338.5 L1316.0,338.0 L1317.5,337.6 L1318.9,337.1 L1320.3,336.6 L1321.8,336.2 L1323.2,335.7 L1324.7,335.2 L1326.1,334.8 L1327.5,334.4 L1329.0,333.9 L1330.4,333.5 L1331.9,333.1 L1333.3,332.6 L1334.8,332.2 L1336.2,331.8 L1337.7,331.4 L1339.2,331.0 L1340.6,330.6 L1342.1,330.2 L1343.5,329.7 L1345.0,329.3 L1346.4,328.9 L1347.9,328.5 L1349.4,328.1 L1350.8,327.7 L1352.3,327.3 L1353.7,326.9 L1355.2,326.5 L1356.6,326.1 L1358.1,325.7 L1359.5,325.3 L1361.0,324.9 L1362.5,324.5 L1363.9,324.1 L1365.4,323.7 L1366.8,323.3 L1368.3,322.9 L1369.7,322.5 L1371.1,322.1 L1372.6,321.6 L1374.0,321.2 L1375.5,320.8 L1376.9,320.4 L1378.3,319.9 L1379.8,319.5 L1381.2,319.0 L1382.6,318.6 L1384.1,318.1 L1385.5,317.7 L1386.9,317.2 L1388.3,316.7 L1389.7,316.2 L1391.1,315.8 L1392.6,315.3 L1394.0,314.8 L1395.4,314.3 L1396.8,313.7 L1398.2,313.2 L1399.6,312.7 L1401.0,312.1 L1402.4,311.6 L1403.7,311.0 L1405.1,310.5 L1406.5,309.9 L1407.9,309.3 L1409.3,308.7 L1410.7,308.1 L1412.0,307.5 L1413.4,306.9 L1414.8,306.3 L1416.2,305.7 L1417.5,305.1 L1418.9,304.5 L1420.3,303.9 L1421.7,303.2 L1423.0,302.6 L1424.4,302.0 L1425.8,301.3 L1427.1,300.7 L1428.5,300.0 L1429.8,299.4 L1431.2,298.7 L1432.5,298.0 L1433.9,297.4 L1435.2,296.7 L1436.6,296.0 L1437.9,295.3 L1439.3,294.6 L1440.6,293.9 L1441.9,293.2 L1443.3,292.5 L1444.6,291.7 L1445.9,291.0 L1447.2,290.3 L1448.6,289.5 L1449.9,288.8 L1451.2,288.0 L1452.5,287.3 L1453.8,286.5 L1455.1,285.7 L1456.4,284.9 L1457.6,284.1 L1458.9,283.3 L1460.2,282.5 L1461.5,281.7 L1462.7,280.9 L1464.0,280.0 L1465.2,279.2 L1466.5,278.4 L1467.7,277.5 L1468.9,276.6 L1470.2,275.8 L1471.4,274.9 L1472.6,274.0 L1473.8,273.1 L1475.0,272.2 L1476.3,271.3 L1477.5,270.4 L1478.7,269.5 L1479.9,268.6 L1481.0,267.7 L1482.2,266.8 L1483.4,265.8 L1484.6,264.9 L1485.8,263.9 L1487.0,263.0 L1488.1,262.1 L1489.3,261.1 L1490.5,260.1 L1491.6,259.2 L1492.8,258.2 L1493.9,257.3 L1495.1,256.3 L1496.2,255.3 L1497.4,254.3 L1498.5,253.4 L1499.7,252.4 L1500.8,251.4 L1502.0,250.4 L1503.1,249.4 L1504.3,248.4 L1505.4,247.5 L1506.6,246.5 L1507.7,245.5 L1508.8,244.5 L1510.0,243.5 L1511.1,242.5 L1512.2,241.5 L1513.4,240.5 L1514.5,239.5 L1515.7,238.6 L1516.8,237.6 L1518.0,236.6 L1519.1,235.6 L1520.2,234.6 L1521.4,233.6 L1522.5,232.6 L1523.7,231.7 L1524.8,230.7 L1526.0,229.7 L1527.1,228.7 L1528.3,227.7 L1529.4,226.8 L1530.6,225.8 L1531.8,224.8 L1532.9,223.9 L1534.1,222.9 L1535.3,222.0 L1536.4,221.0 L1537.6,220.1 L1538.8,219.1 L1540.0,218.2 L1541.2,217.3 L1542.4,216.4 L1543.6,215.4 L1544.8,214.5 L1546.0,213.6 L1547.2,212.7 L1548.4,211.8 L1549.6,210.9 L1550.8,210.0 L1552.0,209.1 L1553.2,208.2 L1554.5,207.3 L1555.7,206.4 L1556.9,205.6 L1558.2,204.7 L1559.4,203.8 L1560.6,203.0 L1561.9,202.1 L1563.1,201.3 L1564.4,200.4 L1565.6,199.6 L1566.9,198.7 L1568.1,197.9 L1569.4,197.1 L1570.7,196.3 L1571.9,195.4 L1573.2,194.6 L1574.5,193.8 L1575.8,193.0 L1577.0,192.2 L1578.3,191.4 L1579.6,190.6 L1580.9,189.9 L1582.2,189.1 L1583.5,188.3 L1584.8,187.5 L1586.1,186.8 L1587.4,186.0 L1588.7,185.3 L1590.0,184.5 L1591.3,183.8 L1592.6,183.0 L1594.0,182.3 L1595.3,181.6 L1596.6,180.9 L1597.9,180.1 L1599.3,179.4 L1600.6,178.7 L1601.9,178.0 L1603.3,177.3 L1604.6,176.6 L1606.0,176.0 L1607.3,175.3 L1608.7,174.6 L1610.0,173.9 L1611.4,173.3 L1612.7,172.6 L1614.1,172.0 L1615.4,171.3 L1616.8,170.7 L1618.2,170.1 L1619.5,169.4 L1620.9,168.8 L1622.3,168.2 L1623.7,167.6 L1625.1,167.0 L1626.4,166.4 L1627.8,165.8 L1629.2,165.2 L1630.6,164.6 L1632.0,164.0 L1633.4,163.5 L1634.8,162.9 L1636.2,162.3 L1637.6,161.8 L1639.0,161.2 L1640.4,160.7 L1641.8,160.2 L1643.3,159.6 L1644.7,159.1 L1646.1,158.6 L1647.5,158.1 L1648.9,157.6 L1650.4,157.1 L1651.8,156.6" fill="none" stroke="#77AC30" stroke-width="13.9" stroke-linejoin="round" stroke-linecap="butt"/>
<path d="M238.50,265.30 H1650.5" fill="none" stroke="#FF0000" stroke-opacity="0.7" stroke-width="4.1" stroke-dasharray="33.9 18.29" stroke-dashoffset="1.0"/>
<rect x="1184.8" y="717.3" width="416.60000000000014" height="377.60000000000014" fill="#fff" stroke="#262626" stroke-width="3.1"/>
<path d="M1196.9,759.9 H1328.1" stroke="#0072BD" stroke-width="13.9" fill="none"/>
<text class="lg" x="1337.2" y="781.1999999999999" font-size="56.4">antenna1</text>
<path d="M1196.9,832.9 H1328.1" stroke="#D95319" stroke-width="13.9" fill="none"/>
<text class="lg" x="1337.2" y="854.1999999999999" font-size="56.4">antenna2</text>
<path d="M1196.9,906.0 H1315.0" stroke="#EDB120" stroke-width="13.9" fill="none" stroke-dasharray="14 12"/>
<text class="lg" x="1337.2" y="927.3" font-size="56.4">antenna3</text>
<path d="M1196.9,979.0 H1328.1" stroke="#7E2F8E" stroke-width="13.9" fill="none" stroke-dasharray="53.1 12 27 12.1"/>
<text class="lg" x="1337.2" y="1000.3" font-size="56.4">antenna4</text>
<path d="M1196.9,1052.5 H1328.1" stroke="#77AC30" stroke-width="13.9" fill="none"/>
<text class="lg" x="1337.2" y="1073.8" font-size="56.4">antenna5</text>
<text class="tk" x="238.50" y="1209" font-size="57.6" text-anchor="middle">2</text>
<text class="tk" x="495.23" y="1209" font-size="57.6" text-anchor="middle">4</text>
<text class="tk" x="751.95" y="1209" font-size="57.6" text-anchor="middle">6</text>
<text class="tk" x="1008.68" y="1209" font-size="57.6" text-anchor="middle">8</text>
<text class="tk" x="1265.41" y="1209" font-size="57.6" text-anchor="middle">10</text>
<text class="tk" x="1522.14" y="1209" font-size="57.6" text-anchor="middle">12</text>
<text class="tk" x="218.3" y="60.00" font-size="57.6" text-anchor="end">0</text>
<text class="tk" y="278.80" font-size="57.6"><tspan x="118.1" dy="4.6" textLength="42.6" lengthAdjust="spacingAndGlyphs">−</tspan><tspan x="218.3" dy="-4.6" text-anchor="end">10</tspan></text>
<text class="tk" y="497.60" font-size="57.6"><tspan x="118.1" dy="4.6" textLength="42.6" lengthAdjust="spacingAndGlyphs">−</tspan><tspan x="218.3" dy="-4.6" text-anchor="end">20</tspan></text>
<text class="tk" y="716.40" font-size="57.6"><tspan x="118.1" dy="4.6" textLength="42.6" lengthAdjust="spacingAndGlyphs">−</tspan><tspan x="218.3" dy="-4.6" text-anchor="end">30</tspan></text>
<text class="tk" y="935.20" font-size="57.6"><tspan x="118.1" dy="4.6" textLength="42.6" lengthAdjust="spacingAndGlyphs">−</tspan><tspan x="218.3" dy="-4.6" text-anchor="end">40</tspan></text>
<text class="tk" y="1154.00" font-size="57.6"><tspan x="118.1" dy="4.6" textLength="42.6" lengthAdjust="spacingAndGlyphs">−</tspan><tspan x="218.3" dy="-4.6" text-anchor="end">50</tspan></text>
<text class="lb" x="944" y="1295.7" font-size="62.1" text-anchor="middle">Frequency(GHz)</text>
<text class="lb" transform="translate(61.2,708) rotate(-90)" font-size="62.1">S<tspan x="44" dy="30.0" font-size="50.5" letter-spacing="3.6">11</tspan><tspan x="101" dy="-30.0" letter-spacing="0">(dB)</tspan></text>
</svg></body></html>
